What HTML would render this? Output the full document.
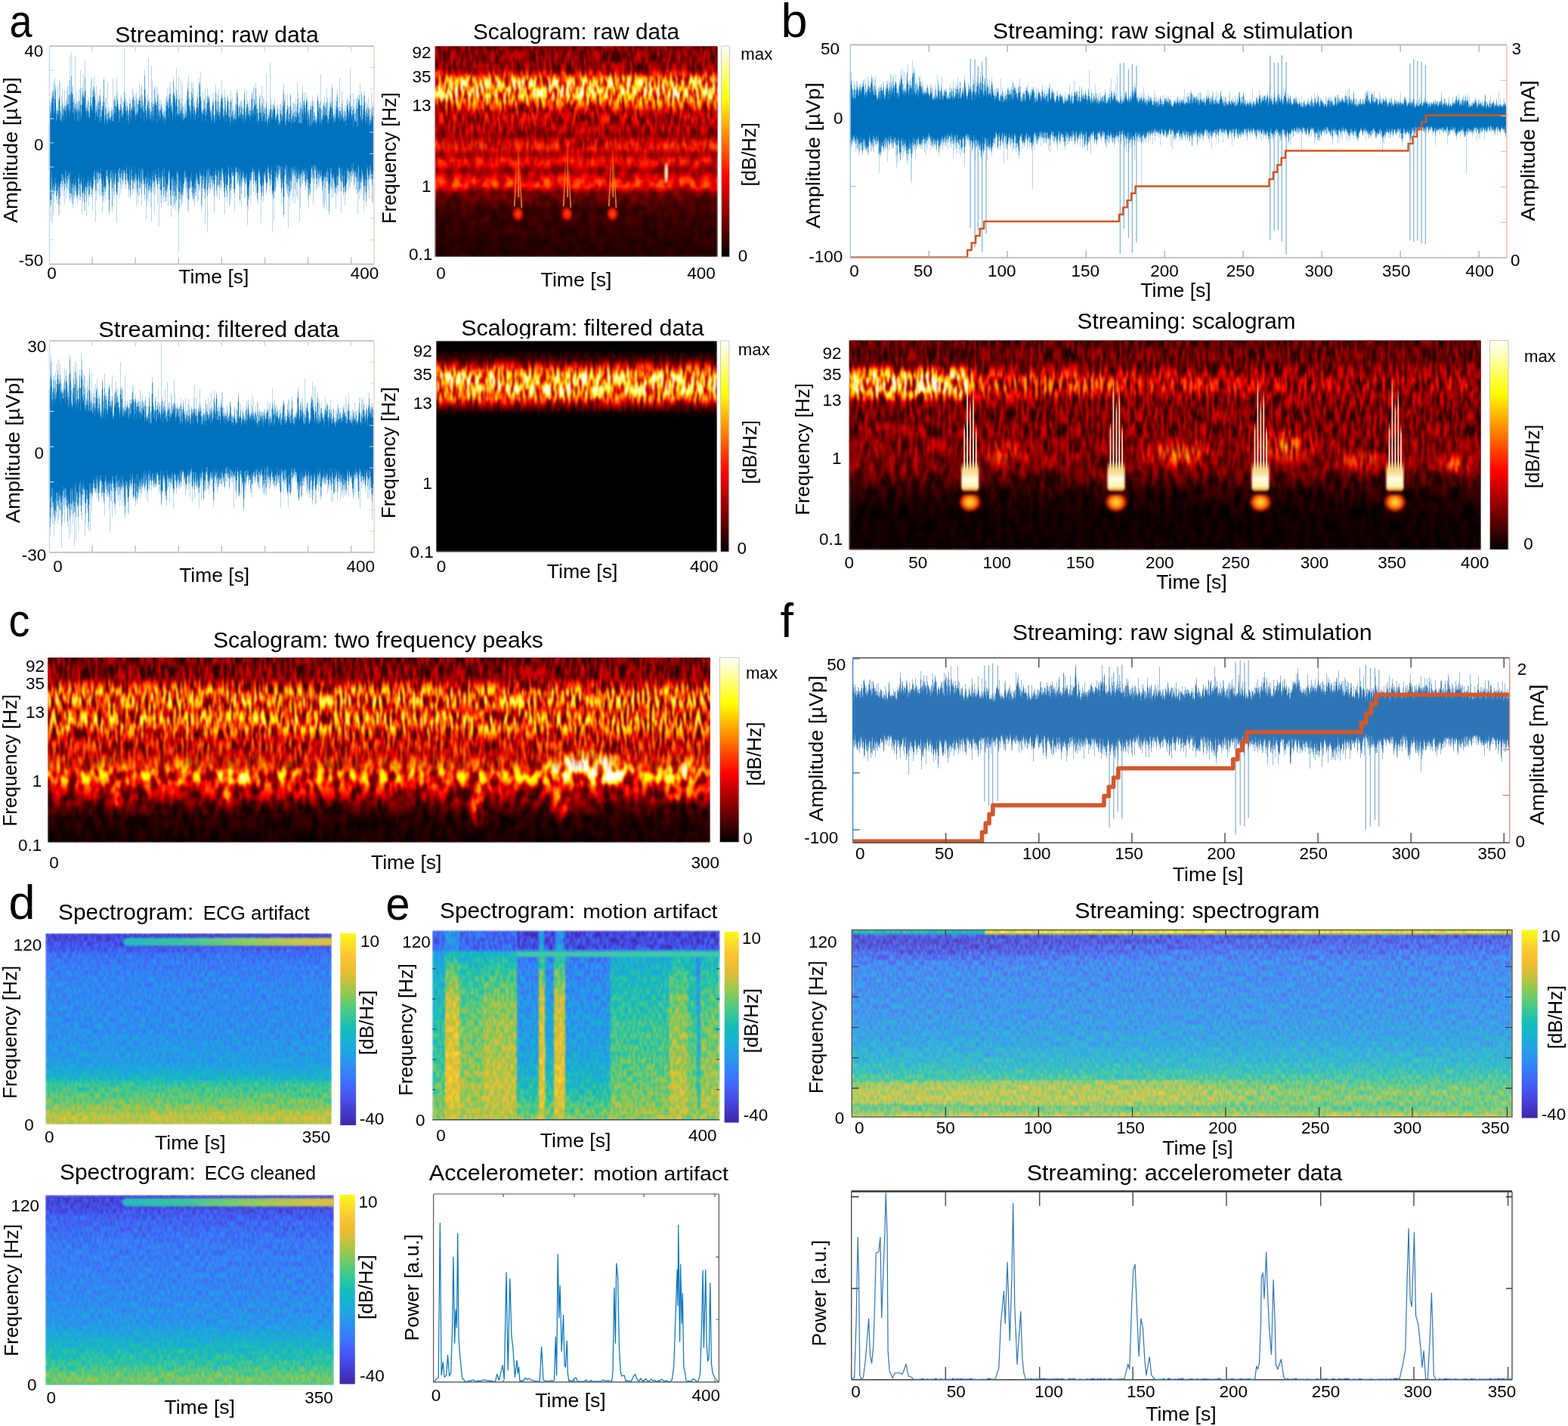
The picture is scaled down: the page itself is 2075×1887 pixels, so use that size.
<!DOCTYPE html>
<html lang="en"><head><meta charset="utf-8"><title>Figure</title>
<style>html,body{margin:0;padding:0;background:#fff}svg{display:block}text{font-family:'Liberation Sans', sans-serif;}</style></head>
<body>
<svg width="2075" height="1887" viewBox="0 0 2075 1887">
<defs>
<radialGradient id="rw"><stop offset="0" stop-color="#fff"/><stop offset="1" stop-color="#fff" stop-opacity="0"/></radialGradient>
<radialGradient id="rk"><stop offset="0" stop-color="#000"/><stop offset="1" stop-color="#000" stop-opacity="0"/></radialGradient>
<filter id="sb" x="-2%" y="-2%" width="104%" height="104%"><feGaussianBlur stdDeviation="0.55 0.4"/></filter>
<linearGradient id="ga2" gradientUnits="userSpaceOnUse" x1="0" y1="61" x2="0" y2="340"><stop offset="0.000" stop-color="#303030"/><stop offset="0.108" stop-color="#363636"/><stop offset="0.129" stop-color="#575757"/><stop offset="0.161" stop-color="#949494"/><stop offset="0.194" stop-color="#ababab"/><stop offset="0.237" stop-color="#a3a3a3"/><stop offset="0.272" stop-color="#757575"/><stop offset="0.308" stop-color="#4a4a4a"/><stop offset="0.401" stop-color="#404040"/><stop offset="0.423" stop-color="#363636"/><stop offset="0.470" stop-color="#5c5c5c"/><stop offset="0.487" stop-color="#5c5c5c"/><stop offset="0.513" stop-color="#3d3d3d"/><stop offset="0.545" stop-color="#616161"/><stop offset="0.563" stop-color="#575757"/><stop offset="0.591" stop-color="#363636"/><stop offset="0.642" stop-color="#696969"/><stop offset="0.663" stop-color="#696969"/><stop offset="0.695" stop-color="#2b2b2b"/><stop offset="0.771" stop-color="#171717"/><stop offset="1.000" stop-color="#0d0d0d"/></linearGradient>
<g id="ba2"><rect x="575.8" y="61" width="373.7" height="279" fill="url(#ga2)"/></g>
<filter id="fa20" filterUnits="userSpaceOnUse" x="575.8" y="61" width="373.7" height="279" color-interpolation-filters="sRGB"><feTurbulence type="fractalNoise" baseFrequency="0.10 0.07" numOctaves="2" seed="4" result="t"/><feColorMatrix in="t" type="matrix" values="3.0 0 0 0 -1.0 3.0 0 0 0 -1.0 3.0 0 0 0 -1.0 0 0 0 0 1" result="n"/><feComposite in="SourceGraphic" in2="n" operator="arithmetic" k1="0.6" k2="0.7" k3="0" k4="0" result="m"/><feComponentTransfer in="m" result="c"><feFuncR type="table" tableValues="0 0.167 0.333 0.5 0.667 0.833 1 1 1 1 1 1 1 1 1 1 1"/><feFuncG type="table" tableValues="0 0 0 0 0 0 0 0.167 0.333 0.5 0.667 0.833 1 1 1 1 1"/><feFuncB type="table" tableValues="0 0 0 0 0 0 0 0 0 0 0 0 0 0.25 0.5 0.75 1"/></feComponentTransfer><feGaussianBlur in="c" stdDeviation="1.2"/></filter>
<filter id="fa21" filterUnits="userSpaceOnUse" x="575.8" y="61" width="373.7" height="279" color-interpolation-filters="sRGB"><feTurbulence type="fractalNoise" baseFrequency="0.30 0.06" numOctaves="2" seed="7" result="t"/><feColorMatrix in="t" type="matrix" values="3.0 0 0 0 -1.0 3.0 0 0 0 -1.0 3.0 0 0 0 -1.0 0 0 0 0 1" result="n"/><feComposite in="SourceGraphic" in2="n" operator="arithmetic" k1="1.2" k2="0.4" k3="0" k4="0" result="m"/><feComponentTransfer in="m" result="c"><feFuncR type="table" tableValues="0 0.167 0.333 0.5 0.667 0.833 1 1 1 1 1 1 1 1 1 1 1"/><feFuncG type="table" tableValues="0 0 0 0 0 0 0 0.167 0.333 0.5 0.667 0.833 1 1 1 1 1"/><feFuncB type="table" tableValues="0 0 0 0 0 0 0 0 0 0 0 0 0 0.25 0.5 0.75 1"/></feComponentTransfer><feGaussianBlur in="c" stdDeviation="1.2"/></filter>
<linearGradient id="ma21g" gradientUnits="userSpaceOnUse" x1="0" y1="61" x2="0" y2="340"><stop offset="0.000" stop-color="#ffffff"/><stop offset="0.341" stop-color="#ffffff"/><stop offset="0.609" stop-color="#000000"/><stop offset="1.000" stop-color="#000000"/></linearGradient>
<mask id="ma21" maskUnits="userSpaceOnUse" x="575.8" y="61" width="373.7" height="279"><rect x="575.8" y="61" width="373.7" height="279" fill="url(#ma21g)"/></mask>
<linearGradient id="aa3" x1="0" y1="0" x2="0" y2="1"><stop offset="0" stop-color="#ff5a10" stop-opacity="0"/><stop offset="0.4" stop-color="#ff7a18" stop-opacity="0.6"/><stop offset="1" stop-color="#ffa030" stop-opacity="0.85"/></linearGradient>
<radialGradient id="aa2"><stop offset="0" stop-color="#ff4a18"/><stop offset="0.5" stop-color="#f81800" stop-opacity="0.9"/><stop offset="1" stop-color="#800000" stop-opacity="0"/></radialGradient>
<linearGradient id="cba2" gradientUnits="userSpaceOnUse" x1="0" y1="61" x2="0" y2="340"><stop offset="0.000" stop-color="#ffffff"/><stop offset="0.062" stop-color="#ffffbf"/><stop offset="0.125" stop-color="#ffff80"/><stop offset="0.188" stop-color="#ffff40"/><stop offset="0.250" stop-color="#ffff00"/><stop offset="0.312" stop-color="#ffd500"/><stop offset="0.375" stop-color="#ffaa00"/><stop offset="0.438" stop-color="#ff8000"/><stop offset="0.500" stop-color="#ff5500"/><stop offset="0.562" stop-color="#ff2b00"/><stop offset="0.625" stop-color="#ff0000"/><stop offset="0.688" stop-color="#d50000"/><stop offset="0.750" stop-color="#aa0000"/><stop offset="0.812" stop-color="#800000"/><stop offset="0.875" stop-color="#550000"/><stop offset="0.938" stop-color="#2b0000"/><stop offset="1.000" stop-color="#000000"/></linearGradient>
<linearGradient id="ga4" gradientUnits="userSpaceOnUse" x1="0" y1="451" x2="0" y2="730.2"><stop offset="0.000" stop-color="#000000"/><stop offset="0.050" stop-color="#030303"/><stop offset="0.093" stop-color="#1f1f1f"/><stop offset="0.129" stop-color="#666666"/><stop offset="0.165" stop-color="#a6a6a6"/><stop offset="0.229" stop-color="#ababab"/><stop offset="0.272" stop-color="#808080"/><stop offset="0.308" stop-color="#2e2e2e"/><stop offset="0.344" stop-color="#050505"/><stop offset="0.372" stop-color="#000000"/><stop offset="1.000" stop-color="#000000"/></linearGradient>
<g id="ba4"><rect x="577" y="451" width="371.7" height="279.2" fill="url(#ga4)"/></g>
<filter id="fa40" filterUnits="userSpaceOnUse" x="577" y="451" width="371.7" height="279.2" color-interpolation-filters="sRGB"><feTurbulence type="fractalNoise" baseFrequency="0.27 0.055" numOctaves="2" seed="9" result="t"/><feColorMatrix in="t" type="matrix" values="3.0 0 0 0 -1.0 3.0 0 0 0 -1.0 3.0 0 0 0 -1.0 0 0 0 0 1" result="n"/><feComposite in="SourceGraphic" in2="n" operator="arithmetic" k1="1.2" k2="0.4" k3="0" k4="0" result="m"/><feComponentTransfer in="m" result="c"><feFuncR type="table" tableValues="0 0.167 0.333 0.5 0.667 0.833 1 1 1 1 1 1 1 1 1 1 1"/><feFuncG type="table" tableValues="0 0 0 0 0 0 0 0.167 0.333 0.5 0.667 0.833 1 1 1 1 1"/><feFuncB type="table" tableValues="0 0 0 0 0 0 0 0 0 0 0 0 0 0.25 0.5 0.75 1"/></feComponentTransfer><feGaussianBlur in="c" stdDeviation="1.2"/></filter>
<linearGradient id="cba4" gradientUnits="userSpaceOnUse" x1="0" y1="451" x2="0" y2="730.2"><stop offset="0.000" stop-color="#ffffff"/><stop offset="0.062" stop-color="#ffffbf"/><stop offset="0.125" stop-color="#ffff80"/><stop offset="0.188" stop-color="#ffff40"/><stop offset="0.250" stop-color="#ffff00"/><stop offset="0.312" stop-color="#ffd500"/><stop offset="0.375" stop-color="#ffaa00"/><stop offset="0.438" stop-color="#ff8000"/><stop offset="0.500" stop-color="#ff5500"/><stop offset="0.562" stop-color="#ff2b00"/><stop offset="0.625" stop-color="#ff0000"/><stop offset="0.688" stop-color="#d50000"/><stop offset="0.750" stop-color="#aa0000"/><stop offset="0.812" stop-color="#800000"/><stop offset="0.875" stop-color="#550000"/><stop offset="0.938" stop-color="#2b0000"/><stop offset="1.000" stop-color="#000000"/></linearGradient>
<linearGradient id="gb2" gradientUnits="userSpaceOnUse" x1="0" y1="450.5" x2="0" y2="727.3"><stop offset="0.000" stop-color="#212121"/><stop offset="0.108" stop-color="#262626"/><stop offset="0.145" stop-color="#303030"/><stop offset="0.188" stop-color="#3b3b3b"/><stop offset="0.224" stop-color="#3b3b3b"/><stop offset="0.275" stop-color="#303030"/><stop offset="0.343" stop-color="#2b2b2b"/><stop offset="0.542" stop-color="#2e2e2e"/><stop offset="0.614" stop-color="#292929"/><stop offset="0.668" stop-color="#1a1a1a"/><stop offset="0.723" stop-color="#0d0d0d"/><stop offset="0.831" stop-color="#060606"/><stop offset="1.000" stop-color="#050505"/></linearGradient>
<linearGradient id="gb2h" gradientUnits="userSpaceOnUse" x1="1123.8" y1="0" x2="1959.8" y2="0"><stop offset="0" stop-color="#fff" stop-opacity="0.52"/><stop offset="0.18" stop-color="#fff" stop-opacity="0.55"/><stop offset="0.2" stop-color="#fff" stop-opacity="0.15"/><stop offset="0.4" stop-color="#fff" stop-opacity="0.15"/><stop offset="0.45" stop-color="#fff" stop-opacity="0.08"/><stop offset="0.62" stop-color="#fff" stop-opacity="0.05"/><stop offset="0.7" stop-color="#fff" stop-opacity="0"/><stop offset="1" stop-color="#fff" stop-opacity="0"/></linearGradient>
<linearGradient id="gb2v" gradientUnits="userSpaceOnUse" x1="0" y1="482.5" x2="0" y2="532.5"><stop offset="0" stop-color="#000"/><stop offset="0.3" stop-color="#fff"/><stop offset="0.7" stop-color="#fff"/><stop offset="1" stop-color="#000"/></linearGradient>
<mask id="mb2band" maskUnits="userSpaceOnUse" x="1123.8" y="482.5" width="836" height="50"><rect x="1123.8" y="482.5" width="836" height="50" fill="url(#gb2v)"/></mask>
<linearGradient id="gb2a" x1="0" y1="0" x2="0" y2="1"><stop offset="0" stop-color="#fff" stop-opacity="0"/><stop offset="0.45" stop-color="#fff" stop-opacity="0.35"/><stop offset="0.72" stop-color="#fff" stop-opacity="1"/><stop offset="0.86" stop-color="#fff" stop-opacity="0.9"/><stop offset="1" stop-color="#fff" stop-opacity="0"/></linearGradient>
<g id="bb2"><rect x="1123.8" y="450.5" width="836" height="276.8" fill="url(#gb2)"/><g mask="url(#mb2band)"><rect x="1123.8" y="482.5" width="836" height="50" fill="url(#gb2h)"/></g><ellipse cx="1330" cy="600.5" rx="40" ry="22" fill="url(#rw)" opacity="0.2"/><ellipse cx="1560" cy="600.5" rx="60" ry="24" fill="url(#rw)" opacity="0.28"/><ellipse cx="1700" cy="590.5" rx="50" ry="26" fill="url(#rw)" opacity="0.3"/><ellipse cx="1800" cy="610.5" rx="40" ry="20" fill="url(#rw)" opacity="0.2"/><ellipse cx="1925" cy="615.5" rx="30" ry="20" fill="url(#rw)" opacity="0.25"/></g>
<filter id="fb20" filterUnits="userSpaceOnUse" x="1123.8" y="450.5" width="836" height="276.8" color-interpolation-filters="sRGB"><feTurbulence type="fractalNoise" baseFrequency="0.12 0.045" numOctaves="2" seed="14" result="t"/><feColorMatrix in="t" type="matrix" values="3.0 0 0 0 -1.0 3.0 0 0 0 -1.0 3.0 0 0 0 -1.0 0 0 0 0 1" result="n"/><feComposite in="SourceGraphic" in2="n" operator="arithmetic" k1="1.6" k2="0.3" k3="0" k4="0" result="m"/><feComponentTransfer in="m" result="c"><feFuncR type="table" tableValues="0 0.167 0.333 0.5 0.667 0.833 1 1 1 1 1 1 1 1 1 1 1"/><feFuncG type="table" tableValues="0 0 0 0 0 0 0 0.167 0.333 0.5 0.667 0.833 1 1 1 1 1"/><feFuncB type="table" tableValues="0 0 0 0 0 0 0 0 0 0 0 0 0 0.25 0.5 0.75 1"/></feComponentTransfer><feGaussianBlur in="c" stdDeviation="1.1"/></filter>
<filter id="fb21" filterUnits="userSpaceOnUse" x="1123.8" y="450.5" width="836" height="276.8" color-interpolation-filters="sRGB"><feTurbulence type="fractalNoise" baseFrequency="0.27 0.05" numOctaves="2" seed="17" result="t"/><feColorMatrix in="t" type="matrix" values="3.0 0 0 0 -1.0 3.0 0 0 0 -1.0 3.0 0 0 0 -1.0 0 0 0 0 1" result="n"/><feComposite in="SourceGraphic" in2="n" operator="arithmetic" k1="1.5" k2="0.3" k3="0" k4="0" result="m"/><feComponentTransfer in="m" result="c"><feFuncR type="table" tableValues="0 0.167 0.333 0.5 0.667 0.833 1 1 1 1 1 1 1 1 1 1 1"/><feFuncG type="table" tableValues="0 0 0 0 0 0 0 0.167 0.333 0.5 0.667 0.833 1 1 1 1 1"/><feFuncB type="table" tableValues="0 0 0 0 0 0 0 0 0 0 0 0 0 0.25 0.5 0.75 1"/></feComponentTransfer><feGaussianBlur in="c" stdDeviation="1.1"/></filter>
<linearGradient id="mb21g" gradientUnits="userSpaceOnUse" x1="0" y1="450.5" x2="0" y2="727.3"><stop offset="0.000" stop-color="#ffffff"/><stop offset="0.434" stop-color="#ffffff"/><stop offset="0.723" stop-color="#000000"/><stop offset="1.000" stop-color="#000000"/></linearGradient>
<mask id="mb21" maskUnits="userSpaceOnUse" x="1123.8" y="450.5" width="836" height="276.8"><rect x="1123.8" y="450.5" width="836" height="276.8" fill="url(#mb21g)"/></mask>
<linearGradient id="ab1" x1="0" y1="0" x2="0" y2="1"><stop offset="0" stop-color="#ffe080" stop-opacity="0"/><stop offset="0.3" stop-color="#ffe88a" stop-opacity="0.9"/><stop offset="0.6" stop-color="#fffbe0"/><stop offset="0.85" stop-color="#fff6b0"/><stop offset="1" stop-color="#ffa020" stop-opacity="0.9"/></linearGradient>
<radialGradient id="ab2"><stop offset="0" stop-color="#ffd848"/><stop offset="0.3" stop-color="#ffb020"/><stop offset="0.6" stop-color="#ff4a00" stop-opacity="0.95"/><stop offset="1" stop-color="#900000" stop-opacity="0"/></radialGradient>
<linearGradient id="ab3" x1="0" y1="0" x2="0" y2="1"><stop offset="0" stop-color="#ffe0a0" stop-opacity="0"/><stop offset="0.2" stop-color="#ffecc0" stop-opacity="0.85"/><stop offset="1" stop-color="#fffef4" stop-opacity="1"/></linearGradient>
<filter id="sb3" filterUnits="userSpaceOnUse" x="0" y="0" width="2075" height="1887"><feGaussianBlur stdDeviation="0.9 1.3"/></filter>
<linearGradient id="cbb2" gradientUnits="userSpaceOnUse" x1="0" y1="450.5" x2="0" y2="727.3"><stop offset="0.000" stop-color="#ffffff"/><stop offset="0.062" stop-color="#ffffbf"/><stop offset="0.125" stop-color="#ffff80"/><stop offset="0.188" stop-color="#ffff40"/><stop offset="0.250" stop-color="#ffff00"/><stop offset="0.312" stop-color="#ffd500"/><stop offset="0.375" stop-color="#ffaa00"/><stop offset="0.438" stop-color="#ff8000"/><stop offset="0.500" stop-color="#ff5500"/><stop offset="0.562" stop-color="#ff2b00"/><stop offset="0.625" stop-color="#ff0000"/><stop offset="0.688" stop-color="#d50000"/><stop offset="0.750" stop-color="#aa0000"/><stop offset="0.812" stop-color="#800000"/><stop offset="0.875" stop-color="#550000"/><stop offset="0.938" stop-color="#2b0000"/><stop offset="1.000" stop-color="#000000"/></linearGradient>
<linearGradient id="gc" gradientUnits="userSpaceOnUse" x1="0" y1="870.2" x2="0" y2="1114.7"><stop offset="0.000" stop-color="#292929"/><stop offset="0.106" stop-color="#303030"/><stop offset="0.147" stop-color="#525252"/><stop offset="0.188" stop-color="#787878"/><stop offset="0.237" stop-color="#7d7d7d"/><stop offset="0.278" stop-color="#666666"/><stop offset="0.327" stop-color="#787878"/><stop offset="0.376" stop-color="#787878"/><stop offset="0.425" stop-color="#545454"/><stop offset="0.511" stop-color="#4c4c4c"/><stop offset="0.564" stop-color="#5c5c5c"/><stop offset="0.613" stop-color="#757575"/><stop offset="0.667" stop-color="#757575"/><stop offset="0.703" stop-color="#525252"/><stop offset="0.753" stop-color="#383838"/><stop offset="0.802" stop-color="#1f1f1f"/><stop offset="0.859" stop-color="#0f0f0f"/><stop offset="1.000" stop-color="#080808"/></linearGradient>
<g id="bc"><rect x="63.1" y="870.2" width="876.9" height="244.5" fill="url(#gc)"/><ellipse cx="778" cy="1016.2" rx="75" ry="26" fill="url(#rw)" opacity="0.85"/><ellipse cx="905" cy="1018.2" rx="45" ry="22" fill="url(#rw)" opacity="0.45"/><ellipse cx="310" cy="1028.2" rx="40" ry="14" fill="url(#rw)" opacity="0.25"/><ellipse cx="632" cy="1065.2" rx="12" ry="30" fill="url(#rw)" opacity="0.45"/><ellipse cx="743" cy="1060.2" rx="18" ry="30" fill="url(#rw)" opacity="0.35"/><ellipse cx="155" cy="1055.2" rx="12" ry="22" fill="url(#rw)" opacity="0.3"/><ellipse cx="300" cy="1055.2" rx="14" ry="20" fill="url(#rw)" opacity="0.25"/><ellipse cx="900" cy="1050.2" rx="30" ry="16" fill="url(#rw)" opacity="0.3"/></g>
<filter id="fc0" filterUnits="userSpaceOnUse" x="63.1" y="870.2" width="876.9" height="244.5" color-interpolation-filters="sRGB"><feTurbulence type="fractalNoise" baseFrequency="0.10 0.05" numOctaves="2" seed="24" result="t"/><feColorMatrix in="t" type="matrix" values="3.0 0 0 0 -1.0 3.0 0 0 0 -1.0 3.0 0 0 0 -1.0 0 0 0 0 1" result="n"/><feComposite in="SourceGraphic" in2="n" operator="arithmetic" k1="1.3" k2="0.35" k3="0" k4="0" result="m"/><feComponentTransfer in="m" result="c"><feFuncR type="table" tableValues="0 0.167 0.333 0.5 0.667 0.833 1 1 1 1 1 1 1 1 1 1 1"/><feFuncG type="table" tableValues="0 0 0 0 0 0 0 0.167 0.333 0.5 0.667 0.833 1 1 1 1 1"/><feFuncB type="table" tableValues="0 0 0 0 0 0 0 0 0 0 0 0 0 0.25 0.5 0.75 1"/></feComponentTransfer><feGaussianBlur in="c" stdDeviation="1.1"/></filter>
<filter id="fc1" filterUnits="userSpaceOnUse" x="63.1" y="870.2" width="876.9" height="244.5" color-interpolation-filters="sRGB"><feTurbulence type="fractalNoise" baseFrequency="0.30 0.05" numOctaves="2" seed="27" result="t"/><feColorMatrix in="t" type="matrix" values="3.0 0 0 0 -1.0 3.0 0 0 0 -1.0 3.0 0 0 0 -1.0 0 0 0 0 1" result="n"/><feComposite in="SourceGraphic" in2="n" operator="arithmetic" k1="1.5" k2="0.28" k3="0" k4="0" result="m"/><feComponentTransfer in="m" result="c"><feFuncR type="table" tableValues="0 0.167 0.333 0.5 0.667 0.833 1 1 1 1 1 1 1 1 1 1 1"/><feFuncG type="table" tableValues="0 0 0 0 0 0 0 0.167 0.333 0.5 0.667 0.833 1 1 1 1 1"/><feFuncB type="table" tableValues="0 0 0 0 0 0 0 0 0 0 0 0 0 0.25 0.5 0.75 1"/></feComponentTransfer><feGaussianBlur in="c" stdDeviation="1.1"/></filter>
<linearGradient id="mc1g" gradientUnits="userSpaceOnUse" x1="0" y1="870.2" x2="0" y2="1114.7"><stop offset="0.000" stop-color="#ffffff"/><stop offset="0.470" stop-color="#ffffff"/><stop offset="0.634" stop-color="#000000"/><stop offset="1.000" stop-color="#000000"/></linearGradient>
<mask id="mc1" maskUnits="userSpaceOnUse" x="63.1" y="870.2" width="876.9" height="244.5"><rect x="63.1" y="870.2" width="876.9" height="244.5" fill="url(#mc1g)"/></mask>
<linearGradient id="cbc" gradientUnits="userSpaceOnUse" x1="0" y1="870.2" x2="0" y2="1114.7"><stop offset="0.000" stop-color="#ffffff"/><stop offset="0.062" stop-color="#ffffbf"/><stop offset="0.125" stop-color="#ffff80"/><stop offset="0.188" stop-color="#ffff40"/><stop offset="0.250" stop-color="#ffff00"/><stop offset="0.312" stop-color="#ffd500"/><stop offset="0.375" stop-color="#ffaa00"/><stop offset="0.438" stop-color="#ff8000"/><stop offset="0.500" stop-color="#ff5500"/><stop offset="0.562" stop-color="#ff2b00"/><stop offset="0.625" stop-color="#ff0000"/><stop offset="0.688" stop-color="#d50000"/><stop offset="0.750" stop-color="#aa0000"/><stop offset="0.812" stop-color="#800000"/><stop offset="0.875" stop-color="#550000"/><stop offset="0.938" stop-color="#2b0000"/><stop offset="1.000" stop-color="#000000"/></linearGradient>
<filter id="sb2" x="-5%" y="-50%" width="110%" height="200%"><feGaussianBlur stdDeviation="1.2"/></filter>
<linearGradient id="gd1" gradientUnits="userSpaceOnUse" x1="0" y1="1235.2" x2="0" y2="1488"><stop offset="0.000" stop-color="#1a1a1a"/><stop offset="0.060" stop-color="#242424"/><stop offset="0.120" stop-color="#3d3d3d"/><stop offset="0.250" stop-color="#494949"/><stop offset="0.500" stop-color="#505050"/><stop offset="0.680" stop-color="#5d5d5d"/><stop offset="0.750" stop-color="#737373"/><stop offset="0.800" stop-color="#919191"/><stop offset="0.900" stop-color="#a8a8a8"/><stop offset="0.965" stop-color="#c2c2c2"/><stop offset="1.000" stop-color="#b8b8b8"/></linearGradient>
<linearGradient id="gd1b" gradientUnits="userSpaceOnUse" x1="163" y1="0" x2="439" y2="0"><stop offset="0" stop-color="#22b8c4"/><stop offset="0.3" stop-color="#3cc49c"/><stop offset="0.6" stop-color="#8ccc60"/><stop offset="0.85" stop-color="#c8c448"/><stop offset="1" stop-color="#dcc040"/></linearGradient>
<g id="bd1"><rect x="60.5" y="1235.2" width="378.5" height="252.8" fill="url(#gd1)"/></g>
<filter id="fd10" filterUnits="userSpaceOnUse" x="60.5" y="1235.2" width="378.5" height="252.8" color-interpolation-filters="sRGB"><feTurbulence type="fractalNoise" baseFrequency="0.45 0.13" numOctaves="2" seed="41" result="t"/><feColorMatrix in="t" type="matrix" values="3.0 0 0 0 -1.0 3.0 0 0 0 -1.0 3.0 0 0 0 -1.0 0 0 0 0 1" result="n"/><feComposite in="SourceGraphic" in2="n" operator="arithmetic" k1="0" k2="1" k3="0.18" k4="-0.09" result="m"/><feComponentTransfer in="m" result="c"><feFuncR type="table" tableValues="0.243 0.265 0.275 0.265 0.224 0.175 0.128 0.095 0.071 0.203 0.364 0.567 0.763 0.927 0.976 0.989 0.976"/><feFuncG type="table" tableValues="0.149 0.22 0.298 0.386 0.476 0.564 0.637 0.696 0.745 0.777 0.794 0.789 0.759 0.736 0.768 0.857 0.984"/><feFuncB type="table" tableValues="0.659 0.791 0.901 0.977 0.973 0.943 0.894 0.819 0.725 0.6 0.468 0.323 0.241 0.191 0.203 0.161 0.082"/></feComponentTransfer><feGaussianBlur in="c" stdDeviation="0.8"/></filter>
<linearGradient id="cbd1" gradientUnits="userSpaceOnUse" x1="0" y1="1235" x2="0" y2="1489"><stop offset="0.000" stop-color="#f9fb15"/><stop offset="0.062" stop-color="#fcdb29"/><stop offset="0.125" stop-color="#f9c434"/><stop offset="0.188" stop-color="#edbc31"/><stop offset="0.250" stop-color="#c3c23e"/><stop offset="0.312" stop-color="#91c952"/><stop offset="0.375" stop-color="#5dcb77"/><stop offset="0.438" stop-color="#34c699"/><stop offset="0.500" stop-color="#12beb9"/><stop offset="0.562" stop-color="#18b2d1"/><stop offset="0.625" stop-color="#21a3e4"/><stop offset="0.688" stop-color="#2d90f1"/><stop offset="0.750" stop-color="#397af8"/><stop offset="0.812" stop-color="#4463f9"/><stop offset="0.875" stop-color="#464ce6"/><stop offset="0.938" stop-color="#4438ca"/><stop offset="1.000" stop-color="#3e26a8"/></linearGradient>
<linearGradient id="gd2" gradientUnits="userSpaceOnUse" x1="0" y1="1581.8" x2="0" y2="1832.8"><stop offset="0.000" stop-color="#1a1a1a"/><stop offset="0.060" stop-color="#1d1d1d"/><stop offset="0.120" stop-color="#303030"/><stop offset="0.250" stop-color="#3f3f3f"/><stop offset="0.500" stop-color="#4a4a4a"/><stop offset="0.680" stop-color="#575757"/><stop offset="0.750" stop-color="#6b6b6b"/><stop offset="0.800" stop-color="#787878"/><stop offset="0.900" stop-color="#8f8f8f"/><stop offset="0.965" stop-color="#a8a8a8"/><stop offset="1.000" stop-color="#9e9e9e"/></linearGradient>
<linearGradient id="gd2b" gradientUnits="userSpaceOnUse" x1="162" y1="0" x2="441.6" y2="0"><stop offset="0" stop-color="#22b8c4"/><stop offset="0.3" stop-color="#3cc49c"/><stop offset="0.6" stop-color="#8ccc60"/><stop offset="0.85" stop-color="#c8c448"/><stop offset="1" stop-color="#dcc040"/></linearGradient>
<g id="bd2"><rect x="60" y="1581.8" width="381.6" height="251" fill="url(#gd2)"/></g>
<filter id="fd20" filterUnits="userSpaceOnUse" x="60" y="1581.8" width="381.6" height="251" color-interpolation-filters="sRGB"><feTurbulence type="fractalNoise" baseFrequency="0.45 0.13" numOctaves="2" seed="47" result="t"/><feColorMatrix in="t" type="matrix" values="3.0 0 0 0 -1.0 3.0 0 0 0 -1.0 3.0 0 0 0 -1.0 0 0 0 0 1" result="n"/><feComposite in="SourceGraphic" in2="n" operator="arithmetic" k1="0" k2="1" k3="0.18" k4="-0.09" result="m"/><feComponentTransfer in="m" result="c"><feFuncR type="table" tableValues="0.243 0.265 0.275 0.265 0.224 0.175 0.128 0.095 0.071 0.203 0.364 0.567 0.763 0.927 0.976 0.989 0.976"/><feFuncG type="table" tableValues="0.149 0.22 0.298 0.386 0.476 0.564 0.637 0.696 0.745 0.777 0.794 0.789 0.759 0.736 0.768 0.857 0.984"/><feFuncB type="table" tableValues="0.659 0.791 0.901 0.977 0.973 0.943 0.894 0.819 0.725 0.6 0.468 0.323 0.241 0.191 0.203 0.161 0.082"/></feComponentTransfer><feGaussianBlur in="c" stdDeviation="0.8"/></filter>
<linearGradient id="cbd2" gradientUnits="userSpaceOnUse" x1="0" y1="1581" x2="0" y2="1831.5"><stop offset="0.000" stop-color="#f9fb15"/><stop offset="0.062" stop-color="#fcdb29"/><stop offset="0.125" stop-color="#f9c434"/><stop offset="0.188" stop-color="#edbc31"/><stop offset="0.250" stop-color="#c3c23e"/><stop offset="0.312" stop-color="#91c952"/><stop offset="0.375" stop-color="#5dcb77"/><stop offset="0.438" stop-color="#34c699"/><stop offset="0.500" stop-color="#12beb9"/><stop offset="0.562" stop-color="#18b2d1"/><stop offset="0.625" stop-color="#21a3e4"/><stop offset="0.688" stop-color="#2d90f1"/><stop offset="0.750" stop-color="#397af8"/><stop offset="0.812" stop-color="#4463f9"/><stop offset="0.875" stop-color="#464ce6"/><stop offset="0.938" stop-color="#4438ca"/><stop offset="1.000" stop-color="#3e26a8"/></linearGradient>
<linearGradient id="ge1" gradientUnits="userSpaceOnUse" x1="0" y1="1231.8" x2="0" y2="1481.5"><stop offset="0.000" stop-color="#1a1a1a"/><stop offset="0.096" stop-color="#1f1f1f"/><stop offset="0.108" stop-color="#6b6b6b"/><stop offset="0.240" stop-color="#808080"/><stop offset="0.481" stop-color="#949494"/><stop offset="0.801" stop-color="#a6a6a6"/><stop offset="0.941" stop-color="#b2b2b2"/><stop offset="1.000" stop-color="#b2b2b2"/></linearGradient>
<linearGradient id="ge1k" x1="0" y1="0" x2="0" y2="1"><stop offset="0" stop-color="#000" stop-opacity="0.42"/><stop offset="0.6" stop-color="#000" stop-opacity="0.38"/><stop offset="0.85" stop-color="#000" stop-opacity="0.22"/><stop offset="1" stop-color="#000" stop-opacity="0.05"/></linearGradient>
<linearGradient id="ge1w" x1="0" y1="0" x2="0" y2="1"><stop offset="0" stop-color="#fff" stop-opacity="0.1"/><stop offset="0.3" stop-color="#fff" stop-opacity="0.5"/><stop offset="0.8" stop-color="#fff" stop-opacity="0.55"/><stop offset="1" stop-color="#fff" stop-opacity="0.2"/></linearGradient>
<g id="be1"><rect x="572.3" y="1231.8" width="379.9" height="249.7" fill="url(#ge1)"/><rect x="572.3" y="1258.8" width="16.7" height="222.7" fill="url(#ge1k)" opacity="0.3"/><rect x="589" y="1258.8" width="19" height="222.7" fill="url(#ge1w)" opacity="1.0"/><rect x="608" y="1258.8" width="32" height="222.7" fill="url(#ge1w)" opacity="0.25"/><rect x="640" y="1258.8" width="44" height="222.7" fill="url(#ge1w)" opacity="0.55"/><rect x="684" y="1258.8" width="29" height="222.7" fill="url(#ge1k)" opacity="1.0"/><rect x="713" y="1258.8" width="8.5" height="222.7" fill="url(#ge1w)" opacity="1.0"/><rect x="721.5" y="1258.8" width="11.5" height="222.7" fill="url(#ge1k)" opacity="0.9"/><rect x="733" y="1258.8" width="15" height="222.7" fill="url(#ge1w)" opacity="0.95"/><rect x="748" y="1258.8" width="59.6" height="222.7" fill="url(#ge1k)" opacity="1.1"/><rect x="807.6" y="1258.8" width="78.4" height="222.7" fill="url(#ge1k)" opacity="0.12"/><rect x="886" y="1258.8" width="24" height="222.7" fill="url(#ge1w)" opacity="0.5"/><rect x="922" y="1258.8" width="5" height="222.7" fill="url(#ge1k)" opacity="0.8"/><rect x="927" y="1258.8" width="25.2" height="222.7" fill="url(#ge1w)" opacity="0.25"/><rect x="572.3" y="1231.8" width="112" height="27" fill="#3d3d3d" opacity="0.7"/><rect x="589" y="1231.8" width="19" height="27" fill="#5c5c5c" opacity="0.8"/><rect x="714" y="1231.8" width="6" height="27" fill="#666666"/><rect x="735" y="1231.8" width="11" height="27" fill="#5c5c5c"/></g>
<filter id="fe10" filterUnits="userSpaceOnUse" x="572.3" y="1231.8" width="379.9" height="249.7" color-interpolation-filters="sRGB"><feTurbulence type="fractalNoise" baseFrequency="0.34 0.12" numOctaves="2" seed="53" result="t"/><feColorMatrix in="t" type="matrix" values="3.0 0 0 0 -1.0 3.0 0 0 0 -1.0 3.0 0 0 0 -1.0 0 0 0 0 1" result="n"/><feComposite in="SourceGraphic" in2="n" operator="arithmetic" k1="0" k2="1" k3="0.2" k4="-0.1" result="m"/><feComponentTransfer in="m" result="c"><feFuncR type="table" tableValues="0.243 0.265 0.275 0.265 0.224 0.175 0.128 0.095 0.071 0.203 0.364 0.567 0.763 0.927 0.976 0.989 0.976"/><feFuncG type="table" tableValues="0.149 0.22 0.298 0.386 0.476 0.564 0.637 0.696 0.745 0.777 0.794 0.789 0.759 0.736 0.768 0.857 0.984"/><feFuncB type="table" tableValues="0.659 0.791 0.901 0.977 0.973 0.943 0.894 0.819 0.725 0.6 0.468 0.323 0.241 0.191 0.203 0.161 0.082"/></feComponentTransfer><feGaussianBlur in="c" stdDeviation="0.8"/></filter>
<linearGradient id="cbe1" gradientUnits="userSpaceOnUse" x1="0" y1="1233" x2="0" y2="1485.5"><stop offset="0.000" stop-color="#f9fb15"/><stop offset="0.062" stop-color="#fcdb29"/><stop offset="0.125" stop-color="#f9c434"/><stop offset="0.188" stop-color="#edbc31"/><stop offset="0.250" stop-color="#c3c23e"/><stop offset="0.312" stop-color="#91c952"/><stop offset="0.375" stop-color="#5dcb77"/><stop offset="0.438" stop-color="#34c699"/><stop offset="0.500" stop-color="#12beb9"/><stop offset="0.562" stop-color="#18b2d1"/><stop offset="0.625" stop-color="#21a3e4"/><stop offset="0.688" stop-color="#2d90f1"/><stop offset="0.750" stop-color="#397af8"/><stop offset="0.812" stop-color="#4463f9"/><stop offset="0.875" stop-color="#464ce6"/><stop offset="0.938" stop-color="#4438ca"/><stop offset="1.000" stop-color="#3e26a8"/></linearGradient>
<linearGradient id="gf2" gradientUnits="userSpaceOnUse" x1="0" y1="1230.5" x2="0" y2="1478"><stop offset="0.000" stop-color="#292929"/><stop offset="0.032" stop-color="#262626"/><stop offset="0.089" stop-color="#2e2e2e"/><stop offset="0.162" stop-color="#454545"/><stop offset="0.323" stop-color="#4c4c4c"/><stop offset="0.485" stop-color="#545454"/><stop offset="0.606" stop-color="#616161"/><stop offset="0.707" stop-color="#737373"/><stop offset="0.768" stop-color="#858585"/><stop offset="0.816" stop-color="#949494"/><stop offset="0.865" stop-color="#a3a3a3"/><stop offset="0.913" stop-color="#a3a3a3"/><stop offset="0.945" stop-color="#999999"/><stop offset="0.978" stop-color="#adadad"/><stop offset="1.000" stop-color="#cccccc"/></linearGradient>
<linearGradient id="gf2h" gradientUnits="userSpaceOnUse" x1="1127.3" y1="0" x2="2001" y2="0"><stop offset="0" stop-color="#fff" stop-opacity="0.28"/><stop offset="0.5" stop-color="#fff" stop-opacity="0.25"/><stop offset="0.62" stop-color="#fff" stop-opacity="0.08"/><stop offset="1" stop-color="#fff" stop-opacity="0"/></linearGradient>
<g id="bf2"><rect x="1127.3" y="1230.5" width="873.7" height="247.5" fill="url(#gf2)"/><ellipse cx="1464.2" cy="1446.5" rx="536.9" ry="17" fill="url(#gf2h)"/><ellipse cx="1247.3" cy="1246.5" rx="360" ry="34" fill="url(#rk)" opacity="0.5"/><rect x="1127.3" y="1236.5" width="873.7" height="5" fill="#1a1a1a" opacity="0.6"/><rect x="1127.3" y="1230.5" width="176.1" height="5.8" fill="#808080"/><rect x="1303.4" y="1230.5" width="697.6" height="5.8" fill="#ededed"/></g>
<filter id="ff20" filterUnits="userSpaceOnUse" x="1127.3" y="1230.5" width="873.7" height="247.5" color-interpolation-filters="sRGB"><feTurbulence type="fractalNoise" baseFrequency="0.45 0.14" numOctaves="2" seed="83" result="t"/><feColorMatrix in="t" type="matrix" values="3.0 0 0 0 -1.0 3.0 0 0 0 -1.0 3.0 0 0 0 -1.0 0 0 0 0 1" result="n"/><feComposite in="SourceGraphic" in2="n" operator="arithmetic" k1="0" k2="1" k3="0.26" k4="-0.13" result="m"/><feComponentTransfer in="m" result="c"><feFuncR type="table" tableValues="0.243 0.265 0.275 0.265 0.224 0.175 0.128 0.095 0.071 0.203 0.364 0.567 0.763 0.927 0.976 0.989 0.976"/><feFuncG type="table" tableValues="0.149 0.22 0.298 0.386 0.476 0.564 0.637 0.696 0.745 0.777 0.794 0.789 0.759 0.736 0.768 0.857 0.984"/><feFuncB type="table" tableValues="0.659 0.791 0.901 0.977 0.973 0.943 0.894 0.819 0.725 0.6 0.468 0.323 0.241 0.191 0.203 0.161 0.082"/></feComponentTransfer><feGaussianBlur in="c" stdDeviation="0.8"/></filter>
<linearGradient id="cbf2" gradientUnits="userSpaceOnUse" x1="0" y1="1230.5" x2="0" y2="1479.5"><stop offset="0.000" stop-color="#f9fb15"/><stop offset="0.062" stop-color="#fcdb29"/><stop offset="0.125" stop-color="#f9c434"/><stop offset="0.188" stop-color="#edbc31"/><stop offset="0.250" stop-color="#c3c23e"/><stop offset="0.312" stop-color="#91c952"/><stop offset="0.375" stop-color="#5dcb77"/><stop offset="0.438" stop-color="#34c699"/><stop offset="0.500" stop-color="#12beb9"/><stop offset="0.562" stop-color="#18b2d1"/><stop offset="0.625" stop-color="#21a3e4"/><stop offset="0.688" stop-color="#2d90f1"/><stop offset="0.750" stop-color="#397af8"/><stop offset="0.812" stop-color="#4463f9"/><stop offset="0.875" stop-color="#464ce6"/><stop offset="0.938" stop-color="#4438ca"/><stop offset="1.000" stop-color="#3e26a8"/></linearGradient>
</defs>
<text x="12.5" y="49" font-size="62" textLength="30" lengthAdjust="spacingAndGlyphs">a</text>
<text x="287" y="55.5" font-size="28.8" text-anchor="middle" textLength="269.5" lengthAdjust="spacingAndGlyphs">Streaming: raw data</text>
<rect x="64.5" y="58.5" width="432.5" height="292.5" fill="#fff"/>
<g filter="url(#sb)">
<path d="M65.5 104.7V295.3M66.5 133.7V274.8M67.5 145V293.5M68.5 124.3V240.8M69.5 119.6V296.1M70.5 107.5V282.7M71.5 144.6V267.2M72.5 103.3V257.6M73.5 115.4V252.2M74.5 145.2V264M75.5 142.5V269.4M76.5 114.1V256.3M77.5 135V286.7M78.5 104.8V284.1M79.5 109.5V270.9M80.5 140.2V247.3M81.5 127.3V250.4M82.5 118.5V255.3M83.5 135.4V246.4M84.5 141.9V259M85.5 119.4V270.5M86.5 135.1V242.6M87.5 141.5V262M88.5 119.6V248.9M89.5 113.4V252.5M90.5 113.9V253.2M91.5 144.5V237.4M92.5 73.3V266.7M93.5 131.7V248.8M94.5 68.7V268.9M95.5 113.6V265M96.5 114V275.8M97.5 131V261M98.5 128.8V263.9M99.5 73.2V253M100.5 138.1V260.4M101.5 120.8V262.2M102.5 137.4V270.6M103.5 135.6V259.2M104.5 118V252M105.5 134.1V264.8M106.5 92.4V265M107.5 148.1V243.4M108.5 116.1V284.3M109.5 115.1V266.7M110.5 98.7V255M111.5 126.5V278.9M112.5 80.2V279.7M113.5 121.4V258.7M114.5 134V286.2M115.5 137.9V253.6M116.5 128V261.4M117.5 134.6V273.1M118.5 149V260.8M119.5 116.3V258.7M120.5 104V249M121.5 104.1V262M122.5 120.8V278.5M123.5 113.8V249.3M124.5 101.9V242.7M125.5 119.4V246.7M126.5 143.7V293.6M127.5 113.9V265M128.5 140.9V243.1M129.5 123.2V255.9M130.5 130.8V240.5M131.5 126.4V259.6M132.5 118.4V257.3M133.5 152.8V234.9M134.5 140.6V259.4M135.5 134.7V281.4M136.5 126.4V268.1M137.5 102.2V263.9M138.5 157.5V251.2M139.5 129.6V265.8M140.5 129.2V250.2M141.5 149.4V238.8M142.5 108.9V238.9M143.5 144.3V245.3M144.5 142.5V283.7M145.5 153.8V247.3M146.5 147.2V239.6M147.5 142V239.9M148.5 147.3V281M149.5 104V233M150.5 131.1V264M151.5 126.3V258.4M152.5 128.3V240.3M153.5 141.7V251.9M154.5 102.3V294.8M155.5 120.1V259.1M156.5 130.8V241.1M157.5 145.4V263M158.5 138.1V234.9M159.5 128.2V256.2M160.5 125.4V249.8M161.5 130.1V237.3M162.5 145.4V248.6M163.5 133.3V239M164.5 64V233.1M165.5 128.7V244.1M166.5 124.1V250.1M167.5 133.7V230.1M168.5 135.7V240M169.5 140.5V248M170.5 146.8V261M171.5 130.2V250.8M172.5 131.8V263.8M173.5 141.5V252M174.5 131.9V237.1M175.5 117.2V256.3M176.5 121.8V249.5M177.5 128V253.7M178.5 133.4V244.1M179.5 125.3V250.8M180.5 122V273.3M181.5 136.6V255.1M182.5 129.8V269.1M183.5 132.9V235.7M184.5 110.5V259.1M185.5 126.1V252.2M186.5 115.5V239.1M187.5 112.3V272.6M188.5 126.2V239.2M189.5 136.2V244.4M190.5 129.1V254.3M191.5 92.6V264.9M192.5 127V247.1M193.5 146V290.6M194.5 139.4V272.7M195.5 124.7V251.6M196.5 76.5V267.6M197.5 130V256.9M198.5 135.6V251.3M199.5 147.4V274.1M200.5 86.9V293.3M201.5 106.1V241.6M202.5 132.3V254.1M203.5 146.4V257.5M204.5 114.3V282.5M205.5 129.3V255.9M206.5 115V239.1M207.5 139.5V244.7M208.5 116V270.7M209.5 124V238.8M210.5 136.9V299.7M211.5 131.2V250.8M212.5 139.7V268.6M213.5 133.3V275.7M214.5 140V263.4M215.5 143.1V236.5M216.5 147.8V268.3M217.5 136.7V256.4M218.5 148.1V266.6M219.5 130.5V267.3M220.5 126.8V266.6M221.5 117.3V254.2M222.5 129.1V273M223.5 125.1V237.9M224.5 115.5V252.1M225.5 108.8V269.8M226.5 136.1V287M227.5 131.3V245.2M228.5 142.3V275.4M229.5 101.5V259.1M230.5 122.5V274.6M231.5 115.5V245.5M232.5 133.3V277.3M233.5 90.4V264.5M234.5 124.4V265.5M235.5 140.6V238.8M236.5 101.6V333M237.5 126.3V275.4M238.5 143.2V244.5M239.5 105.3V273.2M240.5 129.2V270.9M241.5 110.5V267.4M242.5 138.6V258.7M243.5 142.3V246.1M244.5 136.6V240.9M245.5 138.1V249.2M246.5 126.2V261.8M247.5 129.6V255.3M248.5 109.1V279.3M249.5 99.3V280.8M250.5 129.5V265.9M251.5 130.3V251.4M252.5 146.4V247.9M253.5 108.4V254.7M254.5 116.2V263.8M255.5 108.8V263.9M256.5 118.4V267.6M257.5 134.5V272.9M258.5 147.2V260.2M259.5 143.9V259.5M260.5 127.8V240.7M261.5 121.3V266.9M262.5 139.9V265.3M263.5 102.8V251.9M264.5 110.2V252.2M265.5 95.9V242.4M266.5 133.4V280.1M267.5 146.6V274.1M268.5 121.4V260M269.5 131V249.4M270.5 130.7V253.9M271.5 116.8V296.3M272.5 125.9V255.1M273.5 137.7V232M274.5 116V306.5M275.5 125.6V228.8M276.5 127.2V256.3M277.5 127.6V235.5M278.5 140.9V253.8M279.5 143.7V250.2M280.5 148.5V242.1M281.5 123.1V253.1M282.5 131.4V242.4M283.5 153.1V281.8M284.5 144.1V253.1M285.5 112V230.3M286.5 143.1V257.8M287.5 123.6V260.7M288.5 126.3V246.9M289.5 118.3V246.6M290.5 141.8V265.5M291.5 135.9V238.6M292.5 127.3V253.8M293.5 105.8V234.3M294.5 130.3V232.2M295.5 135.1V242M296.5 147.3V259.5M297.5 117.7V283.6M298.5 132.6V244M299.5 147.4V255M300.5 133.9V267.3M301.5 125.8V245.7M302.5 140.9V229.6M303.5 134.1V272.4M304.5 154.4V271.6M305.5 119.9V263.5M306.5 149.9V248.7M307.5 128.7V243M308.5 140.3V233.1M309.5 151.5V255.6M310.5 145.8V279.8M311.5 131.3V233.7M312.5 148.1V232.3M313.5 118V243.7M314.5 123V244.3M315.5 144.6V242.6M316.5 138.5V242.9M317.5 134.5V268.8M318.5 132.5V243.2M319.5 134.9V273.5M320.5 131.6V245.4M321.5 152V233.4M322.5 141.8V241.7M323.5 116.8V262.1M324.5 144.9V261M325.5 148.3V243.2M326.5 118.1V246.2M327.5 132.3V297.8M328.5 135.8V278.5M329.5 145.6V262.7M330.5 131.5V243.1M331.5 141.7V267.6M332.5 133V258.1M333.5 119.8V232.2M334.5 144.1V236M335.5 114.8V254.2M336.5 116.7V238M337.5 132.8V242.2M338.5 109.7V258.6M339.5 127V243.2M340.5 136.3V266.4M341.5 144.3V270.6M342.5 136.4V234.5M343.5 125.4V241.3M344.5 126.7V246.6M345.5 143.2V295.1M346.5 112.7V265.3M347.5 127.2V254M348.5 130V267.2M349.5 132.8V242.1M350.5 144.5V238M351.5 141V238.7M352.5 97.5V256.9M353.5 150.5V248.8M354.5 150.9V229M355.5 142V234M356.5 145.8V240.4M357.5 82.7V255.2M358.5 130.3V244.3M359.5 144.1V240.7M360.5 137.6V307.2M361.5 138.9V263.1M362.5 137V292.9M363.5 129.4V249.7M364.5 150.7V254.5M365.5 152V247.1M366.5 145.1V239.4M367.5 137V240M368.5 153.1V243.4M369.5 144.5V230.7M370.5 137.5V237.5M371.5 136.7V240.7M372.5 140.2V270.3M373.5 133V242.4M374.5 118.5V268.4M375.5 110.2V288.1M376.5 131.9V237.8M377.5 125.9V247.7M378.5 150.2V230.2M379.5 145V254.1M380.5 125.3V256.9M381.5 142V302.3M382.5 140.4V240.1M383.5 147V273.1M384.5 123.4V240.4M385.5 145.5V253.1M386.5 144.7V230.1M387.5 135V267.4M388.5 136.1V260.5M389.5 138.3V230.8M390.5 138V269.1M391.5 130.1V236.4M392.5 141.2V258M393.5 109.8V262M394.5 122.9V236.4M395.5 149.4V244.3M396.5 134.8V293.1M397.5 136V275.1M398.5 128.1V247.9M399.5 137.4V243.4M400.5 114V243.2M401.5 133.3V233.5M402.5 129.3V240.3M403.5 122.1V239.5M404.5 138.9V253M405.5 123V244.8M406.5 128.2V241.6M407.5 146.1V264.2M408.5 135.8V274.8M409.5 149.6V258.4M410.5 141.2V259M411.5 134V239.8M412.5 152.3V235.3M413.5 127.7V241.4M414.5 139.8V271M415.5 132.8V254.6M416.5 150.4V241.6M417.5 153.9V236.5M418.5 154.3V251.4M419.5 146.8V249M420.5 125.2V229.8M421.5 146.2V248.4M422.5 132.5V245.5M423.5 152V235.1M424.5 98.3V242.9M425.5 157.6V234M426.5 146V255.5M427.5 134.8V275.5M428.5 136.5V271.2M429.5 127.9V275.9M430.5 134.6V267.5M431.5 136.6V239.9M432.5 116.9V278.4M433.5 129.3V241.1M434.5 136.2V251.8M435.5 145.7V284.4M436.5 133.3V250.4M437.5 127.4V249M438.5 135.3V251.2M439.5 112.1V262.5M440.5 132V250.4M441.5 151.1V260.4M442.5 144V254.4M443.5 132.2V254.7M444.5 140.3V276.3M445.5 124.5V248.7M446.5 118V259.3M447.5 142.9V252.5M448.5 141.7V234.8M449.5 102.6V253.8M450.5 141.4V239M451.5 142.9V282.1M452.5 120V241.4M453.5 133.1V244.6M454.5 147.7V260M455.5 145.3V248.8M456.5 138.9V271.9M457.5 146.8V257.2M458.5 133.6V251.5M459.5 130.4V234M460.5 130.1V241.3M461.5 146.1V251.9M462.5 133.3V247.4M463.5 91.1V247.2M464.5 138.6V241M465.5 140.6V240.9M466.5 139.1V234.2M467.5 123.4V228.8M468.5 130.9V250.1M469.5 156.5V241.2M470.5 144.4V234.1M471.5 129.9V256.4M472.5 128.2V234.3M473.5 129.7V283.7M474.5 125.2V224.9M475.5 125.8V264.3M476.5 109.6V239.6M477.5 139.7V257.4M478.5 121.2V240.5M479.5 144V241M480.5 127.7V238.8M481.5 125.7V279.2M482.5 120.2V258.5M483.5 147.9V245.2M484.5 144.4V272.7M485.5 134.9V245.9M486.5 138.3V246.9M487.5 128.8V251.3M488.5 142.1V262M489.5 142.3V236.1M490.5 151.3V236.7M491.5 122.4V237M492.5 140.5V268.6M493.5 134.4V268.2" stroke="#0072bd" stroke-width="1" fill="none" opacity="0.28"/>
<path d="M65.5 146.4V231.4M66.5 139.2V264.7M67.5 151.3V271M68.5 130.6V234.9M69.5 128.2V256.2M70.5 119.1V257.6M71.5 147.9V252.2M72.5 111.1V253.4M73.5 119.9V241.6M74.5 150V259.7M75.5 146.2V259.3M76.5 146.9V252.8M77.5 145.5V270.9M78.5 127.9V262.5M79.5 148.8V259.5M80.5 147V242.7M81.5 156.3V238.7M82.5 138.6V243.6M83.5 142.9V238.7M84.5 145.4V239.4M85.5 140.8V251.1M86.5 139.8V227.9M87.5 145.6V248.3M88.5 131.9V240.1M89.5 140.4V243.1M90.5 125.7V237M91.5 147.8V231.5M92.5 106.2V263.1M93.5 143.1V241.6M94.5 100.5V260.7M95.5 124.1V247.6M96.5 124.4V270M97.5 135.9V249.5M98.5 142.4V258.5M99.5 137.2V245.6M100.5 145.9V252.8M101.5 134.4V258.2M102.5 142.5V261.6M103.5 147.5V249.6M104.5 133.3V235.4M105.5 149V257.5M106.5 117.2V260.4M107.5 151.7V239.2M108.5 127.8V255.8M109.5 122.7V261.5M110.5 125.6V250.5M111.5 130.2V268.5M112.5 103.2V252.3M113.5 141.9V247.2M114.5 145.5V266.7M115.5 142.8V249.6M116.5 133.6V239.3M117.5 147V256.8M118.5 154.5V257.1M119.5 128.6V247.1M120.5 136.1V244.9M121.5 139.8V257.9M122.5 129.6V251.7M123.5 119.1V243.9M124.5 115.1V234M125.5 124V238M126.5 150.2V251.4M127.5 138.7V252.7M128.5 145.5V237.7M129.5 134.7V242.2M130.5 136.7V230.2M131.5 156.1V237.6M132.5 126.5V236.6M133.5 158.9V229.9M134.5 146.5V242.8M135.5 140.1V259.8M136.5 140.6V247.6M137.5 105.9V258.4M138.5 161V248.4M139.5 142.4V254.1M140.5 143.5V232.6M141.5 156.4V232.8M142.5 150.2V236M143.5 149.8V241.9M144.5 147.6V279.9M145.5 157.4V242.3M146.5 155.8V235.4M147.5 146V236.4M148.5 151.9V273.1M149.5 144.3V229.4M150.5 151.1V253.3M151.5 132.7V244.4M152.5 132.9V229.2M153.5 148.9V244.3M154.5 126.3V258.1M155.5 133V249.6M156.5 141.9V228.4M157.5 148.7V241M158.5 145.1V230.4M159.5 138.2V243.3M160.5 141.6V229.7M161.5 145.5V230.2M162.5 150.5V242.9M163.5 142.2V227.9M164.5 121.1V228.9M165.5 132.2V230M166.5 140.2V243.8M167.5 151.2V223.5M168.5 141.1V236.2M169.5 152.5V243.2M170.5 150.4V251.3M171.5 137.2V229.7M172.5 137.1V258.3M173.5 146V238.1M174.5 142.9V233.3M175.5 131.5V250.4M176.5 128.2V241.1M177.5 132.7V241.3M178.5 140.7V239.4M179.5 149.9V235.8M180.5 130.3V239.3M181.5 148.5V249.7M182.5 138V258.8M183.5 138.4V230.3M184.5 129.1V248.4M185.5 132.8V248.9M186.5 139.7V226.3M187.5 125.7V256.4M188.5 133V229.8M189.5 139.4V235.8M190.5 147.2V242.4M191.5 99.8V258.2M192.5 130.6V237.3M193.5 150.3V249.4M194.5 143.3V263.1M195.5 132.9V241.1M196.5 134.6V253.1M197.5 143.3V249.7M198.5 142.6V244.9M199.5 156.8V252.5M200.5 135.4V254.7M201.5 153.3V233.1M202.5 137V242.6M203.5 151.8V240.3M204.5 118.2V247.7M205.5 134.2V231.4M206.5 135.6V235M207.5 145.1V239.4M208.5 125.6V249.5M209.5 144.5V230.6M210.5 147.5V243.2M211.5 144.7V239.4M212.5 146V251.3M213.5 137.6V258.1M214.5 148.7V234.8M215.5 152.4V232.5M216.5 153.1V259.5M217.5 146.2V247.4M218.5 154.2V239.6M219.5 139.7V260.2M220.5 132.7V251.1M221.5 136V248.5M222.5 134.2V244.8M223.5 142.8V229.7M224.5 124.4V235.1M225.5 124.2V259.3M226.5 140.2V271.8M227.5 135.8V238.3M228.5 153.2V258.4M229.5 107.4V245.5M230.5 126.4V271M231.5 127.3V240.7M232.5 140.2V268.7M233.5 119.2V243.6M234.5 140.5V248.6M235.5 149.6V230.8M236.5 131.5V280.5M237.5 132.1V263.3M238.5 149.5V240.3M239.5 136.8V264.2M240.5 145.8V247.1M241.5 141V259M242.5 149.9V249.9M243.5 154.9V242.1M244.5 150.7V236.7M245.5 145.6V235M246.5 148.6V239.2M247.5 133.1V247.9M248.5 116.9V263.2M249.5 130.9V264.4M250.5 140.2V249.6M251.5 140.7V247.8M252.5 151.2V240.4M253.5 121.7V239.5M254.5 124.7V258.8M255.5 129.3V255.7M256.5 140.5V262.4M257.5 142.3V255.6M258.5 151.6V250M259.5 148.7V253.9M260.5 133.4V234.6M261.5 129.2V243.7M262.5 147.1V243.4M263.5 109.9V247.2M264.5 114.3V230.9M265.5 128.4V233.4M266.5 143.1V270.6M267.5 150.3V248.9M268.5 145.7V243.8M269.5 144.6V232.1M270.5 134.5V250M271.5 142.1V262.7M272.5 148.1V243.2M273.5 144.8V227.5M274.5 127.8V259.3M275.5 129.7V225.6M276.5 130.6V247.6M277.5 141.6V230.6M278.5 149.6V249.5M279.5 146.6V237.1M280.5 154.6V239.1M281.5 134.8V247.4M282.5 136.2V239.1M283.5 157.6V259.1M284.5 152.6V237.8M285.5 122.2V226.7M286.5 146.4V252.3M287.5 134.5V246.8M288.5 145.4V243.4M289.5 134.2V228.4M290.5 148.3V249.2M291.5 148.8V233M292.5 132.1V248.2M293.5 125.1V228.2M294.5 133.9V225.3M295.5 152.2V235.2M296.5 153.8V253.9M297.5 129V261.2M298.5 138.3V232.5M299.5 151.9V251.4M300.5 140.6V260.6M301.5 129.5V240.1M302.5 152.3V221.7M303.5 145V254.1M304.5 161.7V249.1M305.5 131.5V251.8M306.5 154.3V229.5M307.5 147.1V233.2M308.5 145.3V230.2M309.5 156.1V249.8M310.5 151.3V255.7M311.5 139.5V228M312.5 156.3V228M313.5 121.9V227.4M314.5 128.5V240.1M315.5 152.5V235.7M316.5 142.6V231.8M317.5 140.5V264M318.5 148.9V228.8M319.5 140.9V256.5M320.5 142.4V240.4M321.5 157V230.3M322.5 144.8V235.1M323.5 123.1V240.6M324.5 149.2V244.3M325.5 154.4V236.9M326.5 138.2V241.2M327.5 137.6V272.7M328.5 140.8V264.5M329.5 151.3V259.4M330.5 146V238.5M331.5 146.4V238.7M332.5 145.8V239M333.5 123.7V228M334.5 147.4V227.5M335.5 144.3V243.3M336.5 130.7V228M337.5 139.9V238.8M338.5 116.9V246.6M339.5 143V237.9M340.5 144.3V262.6M341.5 158V251.5M342.5 158.1V229.1M343.5 129.8V229M344.5 139V242.8M345.5 149.6V255.3M346.5 136.8V259.8M347.5 140.3V240.8M348.5 147.7V259.1M349.5 141.9V233.2M350.5 150.7V231.2M351.5 157.4V234.5M352.5 135.7V253.1M353.5 160.5V243.5M354.5 157.9V223.6M355.5 152.7V227.2M356.5 154.1V235.9M357.5 145.6V246.1M358.5 138.4V230.9M359.5 154.7V231.3M360.5 147.5V258.1M361.5 144.1V255.1M362.5 140.1V262.3M363.5 140.9V241.1M364.5 156.7V251.1M365.5 155.3V229.5M366.5 151.4V234.8M367.5 142.4V236M368.5 158.5V231.6M369.5 160.3V224.5M370.5 162.2V226.9M371.5 146V235.5M372.5 152.5V254.5M373.5 152.1V236.2M374.5 142.2V249.7M375.5 123.4V284M376.5 134.7V233.6M377.5 161.7V231.4M378.5 156.7V223.9M379.5 147.9V249.4M380.5 139.3V235.3M381.5 157.2V261.1M382.5 150.3V233.8M383.5 151.7V258.9M384.5 126.5V236.9M385.5 157.2V249.7M386.5 157.3V226.7M387.5 149.7V233.5M388.5 153.2V230.2M389.5 147.9V226.2M390.5 154.1V250.7M391.5 146.8V224.2M392.5 155.4V241.2M393.5 137.8V241.3M394.5 130.8V231.8M395.5 154.9V237.5M396.5 147.2V235.4M397.5 143.1V247M398.5 141.4V233.7M399.5 149V231.2M400.5 122.8V238.2M401.5 151V228.2M402.5 133.7V231.5M403.5 142.9V230.6M404.5 148.8V246.3M405.5 132.2V236.5M406.5 132.9V236.9M407.5 158.6V248.3M408.5 144.6V258.6M409.5 157.2V250.4M410.5 145.9V254.8M411.5 139.6V234.8M412.5 163.6V223.1M413.5 134.2V231.5M414.5 160.6V236.8M415.5 148.3V235.3M416.5 153.2V224.4M417.5 158.5V226.1M418.5 159.8V233.9M419.5 157.3V243.8M420.5 128.9V226.1M421.5 149V240.4M422.5 137.2V236.8M423.5 161.5V230.7M424.5 134.1V236.3M425.5 161.7V228.4M426.5 154V251M427.5 141.4V246M428.5 139.9V238.6M429.5 139.5V234.8M430.5 143.4V248.5M431.5 141.9V234M432.5 135V239.7M433.5 154.6V235.4M434.5 157.1V242.6M435.5 152.5V280M436.5 140.4V245.9M437.5 136.5V228.5M438.5 141V230M439.5 116.3V246.8M440.5 148V235.2M441.5 154.4V238.2M442.5 151.9V241.8M443.5 157V249.1M444.5 149.6V256.6M445.5 133.9V245.6M446.5 128.8V245M447.5 152V245.7M448.5 146.7V222.3M449.5 147V229.2M450.5 147V236.1M451.5 155.4V253M452.5 137.3V230.2M453.5 145.6V241.2M454.5 155.9V255.1M455.5 153.8V233.1M456.5 147.6V254.1M457.5 151.7V254.5M458.5 155.4V243.4M459.5 138.7V225.9M460.5 137.2V236M461.5 152.4V227.5M462.5 136.4V237.7M463.5 125.6V230.2M464.5 141.4V233.4M465.5 154.1V225.9M466.5 146.2V231.8M467.5 145.4V224.9M468.5 142.6V244.6M469.5 159.9V232.6M470.5 149.5V227.3M471.5 138.7V250.7M472.5 144.6V228.8M473.5 143.4V255.7M474.5 131.8V220.8M475.5 131.4V253.4M476.5 139.2V236.5M477.5 155.6V249.8M478.5 124.8V236.6M479.5 159.7V229.5M480.5 151.9V235.5M481.5 140.5V265.1M482.5 126.8V247.6M483.5 153.3V239.4M484.5 147.5V267M485.5 142.8V237.5M486.5 149.6V225.6M487.5 143.1V238.2M488.5 145.9V236.1M489.5 158.6V226.1M490.5 157.3V229.4M491.5 144.6V232.7M492.5 153.2V244.7M493.5 142V234.1" stroke="#0072bd" stroke-width="1" fill="none" opacity="0.55"/>
<path d="M65.5 162.1V225M66.5 148.9V249.9M67.5 158.8V264.4M68.5 135.5V225.5M69.5 137.5V249.7M70.5 122.9V244.6M71.5 152.2V236.9M72.5 130.8V246.6M73.5 136.2V234.8M74.5 160V243M75.5 158.3V252.1M76.5 151V240.4M77.5 153.2V244.9M78.5 131.3V247.8M79.5 158.9V243.1M80.5 159.4V239.5M81.5 162V228.2M82.5 150.9V231.2M83.5 153.4V230.8M84.5 159.4V234.4M85.5 145.6V243.3M86.5 148.5V224.4M87.5 156.8V235.7M88.5 138.5V226.6M89.5 145.1V232.8M90.5 137.4V229.7M91.5 153.8V226.7M92.5 125.4V255.8M93.5 146.9V227.4M94.5 121.7V255.7M95.5 135.2V243.5M96.5 148.5V242.4M97.5 150.1V236.6M98.5 159.2V245.1M99.5 144V233.5M100.5 151.7V241M101.5 147.3V247.7M102.5 160.6V257.3M103.5 159.8V235.7M104.5 145.3V230.3M105.5 159V243.2M106.5 139.1V241.8M107.5 157.4V234.6M108.5 138.8V245.3M109.5 136.7V253.3M110.5 129.7V235M111.5 140.4V256.4M112.5 120.1V246.9M113.5 147.4V242.3M114.5 154.4V246.4M115.5 147.3V241.8M116.5 149.9V233M117.5 155.1V246M118.5 158.4V242.3M119.5 140.1V238.8M120.5 145.8V235M121.5 144.6V249.6M122.5 149.7V248.3M123.5 127.9V231.7M124.5 128.1V226.5M125.5 132.2V224.3M126.5 158.7V237.3M127.5 148.7V227.9M128.5 153.9V224.1M129.5 155.8V227.9M130.5 144V224.5M131.5 162.9V228.4M132.5 133.7V229.4M133.5 162.3V222.1M134.5 154V237.1M135.5 145V254.2M136.5 148.8V234.9M137.5 134.6V240.1M138.5 164.5V245.5M139.5 152.4V247.1M140.5 158.4V225.5M141.5 164.4V224.7M142.5 161.1V224.4M143.5 159.6V233.5M144.5 155.9V264.1M145.5 163.1V229.1M146.5 158.7V224.3M147.5 154.6V225.7M148.5 160.9V249.1M149.5 160.6V225M150.5 160.1V242.2M151.5 149.6V236M152.5 140V224.2M153.5 153.6V230.4M154.5 141.4V255.1M155.5 137.2V240.8M156.5 144.9V224.9M157.5 157.4V221.6M158.5 162.3V222.6M159.5 145.7V235M160.5 154.2V226.1M161.5 156.9V223M162.5 154.9V237.4M163.5 151.4V225M164.5 135.9V225M165.5 147.2V225.4M166.5 146.6V237.8M167.5 160.3V218.9M168.5 145.5V230M169.5 159.5V240.2M170.5 164.3V237.7M171.5 144.3V221.4M172.5 153.7V245.3M173.5 160V225.1M174.5 145.7V220.7M175.5 146.9V238.5M176.5 141V232.3M177.5 145.8V236.8M178.5 153.5V223.3M179.5 159V229.7M180.5 151.6V229.2M181.5 153.5V236.7M182.5 150.9V240.3M183.5 145.7V222.3M184.5 133.5V236.3M185.5 143.3V240.7M186.5 156.3V222M187.5 142.6V243.4M188.5 145.8V222.2M189.5 148.2V224.6M190.5 161.2V238M191.5 118.6V243.3M192.5 145.2V233.4M193.5 154.9V234.5M194.5 157.8V243.8M195.5 139.4V227.6M196.5 147.1V235.2M197.5 158.3V245.8M198.5 151.9V231.7M199.5 160.2V237.7M200.5 147.6V247.7M201.5 160.1V227.3M202.5 140.9V237.9M203.5 159.3V225.4M204.5 136.9V239.8M205.5 139.1V223.8M206.5 139.2V229.6M207.5 163.6V235.6M208.5 134V243.8M209.5 155.5V221.2M210.5 152.4V235M211.5 159.8V226.6M212.5 155.1V236.1M213.5 144.4V251.4M214.5 151.8V226.8M215.5 159.6V224.1M216.5 156.3V247.7M217.5 164.5V220.7M218.5 157.6V233.3M219.5 160.3V253.1M220.5 146.3V243.7M221.5 140.1V242.4M222.5 143.2V227.8M223.5 154.8V224.5M224.5 130.6V225.6M225.5 141V251.3M226.5 146.3V252.3M227.5 147.7V233.1M228.5 159.5V236.1M229.5 124.3V233M230.5 131V253.4M231.5 136.6V236.6M232.5 157.3V259.4M233.5 130.3V227.5M234.5 151.8V228.6M235.5 154V226.4M236.5 151.2V253.4M237.5 150.4V254M238.5 154.4V234.4M239.5 146.8V256.9M240.5 157.7V240.1M241.5 150.8V255M242.5 160.3V243.6M243.5 158.8V228.6M244.5 157.1V225.3M245.5 156V226.7M246.5 155.1V234.6M247.5 153V233.4M248.5 120.5V241.3M249.5 138.8V249.4M250.5 145.8V239.8M251.5 148.1V233.1M252.5 156.7V236.6M253.5 132.2V228.9M254.5 139.4V247.6M255.5 150.7V244.7M256.5 158V248.8M257.5 146.3V242.5M258.5 159.8V238.1M259.5 152.2V230.1M260.5 142.5V228.5M261.5 143.3V237.5M262.5 156V236M263.5 136.8V243.7M264.5 127.9V224.2M265.5 132.8V228.8M266.5 147.9V232.2M267.5 160.3V232M268.5 151.8V238.6M269.5 150.5V223.6M270.5 145.3V234.3M271.5 152.9V249.6M272.5 160.3V237.5M273.5 151.7V224.2M274.5 136.3V251.4M275.5 143.7V221.9M276.5 134V242M277.5 146.7V224M278.5 154.3V232.8M279.5 162.6V229.9M280.5 159.5V233.1M281.5 140V232.9M282.5 151.3V226.7M283.5 162.8V243.8M284.5 161.5V231.8M285.5 133.1V221.3M286.5 158.7V232.1M287.5 149.1V234.1M288.5 152V226.6M289.5 152.8V224.9M290.5 159V244.8M291.5 156.9V225M292.5 140.8V238.6M293.5 129.8V222.4M294.5 143.3V221.7M295.5 155.4V230.2M296.5 160.6V239.7M297.5 144.5V248M298.5 152V228.6M299.5 162.1V244.1M300.5 147.9V245M301.5 134V230.6M302.5 157.6V218.8M303.5 155.3V233.6M304.5 167V235.2M305.5 134.8V243.3M306.5 160.5V221.7M307.5 154.7V228.3M308.5 158.4V224.7M309.5 164.2V233.2M310.5 157.6V250M311.5 158.6V222.1M312.5 160.2V221.4M313.5 138.1V220.9M314.5 140.4V228.3M315.5 156.7V227.2M316.5 155.6V223M317.5 153.1V246.9M318.5 156.8V223.8M319.5 151.3V237.8M320.5 150.9V235.1M321.5 163.4V226.5M322.5 152.5V226.5M323.5 132.2V236.3M324.5 161V234.9M325.5 158.2V232.4M326.5 142.7V229.7M327.5 152.3V258.3M328.5 150.5V248.6M329.5 155.2V245.1M330.5 153.7V229.4M331.5 161.1V235.3M332.5 152.1V228.1M333.5 130.8V223.8M334.5 155.8V220.7M335.5 150.2V226.6M336.5 140.4V224.5M337.5 152.5V232.4M338.5 137.8V239.3M339.5 160.8V232.2M340.5 149.6V255.3M341.5 164.7V227.2M342.5 161V221.6M343.5 148.4V225.8M344.5 149V233.8M345.5 156.1V245.5M346.5 160.4V246.5M347.5 160.8V230.1M348.5 154.2V245M349.5 150.6V228.5M350.5 161.5V227.8M351.5 160.8V223M352.5 143.5V241.4M353.5 166.8V240.9M354.5 163.6V219.1M355.5 157.1V221.4M356.5 162.5V229.1M357.5 149.1V236.9M358.5 144.8V224.7M359.5 159.3V220.7M360.5 157.2V252.2M361.5 150.8V251.3M362.5 145.8V253.1M363.5 144.8V226.1M364.5 159.3V233.8M365.5 160.2V226M366.5 154.1V219.1M367.5 150.2V229.2M368.5 165.4V218.6M369.5 163.4V218.8M370.5 165.9V220.9M371.5 150.2V220.4M372.5 159.6V248.6M373.5 160.5V220.1M374.5 155.1V241.9M375.5 139.1V260.5M376.5 149.7V223.4M377.5 165.6V220.8M378.5 166V217.1M379.5 159.2V243.2M380.5 144.4V218.9M381.5 161.5V246.2M382.5 160.3V229.1M383.5 161.6V253.3M384.5 140.8V222.8M385.5 164.5V239.2M386.5 161.3V220.7M387.5 153.3V221.2M388.5 162.7V224.5M389.5 161.6V219.4M390.5 161.5V232.5M391.5 155.5V220.1M392.5 159V228.8M393.5 148.9V236.7M394.5 151.7V222.9M395.5 163.8V226.2M396.5 163.1V230.6M397.5 162.1V229.5M398.5 163.7V228M399.5 163.2V224M400.5 144.8V225.8M401.5 158.5V223.9M402.5 139.2V226.8M403.5 149.4V223.1M404.5 157.5V241.3M405.5 136V224.6M406.5 147.9V227.7M407.5 165.1V237.5M408.5 152.2V238.8M409.5 165.9V242.2M410.5 166.1V243M411.5 144.9V224.1M412.5 167V219.5M413.5 140.6V220.3M414.5 164.3V226.3M415.5 159.2V217.5M416.5 161.3V218.2M417.5 163.1V221.1M418.5 166V219M419.5 162.6V236.3M420.5 133.4V223.3M421.5 156.8V230.6M422.5 142.2V226M423.5 164.6V224.9M424.5 144.1V232.7M425.5 166V225.2M426.5 157.9V240.1M427.5 159.3V238.5M428.5 151.1V232.2M429.5 155.1V230.3M430.5 153.2V234.4M431.5 153.1V227.4M432.5 152.3V226.6M433.5 162.5V222.1M434.5 163V228.3M435.5 158.7V256.3M436.5 147.6V242.3M437.5 143.1V223M438.5 157.3V221.5M439.5 143.1V235.2M440.5 155.5V231.9M441.5 162.5V229.7M442.5 160.5V234.5M443.5 162V244.3M444.5 155.2V247.5M445.5 144.9V231.4M446.5 141.8V233.6M447.5 155.8V232M448.5 156.9V218.6M449.5 161.1V222.8M450.5 149.9V223.8M451.5 159.1V240.1M452.5 152.5V221.3M453.5 156.4V232.6M454.5 159.9V248.1M455.5 161.1V226M456.5 159.7V246.5M457.5 165.7V244.8M458.5 158.2V240.4M459.5 142.4V221.2M460.5 145.2V225.5M461.5 158.4V222M462.5 149.1V227.9M463.5 144.7V225.5M464.5 151.3V226.9M465.5 157.9V216.4M466.5 151.7V222.3M467.5 167.8V215.1M468.5 150.6V228.1M469.5 163.1V225.8M470.5 160.5V223.4M471.5 160.4V234.8M472.5 167.7V221.6M473.5 165.8V239.7M474.5 135.6V218.1M475.5 138.9V250.8M476.5 153.2V233M477.5 159.7V241.6M478.5 139.4V222.7M479.5 163.1V225.3M480.5 156.8V231.9M481.5 145.7V245.7M482.5 135.3V237.3M483.5 162.8V230.9M484.5 159.5V254.4M485.5 154.2V223M486.5 163V219.6M487.5 154V230.1M488.5 165.1V232.2M489.5 165.3V218.6M490.5 161.5V218.5M491.5 164.6V224.7M492.5 158.9V237.3M493.5 153.9V227.9" stroke="#0072bd" stroke-width="1.4" fill="none"/>
</g>
<path d="M65.5 61L495 61" stroke="#b4b4b4" stroke-width="1.6"/>
<path d="M65.5 349.5L495 349.5" stroke="#b4b4b4" stroke-width="1.6"/>
<path d="M65.5 61L65.5 349.5" stroke="#c4dcf0" stroke-width="1.4"/>
<path d="M495 61L495 349.5" stroke="#f6cfc2" stroke-width="1.4"/>
<path d="M122.1 349.5v-9M179.2 349.5v-9M236.3 349.5v-9M293.4 349.5v-9M350.5 349.5v-9M407.6 349.5v-9M464.7 349.5v-9" stroke="#c0c0c0" stroke-width="1.4" fill="none"/>
<path d="M122.1 61v7M179.2 61v7M236.3 61v7M293.4 61v7M350.5 61v7M407.6 61v7M464.7 61v7" stroke="#d4d4d4" stroke-width="1.4" fill="none"/>
<path d="M65.5 93h6M65.5 125h6M65.5 157h6M65.5 189h6M65.5 221h6M65.5 253h6M65.5 285h6M65.5 317h6" stroke="#c4dcf0" stroke-width="1.2" fill="none"/>
<path d="M495 89.5h-6M495 118h-6M495 146.5h-6M495 175h-6M495 203.5h-6M495 232h-6M495 260.5h-6M495 289h-6M495 317.5h-6" stroke="#f6cfc2" stroke-width="1.2" fill="none"/>
<text x="57.4" y="75.4" font-size="22.5" text-anchor="end">40</text>
<text x="57.4" y="198.7" font-size="22.5" text-anchor="end">0</text>
<text x="57.4" y="352.3" font-size="22.5" text-anchor="end">-50</text>
<text transform="translate(23 198.6) rotate(-90)" font-size="26" text-anchor="middle" textLength="193" lengthAdjust="spacingAndGlyphs">Amplitude [µVp]</text>
<text x="68.6" y="369.3" font-size="22.5" text-anchor="middle">0</text>
<text x="482.4" y="369.3" font-size="22.5" text-anchor="middle">400</text>
<text x="282.8" y="374.8" font-size="26" text-anchor="middle" textLength="93" lengthAdjust="spacingAndGlyphs">Time [s]</text>
<text x="762.5" y="52.2" font-size="28.8" text-anchor="middle" textLength="273" lengthAdjust="spacingAndGlyphs">Scalogram: raw data</text>
<rect x="574.8" y="58" width="375.7" height="4" fill="#fff"/>
<g filter="url(#fa20)"><use href="#ba2"/></g>
<g mask="url(#ma21)"><g filter="url(#fa21)"><use href="#ba2"/></g></g>
<path d="M683.5 201L685.1 201L681.7 273L679.9 273Z" fill="url(#aa3)"/><path d="M685 186L686.6 186L687.2 261L685.4 261Z" fill="url(#aa3)"/><path d="M686.1 211L687.7 211L691.3 275L689.5 275Z" fill="url(#aa3)"/><ellipse cx="685.5" cy="283" rx="9.5" ry="12" fill="url(#aa2)"/>
<path d="M748.4 201L750 201L746.6 273L744.8 273Z" fill="url(#aa3)"/><path d="M749.9 186L751.5 186L752.1 261L750.3 261Z" fill="url(#aa3)"/><path d="M751 211L752.6 211L756.2 275L754.4 275Z" fill="url(#aa3)"/><ellipse cx="750.4" cy="283" rx="9.5" ry="12" fill="url(#aa2)"/>
<path d="M808.5 201L810.1 201L806.7 273L804.9 273Z" fill="url(#aa3)"/><path d="M810 186L811.6 186L812.2 261L810.4 261Z" fill="url(#aa3)"/><path d="M811.1 211L812.7 211L816.3 275L814.5 275Z" fill="url(#aa3)"/><ellipse cx="810.5" cy="283" rx="9.5" ry="12" fill="url(#aa2)"/>
<ellipse cx="881.7" cy="229" rx="2.2" ry="13" fill="#fff3c0" filter="url(#sb3)"/>
<rect x="954.6" y="61" width="11" height="279" fill="url(#cba2)"/>
<rect x="954.6" y="61" width="11" height="279" fill="none" stroke="#c8c8c8" stroke-width="1"/>
<text x="570.5" y="76.8" font-size="22.5" text-anchor="end">92</text>
<text x="570.5" y="109.3" font-size="22.5" text-anchor="end">35</text>
<text x="570.5" y="147.3" font-size="22.5" text-anchor="end">13</text>
<text x="570.5" y="253.9" font-size="22.5" text-anchor="end">1</text>
<text x="572.3" y="344.2" font-size="22.5" text-anchor="end">0.1</text>
<text transform="translate(524 209) rotate(-90)" font-size="26" text-anchor="middle" textLength="174" lengthAdjust="spacingAndGlyphs">Frequency [Hz]</text>
<text x="583.6" y="369.1" font-size="22.5" text-anchor="middle">0</text>
<text x="928" y="369.1" font-size="22.5" text-anchor="middle">400</text>
<text x="762.5" y="378.5" font-size="26" text-anchor="middle" textLength="93.8" lengthAdjust="spacingAndGlyphs">Time [s]</text>
<text x="980.3" y="79" font-size="22.5" textLength="42" lengthAdjust="spacingAndGlyphs">max</text>
<text x="976.8" y="345.6" font-size="22.5">0</text>
<text transform="translate(999.5 204.3) rotate(-90)" font-size="26" text-anchor="middle" textLength="84.5" lengthAdjust="spacingAndGlyphs">[dB/Hz]</text>
<text x="289.5" y="445.5" font-size="28.8" text-anchor="middle" textLength="318.5" lengthAdjust="spacingAndGlyphs">Streaming: filtered data</text>
<rect x="64.5" y="448.5" width="432.5" height="284" fill="#fff"/>
<g filter="url(#sb)">
<path d="M65.5 471.4V719.8M66.5 502.9V708.2M67.5 469.3V687.6M68.5 503.3V671.1M69.5 512.7V693.4M70.5 500.6V682.9M71.5 497.1V710.1M72.5 513.4V694.5M73.5 492.5V689.2M74.5 508.2V683.3M75.5 481.3V670.5M76.5 489.7V693.7M77.5 475V687.4M78.5 502.5V674.6M79.5 481.2V684.4M80.5 503.2V674.1M81.5 507.8V724.9M82.5 515.3V691.3M83.5 511.7V660.2M84.5 506.2V674.5M85.5 487.6V691.9M86.5 514V662.9M87.5 488.9V674.4M88.5 503.2V672.9M89.5 512.1V697M90.5 497.5V671.5M91.5 508.2V712.6M92.5 470.2V687.1M93.5 491.3V707M94.5 508.7V680.5M95.5 515.3V667.7M96.5 513.6V693.7M97.5 485.1V678.2M98.5 512.9V722.2M99.5 477.7V677.5M100.5 493.1V714.9M101.5 480.7V657.1M102.5 510V671.5M103.5 513.9V702.5M104.5 508.3V666M105.5 488.5V669M106.5 513.2V658M107.5 466.9V681.9M108.5 475.8V688.1M109.5 522V661.7M110.5 495.7V670.5M111.5 496.4V654.4M112.5 497.9V709.2M113.5 527V691.7M114.5 526.5V659.8M115.5 511.8V673M116.5 503V696.3M117.5 515.1V702.5M118.5 487.1V659M119.5 527.8V702.8M120.5 520.3V661M121.5 494V677.6M122.5 533.4V659.2M123.5 521V642.4M124.5 513.2V650.4M125.5 538.4V651.5M126.5 507.8V653M127.5 515V652.9M128.5 501V658.6M129.5 526.9V653.2M130.5 518V664.5M131.5 523.2V651.7M132.5 540V641.3M133.5 534.1V639.6M134.5 527.5V657M135.5 501.6V657M136.5 520.5V658.9M137.5 530.3V666.9M138.5 493.9V682.5M139.5 520.4V646.9M140.5 519.5V654M141.5 535.1V658.2M142.5 525V656.5M143.5 518.6V649.8M144.5 507.3V670.8M145.5 530.9V705.1M146.5 524.3V662.2M147.5 535.5V664M148.5 496.4V683.8M149.5 546.8V651.2M150.5 545.6V665.1M151.5 518.2V671.9M152.5 528V679.5M153.5 505.1V643.3M154.5 527.1V656M155.5 512.6V648.3M156.5 524.2V663.1M157.5 532.3V642.9M158.5 539V669.8M159.5 478.8V660.9M160.5 515V645.9M161.5 510.6V666M162.5 539.2V641.9M163.5 537.9V669.7M164.5 535.5V663.3M165.5 496.4V685.9M166.5 530.8V647.9M167.5 538.6V645.5M168.5 530V654.3M169.5 535V678.5M170.5 538.5V680.6M171.5 529.2V650.9M172.5 528V641.8M173.5 528.7V648.6M174.5 519.1V646.9M175.5 508.7V640.7M176.5 511.7V661.7M177.5 531V658M178.5 527.4V655.9M179.5 522.7V669.9M180.5 538.7V648.7M181.5 529.6V666.3M182.5 531.2V657.8M183.5 526.8V657.6M184.5 540.7V646.8M185.5 515.9V652M186.5 535.4V659.5M187.5 529.1V652.8M188.5 523.2V648.7M189.5 532.8V645.3M190.5 530.2V632.2M191.5 537V650M192.5 525V642.8M193.5 549.2V660.2M194.5 538.2V649.4M195.5 548V664M196.5 538.1V635.9M197.5 517.9V645.6M198.5 533.8V647.8M199.5 544V638.7M200.5 537.2V649.8M201.5 498.6V634.9M202.5 506.2V643.5M203.5 539.3V644.7M204.5 541.7V645.9M205.5 526.1V643.7M206.5 524V645.6M207.5 536.3V636.4M208.5 531.9V630.4M209.5 514.3V641.3M210.5 534.2V653.1M211.5 531.1V648.5M212.5 546.6V655.1M213.5 454V669.7M214.5 525.3V660.7M215.5 528.7V650.9M216.5 533.5V638.7M217.5 530.7V645.6M218.5 514.2V655.1M219.5 538.5V660.6M220.5 547.4V669.7M221.5 505.7V634.6M222.5 535.4V646.6M223.5 531.1V638.7M224.5 533.2V663.8M225.5 541.7V646.3M226.5 520.1V643.4M227.5 524.1V638.3M228.5 537.4V644.1M229.5 533.5V672.7M230.5 502.1V654.3M231.5 519.7V636M232.5 536.4V642M233.5 540.2V652.7M234.5 533.4V643.8M235.5 541.3V642.5M236.5 538.5V647.2M237.5 536.3V646.2M238.5 555.8V634.7M239.5 527.3V645.5M240.5 543.2V631.3M241.5 541.2V631.3M242.5 529.5V628.2M243.5 538.6V642.9M244.5 543.6V637M245.5 526.5V656M246.5 543.8V648.8M247.5 543.7V640.9M248.5 535.5V631.4M249.5 527.9V647.6M250.5 534.4V637.7M251.5 549.4V658.6M252.5 546.9V628.8M253.5 537.7V637.1M254.5 540.4V665.3M255.5 541.7V644M256.5 527.1V642M257.5 508.7V659.5M258.5 540.7V643.2M259.5 525.6V638.7M260.5 542.5V647.3M261.5 550.5V635M262.5 536.8V653.1M263.5 543.8V672.8M264.5 515V642.6M265.5 539.2V641.3M266.5 536.4V661.9M267.5 543V626M268.5 552.1V641.9M269.5 540.9V662M270.5 547.8V641.5M271.5 549.2V651.4M272.5 528.3V628.4M273.5 542.1V629.6M274.5 535.6V634.9M275.5 526.1V649.7M276.5 549.7V640.9M277.5 531.8V653.5M278.5 542.5V636.2M279.5 519.5V634.1M280.5 537.6V644.4M281.5 539.6V630.4M282.5 530.1V670.9M283.5 516.3V660.5M284.5 532.5V633.1M285.5 542.7V643.4M286.5 518.8V640.5M287.5 539.2V651.6M288.5 539.3V647M289.5 532.6V644.5M290.5 537.9V640.6M291.5 550.8V640.6M292.5 528.8V640.3M293.5 519.7V643.6M294.5 518.6V630.8M295.5 537.9V639.5M296.5 539.8V643M297.5 545.3V646.3M298.5 548.1V637.3M299.5 537.1V637.9M300.5 542.8V629.7M301.5 539.1V638M302.5 549.6V630.2M303.5 548.5V648.8M304.5 530V633.8M305.5 536.9V638.6M306.5 548.6V632.8M307.5 548.9V638.8M308.5 551.7V637.8M309.5 548.1V672.8M310.5 537.6V632.5M311.5 551V648.3M312.5 556.3V659.9M313.5 539.9V642M314.5 544.4V630.2M315.5 520V657.2M316.5 550.4V657.4M317.5 547.6V655.8M318.5 534.5V630.4M319.5 554.1V653.8M320.5 546.4V643.3M321.5 538.7V647.1M322.5 548.1V677M323.5 548.7V650M324.5 545.4V644.4M325.5 536.8V650.1M326.5 530.5V636.5M327.5 546.5V631.6M328.5 529.1V641.2M329.5 544.7V638.5M330.5 546.4V634.5M331.5 546.9V651.8M332.5 545.8V651.8M333.5 523.1V658.5M334.5 543V633.3M335.5 526.9V639.4M336.5 546.8V629.1M337.5 545.8V639.3M338.5 537.3V632.2M339.5 549.7V634.4M340.5 531.8V637.6M341.5 533.1V644.4M342.5 547.9V646.7M343.5 540.9V647M344.5 542.9V636.4M345.5 545.4V631.7M346.5 544.4V629.7M347.5 544.8V652.9M348.5 545.8V641.3M349.5 540.4V654.8M350.5 541.6V627.3M351.5 547.3V655.7M352.5 540.2V655.1M353.5 543.2V620.1M354.5 531.8V641.1M355.5 549.8V632.2M356.5 537V646.7M357.5 533V645.5M358.5 550.6V642.8M359.5 541.4V629.3M360.5 512.7V634.9M361.5 537.7V642.4M362.5 535.8V641.4M363.5 529.9V646.9M364.5 536.1V632.8M365.5 542.6V645M366.5 535.3V642.3M367.5 540.6V639.2M368.5 553.3V635.3M369.5 541.6V643.9M370.5 542.6V650.1M371.5 538.3V671.2M372.5 552V629.6M373.5 540.6V637.8M374.5 528.8V637.5M375.5 530.9V652.4M376.5 534V640.2M377.5 547.1V640.8M378.5 552.2V643.8M379.5 549V647.1M380.5 534V655.3M381.5 527.4V671.4M382.5 529.8V652.4M383.5 546.1V651.5M384.5 540.6V655.9M385.5 543.6V635.9M386.5 524V647M387.5 548.1V634.1M388.5 550.1V631.9M389.5 551.6V630.7M390.5 546.5V637.3M391.5 548.1V634.1M392.5 541.9V632M393.5 526.5V651.8M394.5 511.9V643.9M395.5 537.9V663.6M396.5 549.3V649.1M397.5 531.6V646.6M398.5 533.8V657.8M399.5 527.2V657.9M400.5 530.4V635.9M401.5 544.8V643.4M402.5 544.3V643.1M403.5 500.6V637.5M404.5 539.5V629.8M405.5 537.8V649.4M406.5 531.5V650.5M407.5 533.9V654.2M408.5 543.6V632.4M409.5 554.4V659.3M410.5 537.4V645.7M411.5 524.7V658M412.5 523.4V636.2M413.5 504.9V667.9M414.5 529.6V656.5M415.5 511.8V643.2M416.5 553.6V633.2M417.5 510.1V667.7M418.5 538.5V665.9M419.5 556.1V640.7M420.5 519V643M421.5 549.1V649.7M422.5 529.3V642.2M423.5 535.7V630.1M424.5 540.3V662.3M425.5 531.4V658.7M426.5 545.6V642.1M427.5 552.3V636.8M428.5 544.1V639.8M429.5 547V640.9M430.5 524.2V641.2M431.5 545.2V641.2M432.5 532.6V634.9M433.5 535V652.3M434.5 551.2V645.4M435.5 536.6V649.5M436.5 541.1V635.2M437.5 528.9V643.1M438.5 542.4V664.5M439.5 541.9V627.7M440.5 550V664.2M441.5 539.9V653.5M442.5 556.2V653.7M443.5 552.8V650M444.5 542.5V641M445.5 545.2V627.6M446.5 537.1V661.4M447.5 534.9V647.1M448.5 541.1V628.2M449.5 544.7V644.7M450.5 539.5V661.7M451.5 551.4V636.1M452.5 544.9V655.9M453.5 538.9V647.9M454.5 538.5V658.6M455.5 535.3V648.9M456.5 546V655.3M457.5 523.5V651.8M458.5 544.5V655M459.5 534V639.8M460.5 541.3V632.7M461.5 520.1V657.6M462.5 543.8V626.4M463.5 553.6V634.5M464.5 543.7V639M465.5 554V638.1M466.5 542.8V651.5M467.5 541.4V660M468.5 547.5V636.1M469.5 533.4V654.8M470.5 544.6V635.9M471.5 543.4V632.8M472.5 548.3V633.8M473.5 555.1V643.4M474.5 541.1V661.1M475.5 526.1V630.3M476.5 543.8V672.9M477.5 556.4V636.8M478.5 525.5V646.4M479.5 529.1V636.5M480.5 539.6V641.3M481.5 526.8V639.3M482.5 544.2V633.8M483.5 550.8V650.4M484.5 539.8V637M485.5 535.7V630.2M486.5 543.3V660.1M487.5 537.4V638.4M488.5 519.7V660.3M489.5 544.7V630.7M490.5 538.5V647.3M491.5 538V652.9M492.5 533.9V689.2M493.5 538.4V652.7" stroke="#0072bd" stroke-width="1" fill="none" opacity="0.28"/>
<path d="M65.5 497.1V686.8M66.5 511.5V697.3M67.5 478.6V673.1M68.5 510.8V656.7M69.5 518.7V664.5M70.5 519.3V670.9M71.5 502.2V680.7M72.5 522.1V685.2M73.5 504.4V675.5M74.5 520.6V677.9M75.5 508.2V663M76.5 495.6V667.9M77.5 508.6V670.7M78.5 508.3V654.9M79.5 495.8V675.8M80.5 518.5V661.2M81.5 516.1V695.4M82.5 519.7V681.6M83.5 520V649.8M84.5 517V668.5M85.5 502.5V658.7M86.5 523.6V658.3M87.5 496.6V668.2M88.5 508V661.2M89.5 525.1V690.4M90.5 519.9V663.4M91.5 525.6V674.7M92.5 474.9V682.4M93.5 504.4V649.7M94.5 530.7V674.9M95.5 536.5V649M96.5 521.8V680.9M97.5 500.6V664.5M98.5 525.9V678.5M99.5 491.2V644.5M100.5 530.1V684.2M101.5 500.5V652.3M102.5 516.8V667.4M103.5 528.4V683.6M104.5 527.8V658.1M105.5 496.9V651.8M106.5 528.7V653.4M107.5 496.7V676.9M108.5 489.1V655.1M109.5 525.6V654.1M110.5 510.4V647.8M111.5 522.3V648M112.5 513.4V664.6M113.5 538.6V679.1M114.5 530.6V655M115.5 519.4V660.8M116.5 530.3V678.7M117.5 536.5V691M118.5 496.5V652.9M119.5 532.4V652.2M120.5 533.3V651.8M121.5 530.1V654.3M122.5 538.8V655.1M123.5 536.4V639.2M124.5 525.6V646.5M125.5 542.3V645.7M126.5 526V649.6M127.5 518V645.3M128.5 513.6V639.9M129.5 540.1V647M130.5 540.7V661.2M131.5 526.8V642.9M132.5 545.3V634.5M133.5 547.8V636.3M134.5 543V652.8M135.5 504.6V652.3M136.5 530.7V649.2M137.5 539.7V663.4M138.5 513.2V652.1M139.5 541.5V635.9M140.5 524.5V644.2M141.5 541.4V648.2M142.5 542.8V651.9M143.5 529.8V642.4M144.5 511.3V657.8M145.5 538.7V638.9M146.5 531.4V649M147.5 539.4V649.3M148.5 525V635.6M149.5 549.9V639.7M150.5 550.8V645.9M151.5 521.8V664.5M152.5 533.5V667M153.5 515.2V638.6M154.5 533.9V645.7M155.5 524.3V639.3M156.5 531.4V655.5M157.5 539V636M158.5 547.8V654.4M159.5 513.2V648.1M160.5 538.2V642.3M161.5 515.3V649.6M162.5 547.6V635.2M163.5 541.3V643.8M164.5 540.9V657.7M165.5 546.5V679.8M166.5 537.6V641.8M167.5 542.5V642.2M168.5 535.8V647.3M169.5 539.8V664.2M170.5 541.3V657M171.5 538.8V644.5M172.5 534.1V635.4M173.5 533.9V643.4M174.5 533.7V639.1M175.5 519.3V634.1M176.5 527.6V658.3M177.5 541.9V646.2M178.5 530.2V640.1M179.5 528V662.8M180.5 543.1V639.2M181.5 533.6V661M182.5 537.2V644.4M183.5 531.9V652.7M184.5 544.9V635.9M185.5 530.7V647.9M186.5 544.6V642.7M187.5 539.7V644.9M188.5 531.2V642.1M189.5 539.2V641.4M190.5 534.9V626.7M191.5 553.3V646.6M192.5 528.8V639.4M193.5 551.9V635.8M194.5 551.5V640.8M195.5 551.7V651.7M196.5 546.8V628.6M197.5 527.3V640.3M198.5 552.6V635.1M199.5 547.2V635.9M200.5 544V641.8M201.5 506.4V631.9M202.5 533V636.2M203.5 542.5V642M204.5 546.4V638.9M205.5 530.7V639.6M206.5 543.4V642.3M207.5 543V628.6M208.5 536.7V626.6M209.5 542.2V636.1M210.5 545.4V640.9M211.5 538.2V641.1M212.5 552.2V628.1M213.5 536.2V666.7M214.5 530.6V651.8M215.5 546.9V634.2M216.5 539.3V631.6M217.5 537.6V632.8M218.5 542.2V638.8M219.5 544.9V656.1M220.5 550V662.1M221.5 545.2V628.2M222.5 539.3V643.9M223.5 542.9V633.1M224.5 539.3V637.7M225.5 546.1V637.1M226.5 548.7V640M227.5 534.8V633.8M228.5 545V640.2M229.5 537.5V650.4M230.5 533.5V647M231.5 534.1V628.7M232.5 552.3V635M233.5 547.5V646.2M234.5 538.7V639.2M235.5 544.3V634.2M236.5 541.1V634.7M237.5 540.9V641.3M238.5 558.3V624.9M239.5 534.1V643M240.5 549.3V627.8M241.5 546.1V625.7M242.5 533.9V624M243.5 545.7V634.4M244.5 548.7V633M245.5 558.5V639.9M246.5 549.7V643.4M247.5 547.6V631.4M248.5 550.1V627.8M249.5 549.6V639.2M250.5 542.5V631M251.5 555.5V640.9M252.5 553.3V623.3M253.5 541.2V624.2M254.5 544.2V645.7M255.5 548.1V633.7M256.5 541.4V636.1M257.5 540.7V648.1M258.5 549.5V631.2M259.5 541V636M260.5 551V644.7M261.5 558.2V632.4M262.5 540.2V646.2M263.5 547.3V651.8M264.5 533.4V634.6M265.5 544.2V633.5M266.5 551.6V636.9M267.5 550.4V623.6M268.5 556.7V635M269.5 545.9V659.7M270.5 550.2V635M271.5 555.7V647.7M272.5 534V626M273.5 556.2V624.5M274.5 544.9V628M275.5 547.8V646.7M276.5 553.3V636.6M277.5 540.5V642.3M278.5 551.1V628.1M279.5 540.5V627.1M280.5 547.1V634.9M281.5 553.6V625.5M282.5 543.6V661.3M283.5 526.1V639.1M284.5 536V629.2M285.5 546.3V630.4M286.5 522.3V635.6M287.5 544V632.7M288.5 544.1V644.2M289.5 549.2V638.8M290.5 544.1V634.5M291.5 556V635.3M292.5 534V632.2M293.5 537.4V640.2M294.5 539.9V627.7M295.5 547.1V636.4M296.5 554.5V630.8M297.5 548.2V644M298.5 550.6V625.6M299.5 549.9V627.4M300.5 546.1V627.4M301.5 552.6V632.1M302.5 552.4V627.1M303.5 550.7V644.5M304.5 532.4V626M305.5 539V630.8M306.5 551.5V629.4M307.5 551.2V631.9M308.5 558.8V627.1M309.5 551V631.3M310.5 541.2V629M311.5 554.5V630.5M312.5 558.9V651.2M313.5 542.4V635.5M314.5 552.2V622.8M315.5 524.5V630.9M316.5 553.6V654.4M317.5 551.1V627.9M318.5 542.5V627.4M319.5 560.3V632.2M320.5 555.3V639.6M321.5 544.4V638M322.5 550.9V671.4M323.5 556.3V639.5M324.5 553.2V637M325.5 543.4V640M326.5 541.6V631.7M327.5 549.4V627.3M328.5 535V629.8M329.5 547.6V635.4M330.5 549.9V631.8M331.5 551.1V647.1M332.5 549.4V628.2M333.5 536.8V642M334.5 550.6V629.3M335.5 545.9V629.7M336.5 549.4V624.9M337.5 556V636.5M338.5 544.9V627.6M339.5 552.6V628.2M340.5 561.3V628M341.5 544V640.3M342.5 555.9V624.7M343.5 545.2V627.9M344.5 549.9V630.1M345.5 551.2V622.7M346.5 547.8V627.3M347.5 550.3V644.5M348.5 558.9V635.2M349.5 545.7V651.1M350.5 551.8V621.9M351.5 555.1V645.7M352.5 547.3V644.4M353.5 545.9V618.2M354.5 541.3V638.9M355.5 556V628.1M356.5 556.2V634.9M357.5 551.1V639.3M358.5 559V636.2M359.5 554.8V625.1M360.5 533.3V631.4M361.5 549.7V639.4M362.5 543.4V636.6M363.5 560.1V643.2M364.5 539.2V629.6M365.5 550.6V642M366.5 545V637.3M367.5 545.7V630.4M368.5 556V632.8M369.5 551.6V639.2M370.5 548.5V629.8M371.5 546.9V652.3M372.5 554.8V626.5M373.5 546.1V625.4M374.5 538.5V632.3M375.5 533.4V637.4M376.5 554.9V623.8M377.5 550.8V635M378.5 558.8V632.6M379.5 556.3V638.7M380.5 542V652.4M381.5 547.1V645.4M382.5 543.4V641M383.5 555.7V643.5M384.5 549.8V653.6M385.5 549.4V624.9M386.5 530.5V632.2M387.5 555.3V631.9M388.5 553.3V627.6M389.5 559.6V628.5M390.5 550.4V624.9M391.5 552.8V629M392.5 546V626.4M393.5 545.5V647.3M394.5 518.2V639.8M395.5 541.2V660.9M396.5 552.7V642.1M397.5 535.4V643.7M398.5 544.6V633.7M399.5 541.9V655.3M400.5 537.9V630.3M401.5 556.5V636.7M402.5 548.6V632.1M403.5 552.2V632.1M404.5 549.7V624.5M405.5 543.7V634.4M406.5 533.8V639.4M407.5 544.9V645.2M408.5 546.3V625.3M409.5 558.8V652.5M410.5 553.2V638.2M411.5 539.7V636M412.5 527.4V631.4M413.5 528.7V661.6M414.5 540.6V642.9M415.5 542.9V634.1M416.5 556.2V630.1M417.5 535.6V649.1M418.5 544.3V647.7M419.5 558.5V638.2M420.5 526.6V632.7M421.5 555.1V630.1M422.5 549.8V637.2M423.5 553.2V625.9M424.5 546.5V655.9M425.5 540.1V644.5M426.5 549.2V636.8M427.5 554.4V632.7M428.5 551.9V628.3M429.5 549.2V638.3M430.5 538.7V632.5M431.5 548.1V637.8M432.5 535.4V626.8M433.5 537.2V635.2M434.5 557.2V640.7M435.5 542.2V641.8M436.5 546.4V629.2M437.5 545.8V637.6M438.5 548.8V647.5M439.5 555.2V624.9M440.5 554.3V640.4M441.5 542V650.7M442.5 558.4V651.2M443.5 558.6V631.1M444.5 557.7V632.6M445.5 553.4V625M446.5 548.1V651.1M447.5 540.5V638.8M448.5 555.2V625.4M449.5 547.5V636.9M450.5 546.7V639.3M451.5 553.8V630.2M452.5 551.8V650.2M453.5 548.7V642.2M454.5 541.7V641.3M455.5 544.1V642.7M456.5 550.3V640M457.5 550.3V646.5M458.5 551.4V648.4M459.5 555.4V627.7M460.5 544.6V630.4M461.5 534.4V642.1M462.5 555.3V624.1M463.5 556V631.5M464.5 550.2V633.2M465.5 557.7V630.1M466.5 551.3V646.4M467.5 545.4V655.5M468.5 551.4V628M469.5 553.5V632.7M470.5 553.8V626.9M471.5 549.8V630.5M472.5 558.4V626.7M473.5 557.7V633.7M474.5 550.6V658.4M475.5 533.4V627.5M476.5 547.7V625.1M477.5 559V631.3M478.5 546.5V638.4M479.5 554.2V629.4M480.5 542.3V634.7M481.5 535V636.3M482.5 550.1V628.9M483.5 557.4V644.5M484.5 542.3V633.8M485.5 542V624M486.5 552.6V642.7M487.5 540.1V633.8M488.5 526.9V648M489.5 547.1V623.9M490.5 541.6V644.4M491.5 541V646.7M492.5 538.9V664.4M493.5 542.1V648.9" stroke="#0072bd" stroke-width="1" fill="none" opacity="0.55"/>
<path d="M65.5 516.2V660M66.5 521.7V685.9M67.5 496.5V657.8M68.5 529.3V646.7M69.5 538.3V645.3M70.5 527.8V664.5M71.5 513.9V651.9M72.5 534V675.1M73.5 527.8V660.7M74.5 526.7V650.4M75.5 518V651.8M76.5 501.4V652.7M77.5 513.8V662.1M78.5 528.5V649M79.5 506.8V657.3M80.5 531.6V652.7M81.5 520.9V664.8M82.5 526.9V655.9M83.5 527.2V643.7M84.5 527.8V648.7M85.5 515.2V646.1M86.5 533.8V644.5M87.5 505.1V647.2M88.5 517.8V655.6M89.5 529.1V670.1M90.5 538.7V658.8M91.5 534.8V666.9M92.5 494.9V665.1M93.5 516.8V645.3M94.5 534.8V667.2M95.5 540.1V645.5M96.5 537.5V662.7M97.5 512.4V656.3M98.5 533.2V670.3M99.5 508.2V639M100.5 541.5V664.8M101.5 535.6V648.4M102.5 527.9V652.1M103.5 539.9V668.7M104.5 532.2V642.8M105.5 513.1V639.6M106.5 543.4V636.1M107.5 513.8V668.7M108.5 501.9V641M109.5 532.1V645.7M110.5 529.8V636.3M111.5 536.6V643.6M112.5 541.8V648.7M113.5 543.1V666.2M114.5 535.3V646.6M115.5 535.2V648.2M116.5 544.2V661.2M117.5 542.4V667.8M118.5 517V639.1M119.5 545.5V639.5M120.5 542.9V647.6M121.5 543.6V650.8M122.5 547.4V645.7M123.5 546V634.4M124.5 533.7V633.7M125.5 550.4V639.3M126.5 539.9V646.3M127.5 533.3V630M128.5 527.2V634M129.5 547.6V628.2M130.5 544.6V652.2M131.5 534.4V636.8M132.5 550.6V630.6M133.5 552.4V628.7M134.5 554.8V635.9M135.5 514.9V638.1M136.5 551.9V641.6M137.5 546.2V652M138.5 523.6V637.3M139.5 552.9V629.2M140.5 529.1V633.3M141.5 546.6V639.2M142.5 549.7V639.8M143.5 537.1V636.2M144.5 514.8V653.6M145.5 542.9V634.8M146.5 537.2V638.8M147.5 544.9V640.8M148.5 530.2V630.3M149.5 553.6V630.6M150.5 554.4V638.9M151.5 539V644.5M152.5 537V650.5M153.5 519.2V630M154.5 540.7V627.2M155.5 532.2V636.2M156.5 539.5V644.1M157.5 544.4V632.2M158.5 552.3V645M159.5 521.7V639M160.5 543.3V630.9M161.5 527.7V644.5M162.5 551.3V629.8M163.5 551.7V638.9M164.5 543.9V644.4M165.5 550.2V669.6M166.5 543.4V635.8M167.5 546.6V636.9M168.5 539V637.4M169.5 551.5V658.6M170.5 554.4V641.2M171.5 547.8V635.4M172.5 552.2V626.8M173.5 547.2V639.6M174.5 536.4V631.5M175.5 529.6V626.2M176.5 532.5V655.7M177.5 553.6V640M178.5 547.7V633.3M179.5 533V659M180.5 553.7V628.2M181.5 538.3V651M182.5 545.6V626.9M183.5 537.8V643.3M184.5 553.4V632.3M185.5 545.8V638.9M186.5 553.5V634.7M187.5 548.6V629.5M188.5 550.6V633M189.5 542.3V638.4M190.5 543.8V623.1M191.5 558.5V643.6M192.5 537.7V628.4M193.5 557.2V624.3M194.5 555.7V634.2M195.5 554.2V647.4M196.5 557.5V622.1M197.5 537.7V627.2M198.5 560.4V622.2M199.5 560.1V631.4M200.5 560V635.9M201.5 521.1V626.1M202.5 537.4V626.4M203.5 552.6V635.9M204.5 553.8V632.2M205.5 543V624.1M206.5 558.4V639.8M207.5 556.2V626.1M208.5 541.4V624.2M209.5 553.2V629.1M210.5 548.7V629.4M211.5 546.1V635.1M212.5 556.3V623.2M213.5 549.1V649.6M214.5 541.8V648.7M215.5 559.9V622.8M216.5 546.8V628.7M217.5 544.3V628.7M218.5 553.8V635.3M219.5 554.1V650.5M220.5 558.1V648.3M221.5 558.3V622.7M222.5 542.5V631.3M223.5 550.8V627.3M224.5 557.8V633.4M225.5 552.1V629.3M226.5 552.2V631.4M227.5 547.3V624M228.5 547.9V628M229.5 542.3V646.4M230.5 547.2V627.8M231.5 540.5V625.5M232.5 557.1V627.7M233.5 551.5V636.2M234.5 541.1V630.1M235.5 550.2V626.8M236.5 552.2V629.2M237.5 551.8V638.3M238.5 562.2V620.7M239.5 538V637.3M240.5 558.8V622.9M241.5 561.1V623.5M242.5 541.5V621.1M243.5 548.3V624.4M244.5 554.1V628.8M245.5 562.4V631.4M246.5 553.6V640.4M247.5 558.5V628.2M248.5 557.2V621.8M249.5 559.3V628.7M250.5 551.8V622.7M251.5 561.3V626.4M252.5 561.4V620.4M253.5 548.8V618.8M254.5 550.3V643M255.5 561.4V624.9M256.5 545.4V623.3M257.5 547.2V638.4M258.5 553.2V624.9M259.5 550V624.4M260.5 559.2V641.8M261.5 560.9V629.9M262.5 545.5V636.5M263.5 549.6V644.5M264.5 543.1V628.1M265.5 550.1V625.5M266.5 563.6V630.9M267.5 561.2V620.3M268.5 561.3V625.4M269.5 548.2V649.7M270.5 557V625.6M271.5 563.7V636.6M272.5 545.4V623.3M273.5 558.7V617.8M274.5 548.9V618.5M275.5 554.2V637.5M276.5 556.8V628.9M277.5 548.6V632.5M278.5 562.6V623.9M279.5 545.2V623.7M280.5 556.2V632.6M281.5 559.9V622.7M282.5 551.8V650.8M283.5 543.4V630.6M284.5 548.8V619.9M285.5 553.5V625.2M286.5 528.1V625.7M287.5 556.6V620.1M288.5 555.3V632.5M289.5 555.3V631M290.5 551V623.6M291.5 561.4V632.9M292.5 539.6V626.7M293.5 546.3V624.3M294.5 550.6V621.9M295.5 551.1V632.4M296.5 558.8V626.8M297.5 551.4V626.2M298.5 561.7V620M299.5 554.2V618M300.5 555.9V617.1M301.5 560.3V624.7M302.5 557.4V621.5M303.5 557.1V633M304.5 545.7V619.1M305.5 557.5V622.1M306.5 561.8V622.8M307.5 559.2V623.4M308.5 562.9V624M309.5 554V628.5M310.5 554.5V623.9M311.5 560.9V619.4M312.5 562.2V636.2M313.5 559.4V624.5M314.5 559.5V618.6M315.5 532.1V624.2M316.5 556.5V650.8M317.5 553.3V621M318.5 552.1V622.5M319.5 563.9V621.8M320.5 558.5V631.4M321.5 554.1V635.7M322.5 555.3V659.4M323.5 560.8V624.3M324.5 558.6V623M325.5 556.3V622.9M326.5 562V629.3M327.5 555.2V621.4M328.5 541V622.5M329.5 552.8V628.9M330.5 557.5V628.8M331.5 553.4V634.9M332.5 556.1V625.3M333.5 547.8V639.5M334.5 557.8V625.9M335.5 553.3V624.6M336.5 554.9V620.9M337.5 558.4V631.2M338.5 548V621.9M339.5 558.9V621.8M340.5 564.1V619.1M341.5 559.1V637.8M342.5 564V621.5M343.5 557.2V624M344.5 557.1V627.7M345.5 553.3V618.6M346.5 560.8V621.8M347.5 555.3V629.7M348.5 564.4V627.1M349.5 549.8V640.1M350.5 557.4V618M351.5 560.5V634.8M352.5 553.9V628.2M353.5 553.6V615.6M354.5 544.4V631.9M355.5 561.5V618.2M356.5 565.2V629M357.5 553.5V630.8M358.5 562.2V626.2M359.5 559.5V620.3M360.5 540.4V624.1M361.5 563.3V631.5M362.5 548.3V628.4M363.5 563.6V636.1M364.5 547.2V626.4M365.5 555.4V628.6M366.5 551.8V617.9M367.5 552.3V625.3M368.5 560V628.7M369.5 553.9V628.5M370.5 558.8V620.8M371.5 561.9V650.1M372.5 562.6V620.8M373.5 555.7V620.5M374.5 553.1V623M375.5 536.2V634.8M376.5 560.8V620.9M377.5 556.3V622.7M378.5 562.2V620.7M379.5 558.7V631.1M380.5 550.9V650.2M381.5 554.8V629.2M382.5 552.1V627.7M383.5 559.1V639M384.5 560.6V651.2M385.5 560V619.9M386.5 540.4V620.5M387.5 559.2V626.6M388.5 562.5V622M389.5 561.7V619.3M390.5 552.8V619.9M391.5 556.7V624.3M392.5 553.1V624.1M393.5 549.7V638.1M394.5 526.1V636.9M395.5 554.7V658.2M396.5 555.2V626.6M397.5 542.7V637.5M398.5 552.7V623.5M399.5 550.3V642.6M400.5 546.4V626.2M401.5 559.3V632.5M402.5 562V628.5M403.5 561.4V629.2M404.5 558.4V620.2M405.5 553.2V629.9M406.5 540.6V627.2M407.5 552.9V629.5M408.5 560.3V622.6M409.5 561.3V648.2M410.5 557V628.9M411.5 556.1V628.7M412.5 532.5V627.1M413.5 538.4V648.1M414.5 543.3V636.8M415.5 548.7V627.8M416.5 559V624.6M417.5 545.5V644.4M418.5 552.6V641.3M419.5 562.3V627.7M420.5 533.1V620.8M421.5 561.3V627.8M422.5 560.1V625M423.5 557.9V619.7M424.5 558.2V644.1M425.5 547.2V630.4M426.5 552.5V632.2M427.5 556.6V629.5M428.5 563.1V621.6M429.5 558.6V633.3M430.5 542V628.9M431.5 550.2V630.7M432.5 543.7V623.5M433.5 553.1V628.2M434.5 564.1V634.2M435.5 552.7V634.5M436.5 557V619.3M437.5 553.3V631.6M438.5 559.2V639.8M439.5 560.5V620.2M440.5 560.5V630.7M441.5 552.1V633.7M442.5 560.5V634.1M443.5 564V620.2M444.5 564V629.2M445.5 557.8V621.5M446.5 558.4V636.8M447.5 554.9V632.9M448.5 559.6V621.9M449.5 553.9V634.1M450.5 553.8V628.8M451.5 559.3V627.2M452.5 558.3V637.5M453.5 556.9V625.4M454.5 552.3V632.8M455.5 547.1V634.4M456.5 553.3V629.3M457.5 560.1V636.8M458.5 559.8V635.4M459.5 561.6V621.3M460.5 554.5V623.8M461.5 543.8V637.1M462.5 557.6V620.7M463.5 560.2V629.2M464.5 559.9V630.3M465.5 560.2V626.8M466.5 563.3V640.8M467.5 555.7V646.6M468.5 555.9V623.5M469.5 556.5V628.6M470.5 561.8V618.2M471.5 557.7V624.3M472.5 562.1V623.9M473.5 560.2V627.8M474.5 555.8V650.2M475.5 545.9V619.4M476.5 559.1V621M477.5 562.5V622.1M478.5 550.7V630M479.5 560.9V625.4M480.5 552.5V630.5M481.5 543.2V631.1M482.5 552.8V620.9M483.5 559.8V640.7M484.5 547.9V626M485.5 556.3V620.9M486.5 562.5V631.1M487.5 550.8V622.6M488.5 536.6V633.6M489.5 553V620.7M490.5 547.5V630.6M491.5 551.7V638.5M492.5 552.9V655M493.5 552.4V640.8" stroke="#0072bd" stroke-width="1.4" fill="none"/>
</g>
<path d="M65.5 451L495 451" stroke="#b4b4b4" stroke-width="1.6"/>
<path d="M65.5 731L495 731" stroke="#b4b4b4" stroke-width="1.6"/>
<path d="M65.5 451L65.5 731" stroke="#c4dcf0" stroke-width="1.4"/>
<path d="M495 451L495 731" stroke="#f6cfc2" stroke-width="1.4"/>
<path d="M122.1 731v-9M179.2 731v-9M236.3 731v-9M293.4 731v-9M350.5 731v-9M407.6 731v-9M464.7 731v-9" stroke="#c0c0c0" stroke-width="1.4" fill="none"/>
<path d="M122.1 451v7M179.2 451v7M236.3 451v7M293.4 451v7M350.5 451v7M407.6 451v7M464.7 451v7" stroke="#d4d4d4" stroke-width="1.4" fill="none"/>
<path d="M65.5 497.7h6M65.5 544.4h6M65.5 591.1h6M65.5 637.8h6M65.5 684.5h6" stroke="#c4dcf0" stroke-width="1.2" fill="none"/>
<path d="M495 479h-6M495 507h-6M495 535h-6M495 563h-6M495 591h-6M495 619h-6M495 647h-6M495 675h-6M495 703h-6" stroke="#f6cfc2" stroke-width="1.2" fill="none"/>
<text x="61.4" y="466.4" font-size="22.5" text-anchor="end">30</text>
<text x="58" y="606.9" font-size="22.5" text-anchor="end">0</text>
<text x="61.4" y="742.3" font-size="22.5" text-anchor="end">-30</text>
<text transform="translate(25.8 595.7) rotate(-90)" font-size="26" text-anchor="middle" textLength="193" lengthAdjust="spacingAndGlyphs">Amplitude [µVp]</text>
<text x="76.6" y="756.8" font-size="22.5" text-anchor="middle">0</text>
<text x="477.2" y="756.8" font-size="22.5" text-anchor="middle">400</text>
<text x="283.7" y="769.7" font-size="26" text-anchor="middle" textLength="93" lengthAdjust="spacingAndGlyphs">Time [s]</text>
<text x="771" y="444.4" font-size="28.8" text-anchor="middle" textLength="321.4" lengthAdjust="spacingAndGlyphs">Scalogram: filtered data</text>
<rect x="576" y="448" width="373.7" height="4" fill="#fff"/>
<g filter="url(#fa40)"><use href="#ba4"/></g>
<rect x="953.5" y="451" width="11.3" height="279.2" fill="url(#cba4)"/>
<rect x="953.5" y="451" width="11.3" height="279.2" fill="none" stroke="#c8c8c8" stroke-width="1"/>
<text x="571.8" y="471.7" font-size="22.5" text-anchor="end">92</text>
<text x="571.8" y="502.5" font-size="22.5" text-anchor="end">35</text>
<text x="571.8" y="540.5" font-size="22.5" text-anchor="end">13</text>
<text x="571.8" y="647.1" font-size="22.5" text-anchor="end">1</text>
<text x="573.7" y="738.2" font-size="22.5" text-anchor="end">0.1</text>
<text transform="translate(522.5 599) rotate(-90)" font-size="26" text-anchor="middle" textLength="174" lengthAdjust="spacingAndGlyphs">Frequency [Hz]</text>
<text x="584.1" y="757" font-size="22.5" text-anchor="middle">0</text>
<text x="931.8" y="757" font-size="22.5" text-anchor="middle">400</text>
<text x="770.6" y="765" font-size="26" text-anchor="middle" textLength="93.8" lengthAdjust="spacingAndGlyphs">Time [s]</text>
<text x="976.8" y="470.4" font-size="22.5" textLength="42" lengthAdjust="spacingAndGlyphs">max</text>
<text x="975.5" y="733.4" font-size="22.5">0</text>
<text transform="translate(1000.7 598.3) rotate(-90)" font-size="26" text-anchor="middle" textLength="84.5" lengthAdjust="spacingAndGlyphs">[dB/Hz]</text>
<text x="1033.5" y="48.6" font-size="63">b</text>
<text x="1552.3" y="51.3" font-size="28.8" text-anchor="middle" textLength="477" lengthAdjust="spacingAndGlyphs">Streaming: raw signal &amp; stimulation</text>
<rect x="1124.2" y="56.9" width="871.8" height="285.6" fill="#fff"/>
<g filter="url(#sb)">
<path d="M1284.2 77.8V302.1M1290.1 78.8V326.9M1294.3 87.5V304.4M1299.7 81.8V333.6M1305 75.3V309.6" stroke="#0072bd" stroke-width="1.3" fill="none" opacity="0.5"/>
<path d="M1482.4 83.4V336M1487.4 83.1V302.4M1493.4 91.3V315M1498.4 85.2V334.2M1503.9 87.2V320.9" stroke="#0072bd" stroke-width="1.3" fill="none" opacity="0.5"/>
<path d="M1680.8 73.6V317.2M1686.3 83.1V305.7M1691.4 82.8V303.9M1696.3 73V319.3M1702.1 82.1V337" stroke="#0072bd" stroke-width="1.3" fill="none" opacity="0.5"/>
<path d="M1865.9 83.9V317.8M1870.8 78V319.8M1875.8 80.4V318.2M1881.2 81.8V322.1M1886.4 86V323.5" stroke="#0072bd" stroke-width="1.3" fill="none" opacity="0.5"/>
</g>
<g filter="url(#sb)">
<path d="M1125.5 110V197.6M1126.5 95.8V194.1M1127.5 114.2V193.8M1128.5 117.7V189.8M1129.5 125.3V187M1130.5 107.6V189.1M1131.5 119.5V189M1132.5 111.8V200.9M1133.5 107.2V196.1M1134.5 108V196.8M1135.5 114.3V198.3M1136.5 120.9V204.6M1137.5 111.3V201.6M1138.5 109.5V191.6M1139.5 114.5V199.1M1140.5 111.7V197.8M1141.5 107.6V204.6M1142.5 106.5V188.7M1143.5 104.9V197M1144.5 118.3V195.4M1145.5 104.4V199.9M1146.5 120.7V201.6M1147.5 117.3V198.1M1148.5 101.1V204.9M1149.5 106.9V204.6M1150.5 113.6V188.7M1151.5 114.2V189.7M1152.5 106.9V200.2M1153.5 99.1V200.5M1154.5 104.3V194.2M1155.5 102.4V197M1156.5 113.8V201.5M1157.5 106V192.8M1158.5 101.7V191.6M1159.5 114.1V194.6M1160.5 125.4V190.9M1161.5 124.4V190.4M1162.5 115.6V187M1163.5 112.9V228.9M1164.5 123.7V200.6M1165.5 112.8V207M1166.5 110.7V194.9M1167.5 121V196.9M1168.5 110.5V195M1169.5 107.7V201.3M1170.5 122.2V191.1M1171.5 117.9V199.6M1172.5 114.4V196.5M1173.5 107.2V194M1174.5 107.2V213.9M1175.5 121.1V187.5M1176.5 107.5V199.6M1177.5 109.5V193.5M1178.5 97.5V189.6M1179.5 99.5V192.7M1180.5 121.7V197M1181.5 101.9V196.1M1182.5 99.2V196.1M1183.5 113.6V188.7M1184.5 108V191.6M1185.5 97.9V208.2M1186.5 111.6V221.8M1187.5 122.8V216M1188.5 114.6V191.2M1189.5 124V202.4M1190.5 105.8V204.6M1191.5 109.9V213.5M1192.5 92.6V201.6M1193.5 102.8V205.7M1194.5 90.1V196.2M1195.5 111.9V207.5M1196.5 94.9V201M1197.5 116.9V199.4M1198.5 116.8V200.1M1199.5 102.7V205.5M1200.5 94.7V218.1M1201.5 85.5V198.8M1202.5 119.6V213.5M1203.5 106.1V198.1M1204.5 103.2V203M1205.5 108V239M1206.5 112.9V242.7M1207.5 79.6V201.6M1208.5 99.1V194.6M1209.5 88.7V199.6M1210.5 116.1V198.2M1211.5 104.2V211.7M1212.5 109.4V198.3M1213.5 107.3V192.6M1214.5 111.6V196.5M1215.5 119V183.8M1216.5 100.5V193.9M1217.5 108V194.5M1218.5 100.3V196.9M1219.5 114V193.1M1220.5 108.7V197.5M1221.5 112.4V192.6M1222.5 120.9V189.3M1223.5 120.2V200.7M1224.5 119.1V193.5M1225.5 121.2V205.4M1226.5 113.5V186.8M1227.5 112V197.6M1228.5 116.6V190.3M1229.5 119.9V182.6M1230.5 124.1V192.3M1231.5 110.1V199.9M1232.5 112.9V192.9M1233.5 117.1V194.9M1234.5 115V193.6M1235.5 128.6V196M1236.5 119.4V192.9M1237.5 111.7V196.6M1238.5 117.4V192.6M1239.5 125.4V200.6M1240.5 99.4V191.7M1241.5 106.4V189.8M1242.5 110.2V206.5M1243.5 121.4V196.7M1244.5 119.2V196.6M1245.5 111.4V190.5M1246.5 101.8V192.3M1247.5 122.8V199.5M1248.5 123.8V192.1M1249.5 117.7V188.8M1250.5 119.1V193.2M1251.5 117.1V192.9M1252.5 118.3V194.4M1253.5 125.8V180M1254.5 124.7V197.5M1255.5 124.4V183.5M1256.5 116.3V187.1M1257.5 112.4V182.3M1258.5 116.8V195.8M1259.5 116.7V179.6M1260.5 127.7V190M1261.5 107.3V208.1M1262.5 126.4V197.8M1263.5 117.2V190.5M1264.5 115.1V193.4M1265.5 110.5V203.8M1266.5 116.6V188.3M1267.5 101.7V197.1M1268.5 122V191.3M1269.5 121.2V203.5M1270.5 106.9V197.4M1271.5 128V207M1272.5 122.5V202.4M1273.5 114.7V200.1M1274.5 116.8V183.4M1275.5 115.4V202.6M1276.5 100.1V219.9M1277.5 111.6V193M1278.5 113.8V190.9M1279.5 126.2V184M1280.5 124.4V187.1M1281.5 109.4V189.3M1282.5 117.7V185.3M1283.5 113.5V193.9M1284.5 117.6V188.3M1285.5 115.5V190.1M1286.5 119.5V202.3M1287.5 97.4V196.9M1288.5 105.5V189.2M1289.5 113.2V193.6M1290.5 108.1V212M1291.5 122.3V198.3M1292.5 107.6V195M1293.5 101.3V192.1M1294.5 114.3V193.6M1295.5 108V195.9M1296.5 115.4V200.5M1297.5 94.7V197.2M1298.5 108.2V210.1M1299.5 118.1V201.6M1300.5 98.7V195M1301.5 121.9V204.6M1302.5 103.7V200.3M1303.5 103.2V191.6M1304.5 114.5V194M1305.5 125.3V198.5M1306.5 103.1V212.2M1307.5 110.6V193.6M1308.5 114.8V199.2M1309.5 105.2V199.4M1310.5 116.4V198.2M1311.5 124.4V201.8M1312.5 101.8V205.9M1313.5 112.7V196.6M1314.5 119.4V194.6M1315.5 117.5V188.8M1316.5 122.2V196.2M1317.5 118.7V182.8M1318.5 116.8V179M1319.5 116.1V182.2M1320.5 117V198.1M1321.5 116.2V186.7M1322.5 129.1V181.5M1323.5 127.7V198.3M1324.5 103.4V192.1M1325.5 124.8V187.9M1326.5 116V190M1327.5 122.1V192.9M1328.5 123.7V216.4M1329.5 126.8V182.4M1330.5 121.4V196.3M1331.5 123.9V182.5M1332.5 120.6V198.6M1333.5 115.4V210.9M1334.5 115.4V191.5M1335.5 119.4V186.6M1336.5 118.4V192.3M1337.5 120.1V195.4M1338.5 113.8V189.4M1339.5 127.1V200.8M1340.5 106.6V189.9M1341.5 119.8V197.8M1342.5 111.7V183.4M1343.5 117V181.8M1344.5 115.4V201.6M1345.5 122.1V194.5M1346.5 129V195M1347.5 111.8V195.6M1348.5 114.5V210.7M1349.5 103.1V186M1350.5 114.3V182.3M1351.5 126.9V186.2M1352.5 127.3V188.5M1353.5 121.8V197M1354.5 122.2V186.7M1355.5 119.4V195.2M1356.5 131.7V188.3M1357.5 115.2V187.2M1358.5 114.1V182.2M1359.5 115.6V197M1360.5 111.4V191.6M1361.5 121.5V183.3M1362.5 126.4V194.7M1363.5 121.1V188.1M1364.5 122.3V196.1M1365.5 115.1V199.8M1366.5 117V250.6M1367.5 113.9V191.2M1368.5 115.2V198.2M1369.5 120.3V179.1M1370.5 127.4V187.1M1371.5 116.6V190.3M1372.5 129.9V192.6M1373.5 122.5V185.6M1374.5 117V188.4M1375.5 121.5V183.7M1376.5 122.4V182M1377.5 128.1V193.7M1378.5 121.6V183.7M1379.5 112.4V184.1M1380.5 125.4V189.5M1381.5 122.6V189.7M1382.5 118.3V187.7M1383.5 124.6V181.8M1384.5 125.6V191.1M1385.5 115.4V180.5M1386.5 123.7V184.1M1387.5 120.3V198.5M1388.5 110.7V182.6M1389.5 112.6V201M1390.5 128.3V182M1391.5 116.2V178.4M1392.5 118.3V183.9M1393.5 120.5V187.3M1394.5 120.9V187.4M1395.5 122.8V191.1M1396.5 132.2V183.5M1397.5 127.4V188.3M1398.5 121.4V193.1M1399.5 120V198M1400.5 127.4V185.6M1401.5 132.6V179.7M1402.5 123.5V190.7M1403.5 124V191.3M1404.5 126.9V180.9M1405.5 124.8V181.7M1406.5 131.3V188M1407.5 130.5V189.4M1408.5 127.5V193.1M1409.5 122V197.5M1410.5 129V180.3M1411.5 128.7V187.5M1412.5 130.4V191.4M1413.5 123.2V182.5M1414.5 124.7V190.8M1415.5 112.2V187.1M1416.5 129.2V187.1M1417.5 130V180.5M1418.5 121V188.1M1419.5 134.4V179.9M1420.5 132.8V181.6M1421.5 106.9V181M1422.5 121V192.7M1423.5 121.4V186.5M1424.5 120.2V177M1425.5 121.4V191.9M1426.5 119.5V188M1427.5 129V185.8M1428.5 114.7V179M1429.5 132.8V193.9M1430.5 124.4V181.5M1431.5 114.7V183.6M1432.5 124.6V196.3M1433.5 123.9V194.8M1434.5 120.7V182.6M1435.5 128.7V195.9M1436.5 119.1V188.8M1437.5 123.7V179.2M1438.5 127V198.8M1439.5 124.6V199.5M1440.5 117.4V190M1441.5 91.9V187.9M1442.5 126.7V187.9M1443.5 131.4V203.7M1444.5 118V180.3M1445.5 132V184.5M1446.5 124.5V175.6M1447.5 123.1V180.3M1448.5 127.5V191.1M1449.5 111.9V185.3M1450.5 122.6V187M1451.5 128V192M1452.5 123.4V184.5M1453.5 129.4V185.7M1454.5 123V178.8M1455.5 132.8V181.2M1456.5 123.2V183.3M1457.5 129.2V186.6M1458.5 127.6V180.8M1459.5 125.4V183.5M1460.5 128.2V180.6M1461.5 126V177.5M1462.5 117.7V191.7M1463.5 131.7V192.9M1464.5 128.6V195.7M1465.5 132.3V188.9M1466.5 124.2V179.7M1467.5 129V190.4M1468.5 115V182.9M1469.5 133.4V182.5M1470.5 104.1V184.8M1471.5 119V187.3M1472.5 127.5V190.1M1473.5 122.7V182.5M1474.5 119.6V194.9M1475.5 123.9V190.9M1476.5 111.3V183.1M1477.5 124.2V185.3M1478.5 98.6V182.6M1479.5 130.4V187.6M1480.5 133.7V188M1481.5 134.3V177.5M1482.5 120.7V177M1483.5 127.3V191M1484.5 123.4V180.2M1485.5 128.7V178M1486.5 130.8V184.8M1487.5 128.7V195.6M1488.5 123.4V193.9M1489.5 121.4V183.3M1490.5 120.4V201.3M1491.5 129.6V183.8M1492.5 132.3V190.1M1493.5 123.1V200.6M1494.5 127.1V189.3M1495.5 127.1V196.2M1496.5 120.4V185.4M1497.5 123.5V195.3M1498.5 115.2V188.9M1499.5 114.8V185.9M1500.5 126.8V183.4M1501.5 110.2V211.2M1502.5 113.8V177.9M1503.5 121.4V185.8M1504.5 128.5V183.8M1505.5 127.7V187.7M1506.5 135.1V187.1M1507.5 123.4V177.7M1508.5 130.9V188.2M1509.5 128.1V185.3M1510.5 122.4V252.1M1511.5 133.2V188M1512.5 124.6V179.8M1513.5 115V190.2M1514.5 124.1V184.2M1515.5 132.3V186.7M1516.5 127.1V188.4M1517.5 131.8V183.7M1518.5 131.5V179.6M1519.5 124.2V188.3M1520.5 131.9V184M1521.5 126.6V175.2M1522.5 128.8V186M1523.5 128.3V177.3M1524.5 133.2V177M1525.5 133.4V190.9M1526.5 134.3V176.2M1527.5 119.4V172.4M1528.5 134.9V186.7M1529.5 125V173.7M1530.5 129.1V176.7M1531.5 133.8V179.6M1532.5 128.3V174.8M1533.5 132.6V181.9M1534.5 135.9V175.6M1535.5 126.9V192.4M1536.5 133.5V177.9M1537.5 132.4V174.4M1538.5 126.7V177.7M1539.5 135.3V180.2M1540.5 129.8V181M1541.5 125.5V176.5M1542.5 130.4V178.1M1543.5 129.1V183M1544.5 133.1V182.8M1545.5 127V178.4M1546.5 129.5V180.3M1547.5 131.2V173.1M1548.5 130.1V173.4M1549.5 137.1V193M1550.5 134.2V174.4M1551.5 138.7V197.6M1552.5 136.9V173.9M1553.5 132.8V186.6M1554.5 132.2V183.5M1555.5 131.9V185M1556.5 136.8V182.7M1557.5 128.7V182M1558.5 126.4V177.1M1559.5 135.8V176.8M1560.5 129.1V181.9M1561.5 136.1V185.9M1562.5 130.9V184.5M1563.5 130.8V183.1M1564.5 131.4V186.4M1565.5 131.1V176.7M1566.5 128.5V180.1M1567.5 118.4V178.3M1568.5 135.6V185.9M1569.5 127.1V177M1570.5 134.5V182.3M1571.5 123.1V185.3M1572.5 128.3V179.9M1573.5 123.1V185M1574.5 132.4V188.6M1575.5 122.3V179.9M1576.5 119.5V179.7M1577.5 130.5V194M1578.5 124.3V177.8M1579.5 128.6V180.8M1580.5 126.8V180.4M1581.5 129.1V178M1582.5 127.2V180.3M1583.5 126.3V176.1M1584.5 131.4V192.9M1585.5 122.5V179.9M1586.5 133.8V187.1M1587.5 122.5V183.2M1588.5 121.8V184.5M1589.5 123.7V181.8M1590.5 130.6V176.2M1591.5 130.2V184.8M1592.5 131.6V185.8M1593.5 128.4V178M1594.5 134.3V178.2M1595.5 133.9V173.6M1596.5 123.7V176.6M1597.5 128.7V182M1598.5 119.1V175.4M1599.5 127.3V184.7M1600.5 125.2V189.4M1601.5 130.6V179.9M1602.5 128.1V184.1M1603.5 128.6V197.4M1604.5 120.7V180M1605.5 122.9V178.8M1606.5 129.3V176.8M1607.5 136.2V176.8M1608.5 127.8V181.6M1609.5 126.9V184.7M1610.5 120.4V179.5M1611.5 133.6V179.2M1612.5 124.8V188.9M1613.5 131.5V176M1614.5 125.9V173.7M1615.5 119V180.8M1616.5 127.2V177.4M1617.5 130.8V176.3M1618.5 132.6V188.3M1619.5 128.5V175.8M1620.5 133.9V178.2M1621.5 128.2V178.2M1622.5 135.6V174.1M1623.5 131.4V176.9M1624.5 136.3V184.5M1625.5 137V184.1M1626.5 125.4V179.2M1627.5 120.7V173.6M1628.5 135.2V178.3M1629.5 130.4V182.1M1630.5 132.4V193.4M1631.5 128.8V176.5M1632.5 131.1V173.8M1633.5 134.1V185.3M1634.5 126.3V176.4M1635.5 130.8V180.2M1636.5 133.7V174.9M1637.5 128V181.1M1638.5 134.9V184.6M1639.5 122.1V179.2M1640.5 121.5V180.5M1641.5 128.8V181.9M1642.5 135.3V182M1643.5 127.6V177.8M1644.5 136.5V178.4M1645.5 121V180.3M1646.5 135.4V174.5M1647.5 130.5V173.9M1648.5 132.6V179.8M1649.5 137.4V177.8M1650.5 132.9V186.1M1651.5 134.6V173.4M1652.5 136V175.4M1653.5 132.1V178.7M1654.5 133.3V176.6M1655.5 130.3V181.1M1656.5 138.8V176.4M1657.5 118.3V178.2M1658.5 133.8V174.5M1659.5 133.3V173M1660.5 136.6V179.2M1661.5 133.3V176M1662.5 128V184.9M1663.5 128.5V173.3M1664.5 132.2V180.3M1665.5 129.5V175.6M1666.5 119.4V177.5M1667.5 124.9V183.2M1668.5 129.7V176.5M1669.5 126V186M1670.5 129.4V176.6M1671.5 125.2V183.3M1672.5 131.1V179.3M1673.5 125.3V180.3M1674.5 126.5V179M1675.5 132.3V184.3M1676.5 127V176.7M1677.5 122.2V177.5M1678.5 137.7V186.1M1679.5 127V189.4M1680.5 109.8V183.8M1681.5 131.8V175.4M1682.5 127V183.7M1683.5 128.5V178.2M1684.5 134.9V186.2M1685.5 130.2V183.3M1686.5 122V178.6M1687.5 130.5V178.8M1688.5 130.8V180.3M1689.5 132.8V176.8M1690.5 126.5V173.9M1691.5 122.8V178.3M1692.5 125V177.4M1693.5 125.6V189.6M1694.5 133.6V184.9M1695.5 126.8V186.3M1696.5 120.6V182M1697.5 133.6V178.3M1698.5 115.3V177.4M1699.5 126.6V180.3M1700.5 117.2V180.9M1701.5 122.7V183.4M1702.5 130.3V180.9M1703.5 133.6V176.5M1704.5 123.3V192.1M1705.5 127.2V188.3M1706.5 131.5V178.6M1707.5 125.8V191.2M1708.5 133.6V184.3M1709.5 136V172.4M1710.5 136.8V175.3M1711.5 130.3V182M1712.5 133.5V171.8M1713.5 128.3V174.8M1714.5 132.2V175M1715.5 128.5V178M1716.5 134V174.1M1717.5 131.7V178M1718.5 137.4V175.8M1719.5 130V175.2M1720.5 134.1V178.1M1721.5 138.3V173.9M1722.5 127.9V199.3M1723.5 135.8V177.9M1724.5 139.1V176.8M1725.5 132V171.8M1726.5 132.3V178.7M1727.5 137.5V174.3M1728.5 137.9V179.8M1729.5 135.9V177.3M1730.5 132V171.5M1731.5 129.4V182.1M1732.5 134.8V179M1733.5 133.4V181M1734.5 134.3V173.5M1735.5 126.3V180.7M1736.5 131.1V172.2M1737.5 134.3V174.9M1738.5 139.9V174.5M1739.5 124V189.6M1740.5 129.9V184.1M1741.5 127.4V177M1742.5 135.5V177.6M1743.5 123.4V185.8M1744.5 127.7V172.9M1745.5 126.8V187M1746.5 134.3V175.1M1747.5 129.2V178.4M1748.5 130.7V184.6M1749.5 131.2V175.4M1750.5 135V175.1M1751.5 133.7V175.2M1752.5 136.7V176.5M1753.5 137.2V178.2M1754.5 126.9V175.5M1755.5 129.7V178M1756.5 135.6V177.4M1757.5 129.8V175.2M1758.5 128.3V175.7M1759.5 130.5V177.2M1760.5 127V179.8M1761.5 131.6V180.3M1762.5 129.3V175M1763.5 133.6V191.8M1764.5 137.4V173.9M1765.5 126V173.7M1766.5 128.8V178.1M1767.5 126.8V178.2M1768.5 135.9V178.9M1769.5 124.9V179.8M1770.5 125.7V189.9M1771.5 125.6V174.4M1772.5 130.2V186.9M1773.5 131.8V175.1M1774.5 131.7V182.6M1775.5 128.9V175.3M1776.5 128.8V184.5M1777.5 131.2V175M1778.5 132V174.2M1779.5 127.1V178.7M1780.5 121.8V171.9M1781.5 127V183.9M1782.5 126.1V176.6M1783.5 118.6V186.3M1784.5 135V180.8M1785.5 116.5V181.9M1786.5 131.5V186M1787.5 128.6V176.1M1788.5 130.7V177.7M1789.5 133.7V179.1M1790.5 129.8V178.8M1791.5 120.1V183.7M1792.5 130.2V174.3M1793.5 136.1V179.7M1794.5 128.8V182.6M1795.5 139.2V182.3M1796.5 135V187.2M1797.5 133.4V185M1798.5 132.7V182.4M1799.5 132.7V176.6M1800.5 130.5V172.1M1801.5 134.6V173.9M1802.5 135.4V178M1803.5 130.2V179.9M1804.5 131.4V172.7M1805.5 134.7V178.2M1806.5 121.7V171.3M1807.5 123.2V184.6M1808.5 120.7V174.3M1809.5 119.5V177.9M1810.5 131.7V184.1M1811.5 119.8V182.4M1812.5 131.7V181.4M1813.5 134.9V180.1M1814.5 128.4V182.4M1815.5 120.3V177.5M1816.5 133.3V178M1817.5 124.1V176.5M1818.5 119.9V174.7M1819.5 128.4V179.5M1820.5 128.7V183.7M1821.5 128.8V182.6M1822.5 130V180.3M1823.5 136.4V178.8M1824.5 136.4V178.9M1825.5 122.4V176M1826.5 126.3V178.3M1827.5 130.5V181.7M1828.5 131V178.7M1829.5 132.1V201.1M1830.5 128.4V188.1M1831.5 131V190.2M1832.5 132.8V178.1M1833.5 126.1V183.7M1834.5 129.9V177.2M1835.5 134.8V176.1M1836.5 135.3V175.6M1837.5 134.9V182.3M1838.5 129.9V174.4M1839.5 129.9V182M1840.5 132.6V182.4M1841.5 127.5V175M1842.5 133.3V178M1843.5 135.5V181.7M1844.5 137.4V177.3M1845.5 130V172.2M1846.5 133.1V177.5M1847.5 131.3V178.5M1848.5 133.9V179.1M1849.5 133V176.3M1850.5 135.2V174M1851.5 130.7V181.8M1852.5 135.7V181.6M1853.5 122.3V177.1M1854.5 136.7V183.8M1855.5 134.9V193.4M1856.5 131.6V183.9M1857.5 135.6V177M1858.5 128.7V176.1M1859.5 127.5V179.9M1860.5 132.2V178.6M1861.5 132.3V176.7M1862.5 135.6V174.6M1863.5 135.3V180.3M1864.5 129.6V177.5M1865.5 134.1V180.3M1866.5 132.2V186.4M1867.5 132.9V185.2M1868.5 135V176.8M1869.5 131.1V175M1870.5 130.7V175.4M1871.5 132.4V178.8M1872.5 136.8V179.2M1873.5 138.2V177.3M1874.5 132.5V171.6M1875.5 137V176M1876.5 134.8V174.1M1877.5 131V172.4M1878.5 128.8V175.8M1879.5 136.5V172.1M1880.5 125V171.2M1881.5 133.3V173.7M1882.5 136.8V169.8M1883.5 133.7V173.6M1884.5 132.4V175.8M1885.5 129.4V173.9M1886.5 132.1V174.7M1887.5 133.8V177.4M1888.5 133V170.1M1889.5 133.6V169.8M1890.5 136.2V177.9M1891.5 135V173.8M1892.5 134.2V172.5M1893.5 135.7V175.2M1894.5 134.8V168.9M1895.5 137V178.9M1896.5 134.7V177.7M1897.5 131.8V175.7M1898.5 137.7V170.9M1899.5 131.8V192M1900.5 135.1V180M1901.5 133.8V174.1M1902.5 133.5V174.3M1903.5 138.9V173.1M1904.5 134V175.7M1905.5 134.1V178.8M1906.5 132.3V172.6M1907.5 121V173.5M1908.5 137.4V173M1909.5 132.1V176.6M1910.5 137.4V174.9M1911.5 129.3V174M1912.5 130.9V175.5M1913.5 135.4V175.5M1914.5 135V175.7M1915.5 139V190M1916.5 132.6V181M1917.5 127.7V177.3M1918.5 137.4V179.3M1919.5 135.7V172.8M1920.5 139.4V174M1921.5 136.2V172.2M1922.5 129.4V175.5M1923.5 133.5V170.6M1924.5 134.6V178.8M1925.5 132.2V174.6M1926.5 127.6V180M1927.5 125.8V184.8M1928.5 132.2V178.1M1929.5 132V177.1M1930.5 124.4V177.4M1931.5 133.8V175.5M1932.5 132.3V182.5M1933.5 133.6V172.1M1934.5 132.5V177.5M1935.5 128.6V176.1M1936.5 126.1V174.8M1937.5 128.5V181M1938.5 133.3V182M1939.5 124.3V179.6M1940.5 134.7V230.7M1941.5 128V178.2M1942.5 124.4V178.6M1943.5 137.4V175.2M1944.5 128.2V174.5M1945.5 138.5V176.5M1946.5 136.5V173.9M1947.5 134.8V177.1M1948.5 136.5V180.6M1949.5 134.3V175.6M1950.5 135.4V177M1951.5 130.8V171.6M1952.5 129V173.2M1953.5 131.3V176M1954.5 138.4V185.5M1955.5 139.1V172.5M1956.5 130.6V177.8M1957.5 131.7V183.6M1958.5 132.7V172.4M1959.5 134.2V178.8M1960.5 138.5V174.5M1961.5 132V175.9M1962.5 139.5V170.5M1963.5 137.7V173.2M1964.5 133.7V184.2M1965.5 124.2V173.7M1966.5 134.3V174.5M1967.5 135.1V176.3M1968.5 135.3V174.1M1969.5 138.7V174.4M1970.5 140.7V171.6M1971.5 132.5V174.9M1972.5 126.2V168M1973.5 136.7V175M1974.5 135.7V170.8M1975.5 135.3V175.3M1976.5 132.8V173M1977.5 139.9V175.7M1978.5 135.9V179.3M1979.5 137.8V171.4M1980.5 130.4V171M1981.5 135.6V179.3M1982.5 138.8V171.6M1983.5 120.9V173M1984.5 138.5V175.3M1985.5 130.9V178.5M1986.5 137V172.3M1987.5 137.7V169.5M1988.5 139.9V173.9M1989.5 129.6V172M1990.5 134.7V176M1991.5 130.4V175.7M1992.5 137.6V182.6" stroke="#0072bd" stroke-width="1" fill="none" opacity="0.28"/>
<path d="M1125.5 112.1V191.8M1126.5 106.9V190.7M1127.5 117.1V186.3M1128.5 119.6V186.9M1129.5 129.2V181.9M1130.5 112.1V182.3M1131.5 129.9V187.2M1132.5 118.6V191.1M1133.5 119.9V188.3M1134.5 113.8V185.4M1135.5 118.6V194.8M1136.5 124.1V191.1M1137.5 115.9V199.5M1138.5 114.5V189.6M1139.5 122.4V192.7M1140.5 117.4V188.4M1141.5 114V202.1M1142.5 111.2V186.1M1143.5 115.2V193.3M1144.5 126V187.1M1145.5 111V196.6M1146.5 122.6V197.4M1147.5 122.2V195.7M1148.5 113.1V201.5M1149.5 114.2V193.4M1150.5 115.9V181.9M1151.5 116.5V185.2M1152.5 111.4V192.7M1153.5 102.6V191.1M1154.5 113.3V189.5M1155.5 118.2V193.8M1156.5 121V184.5M1157.5 113.4V186.5M1158.5 117.9V187M1159.5 120.1V190.9M1160.5 128.6V186.7M1161.5 129.8V188.1M1162.5 125.4V183.8M1163.5 117.1V205.3M1164.5 128.6V191M1165.5 115.5V205.2M1166.5 116.3V192.9M1167.5 124.5V193.1M1168.5 118.3V192.4M1169.5 114.4V197.4M1170.5 128.5V186.9M1171.5 127.5V194M1172.5 118V187.9M1173.5 112.8V191.2M1174.5 111.1V197.6M1175.5 124.5V183.4M1176.5 117.7V191.4M1177.5 114.4V190.3M1178.5 119.5V184.5M1179.5 110.1V188.6M1180.5 123.4V190.4M1181.5 107.4V189M1182.5 112.9V193.5M1183.5 122.7V183.8M1184.5 111.9V188.6M1185.5 108.4V191.4M1186.5 116.8V192M1187.5 125.9V204.4M1188.5 118.5V185.1M1189.5 128V187M1190.5 109.2V201M1191.5 112.4V210.9M1192.5 99.7V186.8M1193.5 106.9V193.4M1194.5 111.1V191.5M1195.5 119.4V193M1196.5 117.9V196M1197.5 120.2V189.6M1198.5 120.2V194.3M1199.5 115.5V198.4M1200.5 97.1V212M1201.5 107.7V195.6M1202.5 124.2V204.9M1203.5 113V189.7M1204.5 112.2V197.8M1205.5 114.2V191M1206.5 116.7V208.5M1207.5 96.6V189.2M1208.5 118.1V192.8M1209.5 93.1V191.3M1210.5 120.1V190.6M1211.5 111V192.3M1212.5 122.6V194.3M1213.5 113.2V185.7M1214.5 116.9V191.3M1215.5 121.4V181.9M1216.5 103V191.1M1217.5 112.5V191M1218.5 107.8V191.9M1219.5 116.6V190.7M1220.5 124.5V188.3M1221.5 115.7V183.9M1222.5 124.2V185M1223.5 122.5V190.7M1224.5 121.5V183.9M1225.5 123.6V190.7M1226.5 116.5V184.2M1227.5 115.9V185.7M1228.5 123.2V183.9M1229.5 126.3V180.6M1230.5 126.1V182.8M1231.5 116.5V185.9M1232.5 121.4V188.7M1233.5 123.3V192.5M1234.5 129V190.5M1235.5 130.1V184.7M1236.5 127.5V191.1M1237.5 125.3V188.7M1238.5 119V191M1239.5 127.2V196.7M1240.5 130.4V184.4M1241.5 118.9V186.1M1242.5 114.1V201.6M1243.5 127.5V192.1M1244.5 121V192.7M1245.5 116.8V188.1M1246.5 119.3V187.1M1247.5 128.8V185.1M1248.5 126.3V188.8M1249.5 119.9V186.3M1250.5 122.7V181.8M1251.5 120V189.2M1252.5 121.6V187.5M1253.5 130.4V178.4M1254.5 127.7V189.1M1255.5 129.4V180.5M1256.5 122.9V181.4M1257.5 121.8V179.7M1258.5 121.9V191.3M1259.5 118.9V177.8M1260.5 129.6V186.3M1261.5 116.7V190.8M1262.5 128.4V188.4M1263.5 127.9V184M1264.5 125.5V181M1265.5 117.8V196.5M1266.5 124.5V186.2M1267.5 112.3V189M1268.5 125.5V189.4M1269.5 123.8V191.9M1270.5 109.1V185.3M1271.5 129.6V185.4M1272.5 126V196.7M1273.5 121.2V194.4M1274.5 119.6V181.2M1275.5 124.9V184.8M1276.5 105.9V202.5M1277.5 116.4V184.2M1278.5 121.9V179.2M1279.5 128.4V181.7M1280.5 127.3V184.7M1281.5 113.1V183.2M1282.5 120.4V181.8M1283.5 115.3V191.5M1284.5 119.6V185.1M1285.5 121.6V186.5M1286.5 126V197.7M1287.5 112.8V194.9M1288.5 110.9V181.4M1289.5 122.3V190.5M1290.5 122.5V194.8M1291.5 125.7V184.8M1292.5 114.4V193.5M1293.5 109.5V190.6M1294.5 126.1V189.5M1295.5 111.5V192.2M1296.5 117.8V198.2M1297.5 103.1V189.8M1298.5 117.6V207.4M1299.5 120.4V198.5M1300.5 101.2V188.7M1301.5 124.3V202.2M1302.5 112.4V197.7M1303.5 107.3V183M1304.5 118.1V188.2M1305.5 126.9V186.8M1306.5 112.3V196.1M1307.5 115.1V186.3M1308.5 124.3V196.2M1309.5 122.2V195.2M1310.5 118.6V188.2M1311.5 127.3V197M1312.5 107.8V200.5M1313.5 117.3V192.8M1314.5 124.8V189.3M1315.5 126.2V182.2M1316.5 127V190M1317.5 126.3V181.2M1318.5 126V176.4M1319.5 121.7V179.4M1320.5 120.5V196.6M1321.5 123.7V182.3M1322.5 131.8V179.9M1323.5 133.2V193.3M1324.5 124.9V185.8M1325.5 126.5V182.6M1326.5 121V176.2M1327.5 128.6V189.1M1328.5 130.5V181.9M1329.5 130.3V180.1M1330.5 126.9V189.2M1331.5 125.8V178.9M1332.5 130.4V196M1333.5 118V190.3M1334.5 119.8V184.1M1335.5 126.2V181.2M1336.5 122.7V182.7M1337.5 126V189.6M1338.5 117.8V184M1339.5 131.2V183.7M1340.5 109.7V186.5M1341.5 128.2V195.8M1342.5 114V179.1M1343.5 120.2V180M1344.5 119.6V197.1M1345.5 123.7V189.8M1346.5 131V190.6M1347.5 115.9V193.8M1348.5 122.8V205.2M1349.5 114.7V184.2M1350.5 128.5V180.7M1351.5 131.2V181.2M1352.5 129.4V186.1M1353.5 125.5V189.8M1354.5 123.7V185.2M1355.5 123.5V191.7M1356.5 133.3V184.1M1357.5 120.3V184.2M1358.5 117.4V176.6M1359.5 120.5V187.1M1360.5 121.8V185.5M1361.5 124V181.6M1362.5 132.3V188.6M1363.5 122.9V181.1M1364.5 125.5V189.4M1365.5 118.1V193.3M1366.5 119.6V193.4M1367.5 118.1V189.4M1368.5 123V183.5M1369.5 128.9V177.2M1370.5 129.7V182.6M1371.5 124V179.7M1372.5 131.2V190.2M1373.5 127V183.1M1374.5 121V185.1M1375.5 123V180.9M1376.5 125.6V177.6M1377.5 131.3V180.5M1378.5 128.4V181.5M1379.5 117.8V182.5M1380.5 127V181.5M1381.5 128V183.5M1382.5 123.6V181.6M1383.5 129.3V176.4M1384.5 126.9V188M1385.5 123.8V176.3M1386.5 133.9V182.4M1387.5 124.9V184.5M1388.5 115.9V180.5M1389.5 123.3V192.5M1390.5 131.3V179.7M1391.5 122.3V175.4M1392.5 120.3V179M1393.5 122.7V180M1394.5 124V179.9M1395.5 130.8V186.4M1396.5 134.3V180.9M1397.5 132.7V183.5M1398.5 127.3V186.9M1399.5 124.6V190M1400.5 130.3V178.9M1401.5 133.9V174.4M1402.5 125.6V187.4M1403.5 125.1V181.3M1404.5 128V178.5M1405.5 127.2V177.1M1406.5 133.8V182M1407.5 137V181.2M1408.5 136.1V187.3M1409.5 130.8V193.1M1410.5 134.4V179.1M1411.5 131.9V181.2M1412.5 132.6V183.2M1413.5 126.3V177.9M1414.5 126.1V186.9M1415.5 124.1V184M1416.5 131.4V182.4M1417.5 132.9V179.2M1418.5 124.4V185.9M1419.5 136.8V178.4M1420.5 135.1V177.6M1421.5 121.9V178.9M1422.5 122.7V189.6M1423.5 126.3V180.1M1424.5 121.6V174.3M1425.5 132.6V185.9M1426.5 126.1V182.8M1427.5 132.6V183.1M1428.5 120.9V176.1M1429.5 134.7V184.1M1430.5 132.7V176.2M1431.5 118.1V176.4M1432.5 128.7V184.1M1433.5 126.3V179.9M1434.5 126.3V178.1M1435.5 130.4V193.6M1436.5 121.3V185.1M1437.5 127.7V175.7M1438.5 133V192.7M1439.5 131V190.9M1440.5 120.9V187.6M1441.5 128.1V182.3M1442.5 129.9V184.4M1443.5 136.2V177.7M1444.5 122.9V177.9M1445.5 134.4V179.5M1446.5 131.8V174.3M1447.5 127.8V179M1448.5 129.6V188.3M1449.5 132.4V182.4M1450.5 124.4V185.1M1451.5 136V190.1M1452.5 131V177.1M1453.5 134.3V174.3M1454.5 132.9V177.2M1455.5 134.3V174.4M1456.5 128V181.3M1457.5 130.6V183.2M1458.5 130.1V177.7M1459.5 126.6V176.5M1460.5 133.1V178.5M1461.5 127.8V175.7M1462.5 122V189.1M1463.5 135.4V185.4M1464.5 135V184M1465.5 135.8V185.3M1466.5 129.1V177.2M1467.5 131.8V187.5M1468.5 124.6V181.6M1469.5 135.9V177.5M1470.5 120.9V178M1471.5 123.3V181.9M1472.5 132V188.3M1473.5 129.6V179M1474.5 122.9V187.4M1475.5 126.3V182.1M1476.5 132.1V180.6M1477.5 131.1V180.3M1478.5 133.9V178.9M1479.5 132.5V180.9M1480.5 134.9V181.8M1481.5 136.4V174.8M1482.5 129.5V174.7M1483.5 131.7V187.2M1484.5 133V176.4M1485.5 134.5V172.8M1486.5 133.2V183.4M1487.5 134.1V173.5M1488.5 131V179.9M1489.5 124.7V180.2M1490.5 122.1V191.4M1491.5 131.7V180.8M1492.5 133.7V183.9M1493.5 129.5V181.5M1494.5 133V185.1M1495.5 130V187.4M1496.5 128V182.6M1497.5 130.5V182.2M1498.5 126.9V185.9M1499.5 120.2V180.3M1500.5 128.6V181.4M1501.5 118V192.2M1502.5 116.5V176.6M1503.5 124.9V180.5M1504.5 129.9V181.9M1505.5 129.8V180.5M1506.5 136.3V180.8M1507.5 129.3V175.9M1508.5 132.2V183.8M1509.5 130.2V178.6M1510.5 128.4V189.2M1511.5 136.3V186.9M1512.5 131.3V177.3M1513.5 129.8V179.2M1514.5 130.2V182.5M1515.5 135V182.6M1516.5 131.6V182.4M1517.5 137.9V179.3M1518.5 134.5V175.9M1519.5 127.3V176.8M1520.5 134.3V180.2M1521.5 129.6V172.8M1522.5 132.2V178.8M1523.5 130V176.3M1524.5 136V173.5M1525.5 138.8V179M1526.5 137.7V175M1527.5 128.7V170.6M1528.5 137.6V179.9M1529.5 133V171.3M1530.5 135.5V174.8M1531.5 140.6V176.4M1532.5 133.5V172.8M1533.5 137.7V177.2M1534.5 138.5V173.6M1535.5 129.8V179M1536.5 137.8V176.4M1537.5 133.7V173.4M1538.5 138V176M1539.5 137.7V178.6M1540.5 136.5V179.4M1541.5 130.9V172.4M1542.5 132.4V173.7M1543.5 130.3V181.4M1544.5 135.2V179.9M1545.5 131.1V177M1546.5 135.4V177.8M1547.5 133.1V171.4M1548.5 131.3V171.3M1549.5 138.6V178.1M1550.5 136V171.8M1551.5 140.6V174M1552.5 140.3V172.5M1553.5 135.2V183.9M1554.5 134.3V179M1555.5 133.8V181.9M1556.5 138.1V176.1M1557.5 132.9V176.9M1558.5 130.2V176M1559.5 137V173.1M1560.5 132.6V180.7M1561.5 139V179.8M1562.5 132.4V178.2M1563.5 133.9V180.7M1564.5 134.4V183.4M1565.5 132.5V174.6M1566.5 132.9V178.5M1567.5 137.2V176.7M1568.5 137.1V182M1569.5 134.1V174.5M1570.5 136.2V178.4M1571.5 127.8V182.3M1572.5 131.1V177.2M1573.5 127.1V181M1574.5 135.9V185.8M1575.5 129.9V178.4M1576.5 122.8V178.5M1577.5 136.5V192.4M1578.5 125.7V176.4M1579.5 130.1V179M1580.5 128.3V176.7M1581.5 130.3V176.5M1582.5 129V177.1M1583.5 128.5V173.7M1584.5 134.3V189.5M1585.5 128.3V178M1586.5 135.8V179.5M1587.5 134.4V181.4M1588.5 130.6V177.3M1589.5 133.1V179.1M1590.5 132.2V175.1M1591.5 134.7V180.9M1592.5 133.7V180.4M1593.5 129.8V174.9M1594.5 136V174.6M1595.5 135.9V172.6M1596.5 127.3V174.6M1597.5 131.9V179.3M1598.5 128.7V173.8M1599.5 129.7V183.2M1600.5 134.9V176M1601.5 134V178.6M1602.5 129.9V175.1M1603.5 134.4V181.7M1604.5 127.2V175.9M1605.5 134.7V176.4M1606.5 132.6V174.3M1607.5 137.4V175.2M1608.5 131.1V176.5M1609.5 134.2V177.3M1610.5 134.2V177.4M1611.5 136.6V174.3M1612.5 135.3V178.8M1613.5 137.5V173.2M1614.5 131.3V171M1615.5 122.2V170.8M1616.5 128.3V174.5M1617.5 131.9V174.5M1618.5 136.1V175.4M1619.5 134.2V174.1M1620.5 139.3V176.1M1621.5 129.3V172M1622.5 137.8V172.2M1623.5 134.2V174.5M1624.5 137.7V178.7M1625.5 138.2V181.6M1626.5 133V175.1M1627.5 135.4V172.7M1628.5 136.9V175.3M1629.5 133.2V176.2M1630.5 133.9V176.4M1631.5 135.2V174.8M1632.5 136V171.8M1633.5 135.2V182.8M1634.5 134.9V175.3M1635.5 138.9V171.2M1636.5 138.7V171.3M1637.5 130.5V178.1M1638.5 135.9V182.8M1639.5 127.2V177.2M1640.5 123.1V178.3M1641.5 133.5V177.3M1642.5 136.8V178.3M1643.5 129V172.9M1644.5 137.9V176.5M1645.5 124.4V178M1646.5 136.8V171.8M1647.5 132.7V171.3M1648.5 138.6V175.6M1649.5 139.9V170.8M1650.5 135.7V181M1651.5 137.3V172.4M1652.5 137V172.3M1653.5 134.8V175.3M1654.5 137.2V172.9M1655.5 135.4V173.8M1656.5 140.4V174.2M1657.5 137V175.5M1658.5 134.9V170.2M1659.5 134.6V170.9M1660.5 139V176.6M1661.5 137.3V172.9M1662.5 129.8V183.4M1663.5 130.8V172M1664.5 136.2V173.8M1665.5 135.5V173.4M1666.5 126.9V174.6M1667.5 126.3V173.6M1668.5 134.7V173.7M1669.5 134.5V178M1670.5 131.1V175M1671.5 128.2V173.1M1672.5 133V177.2M1673.5 126.8V176.2M1674.5 132.1V177.6M1675.5 133.5V179.9M1676.5 128.4V174.8M1677.5 125.5V174.7M1678.5 138.8V184.2M1679.5 130.5V180.1M1680.5 128.8V182.6M1681.5 133V173.2M1682.5 131.2V176.9M1683.5 133.1V176.8M1684.5 138.1V181.1M1685.5 133.2V177.2M1686.5 123.6V177.4M1687.5 134.5V174.4M1688.5 134V172.9M1689.5 134.2V175.2M1690.5 132.1V171.7M1691.5 124.6V176M1692.5 134.4V175.4M1693.5 128.9V180.4M1694.5 134.7V177.5M1695.5 130.4V181.6M1696.5 131.2V174M1697.5 137.1V172.6M1698.5 130.2V172M1699.5 127.8V176.1M1700.5 121.8V177.8M1701.5 128.8V181.8M1702.5 135.8V179.4M1703.5 135.3V174.5M1704.5 129V181M1705.5 130.7V186.4M1706.5 136.8V176.9M1707.5 126.9V177M1708.5 135.1V177.8M1709.5 138.1V170.8M1710.5 138V173.6M1711.5 131.3V180M1712.5 135V170.3M1713.5 129.7V172.1M1714.5 135.9V173.9M1715.5 129.9V174.3M1716.5 135.8V170M1717.5 137V176.2M1718.5 138.6V170.2M1719.5 135.9V174M1720.5 135.5V172.1M1721.5 140.6V171.1M1722.5 135.9V175.4M1723.5 141.1V175M1724.5 140.1V169.5M1725.5 134.8V170.2M1726.5 138.2V174.7M1727.5 138.7V173.2M1728.5 138.8V177.9M1729.5 137.6V173.3M1730.5 133.8V170M1731.5 136.6V178.7M1732.5 137.7V177M1733.5 137V175.6M1734.5 140.2V171.8M1735.5 131V171.2M1736.5 136V170.8M1737.5 136.2V171.2M1738.5 141.3V171.7M1739.5 134.1V177.9M1740.5 130.8V181.2M1741.5 136.8V176.1M1742.5 137.6V175.3M1743.5 132.6V184.8M1744.5 129.3V170.9M1745.5 137.2V185.5M1746.5 140.5V173.8M1747.5 132.5V174.6M1748.5 133.9V180M1749.5 132.9V173.2M1750.5 135.9V173.4M1751.5 136.8V174M1752.5 141.2V172M1753.5 138.1V174.1M1754.5 137.3V171.7M1755.5 140.9V175.9M1756.5 138V169.5M1757.5 131.7V171.8M1758.5 133.5V174.4M1759.5 133.2V174.6M1760.5 133.7V177.2M1761.5 134.6V178.3M1762.5 133.5V171.9M1763.5 134.6V183.5M1764.5 138.4V171.7M1765.5 139V172.5M1766.5 137.5V174.8M1767.5 128.7V174.5M1768.5 138.4V177.6M1769.5 133.8V176.4M1770.5 129.3V181.3M1771.5 133.6V173.3M1772.5 131.9V171.8M1773.5 134.4V173.6M1774.5 134.4V178.7M1775.5 131.9V173.1M1776.5 130.3V173.1M1777.5 133.2V173.1M1778.5 135.2V171.8M1779.5 135.3V175.3M1780.5 126.3V170.9M1781.5 128.2V171.9M1782.5 131V174.3M1783.5 131.9V175.7M1784.5 137.5V178.6M1785.5 127.1V179.1M1786.5 134V179.3M1787.5 132.6V171.9M1788.5 132.3V175.3M1789.5 135.3V177M1790.5 133.4V175.6M1791.5 123.3V179.8M1792.5 138.3V173M1793.5 137.5V175.8M1794.5 131.2V173.5M1795.5 140.2V180.7M1796.5 137.2V184.2M1797.5 139.1V181.6M1798.5 136.5V176.4M1799.5 138.3V175.2M1800.5 131.6V170.7M1801.5 137.1V171.2M1802.5 138.1V173.7M1803.5 132.5V178.7M1804.5 135.7V171.5M1805.5 137.3V175.3M1806.5 131.2V169.9M1807.5 129V176.1M1808.5 127.4V172.1M1809.5 122V176.7M1810.5 133.8V176M1811.5 129.8V177.8M1812.5 135.6V177.9M1813.5 137.6V177.6M1814.5 130.1V179.7M1815.5 123.8V173.7M1816.5 134.8V176.4M1817.5 128.3V171.6M1818.5 135.4V172.2M1819.5 134.7V174.8M1820.5 133V181.1M1821.5 130V180.9M1822.5 131.3V177.2M1823.5 137.9V177.6M1824.5 137.7V177.8M1825.5 130.9V173.2M1826.5 134.4V177M1827.5 135.8V175.1M1828.5 136V173.9M1829.5 137.1V183.2M1830.5 131V179.9M1831.5 132.6V181.2M1832.5 134.7V176.9M1833.5 132V180.5M1834.5 131V173.9M1835.5 138.4V175M1836.5 138.1V174.5M1837.5 137.9V176.3M1838.5 134.6V173.4M1839.5 135.9V177.6M1840.5 135.4V177.8M1841.5 129.9V173.4M1842.5 137V171.2M1843.5 138.1V179.5M1844.5 139.6V174.2M1845.5 132.4V171.1M1846.5 137.4V172.9M1847.5 134.4V176.5M1848.5 138.8V173.5M1849.5 134.8V175.2M1850.5 136.3V171.3M1851.5 134.2V174.5M1852.5 137.8V172M1853.5 133.7V175.7M1854.5 139.4V182.8M1855.5 136V186.7M1856.5 137.2V182.6M1857.5 138.5V172.2M1858.5 130.7V171.5M1859.5 129.6V176.8M1860.5 134.2V177.7M1861.5 138.9V175.2M1862.5 139V172.8M1863.5 137.5V176.7M1864.5 135.7V176.3M1865.5 135.3V171.2M1866.5 136.6V183.8M1867.5 135.3V180.9M1868.5 136V172.9M1869.5 134.9V171.8M1870.5 132V173.9M1871.5 137.2V172.8M1872.5 141.1V176.5M1873.5 139.2V168.5M1874.5 136.7V170.7M1875.5 139.9V174.9M1876.5 139.5V171.3M1877.5 139.8V171M1878.5 136.8V170M1879.5 137.7V169.7M1880.5 134.7V168.9M1881.5 141.6V171.6M1882.5 139.1V168.6M1883.5 135.6V172.8M1884.5 135.1V173.9M1885.5 135.1V171.6M1886.5 134V170.8M1887.5 136.1V172M1888.5 135.9V168M1889.5 137.9V168.7M1890.5 139.8V175.1M1891.5 137.1V170.6M1892.5 141.4V170.7M1893.5 139V170.9M1894.5 135.8V167.1M1895.5 138.1V170.7M1896.5 135.7V174.4M1897.5 135V174.4M1898.5 139.7V169.2M1899.5 133.9V177.9M1900.5 137.5V170.3M1901.5 136V173M1902.5 134.5V171.8M1903.5 140V172.2M1904.5 135.4V171.3M1905.5 135V170.8M1906.5 136.1V171.6M1907.5 129.7V171.9M1908.5 140.1V169.2M1909.5 136.8V174.8M1910.5 138.3V172.6M1911.5 131.4V172.2M1912.5 138.1V171.5M1913.5 136.4V173.8M1914.5 136.6V169.4M1915.5 140.7V168.5M1916.5 137.4V179M1917.5 135.8V174.2M1918.5 140.3V176.1M1919.5 137.9V171.1M1920.5 140.2V172.7M1921.5 139.3V170M1922.5 135.9V173.1M1923.5 136.6V169.3M1924.5 136.5V174.2M1925.5 135.6V169.1M1926.5 132.5V178.2M1927.5 127.7V180.2M1928.5 135.9V176.4M1929.5 134.1V175.8M1930.5 130.2V172.4M1931.5 139V174.2M1932.5 135.6V175.1M1933.5 138V170.6M1934.5 136.1V173M1935.5 131.2V171.5M1936.5 138.6V173.4M1937.5 132.1V178.3M1938.5 134.6V180.7M1939.5 128.1V177.9M1940.5 136V173.8M1941.5 131.5V174M1942.5 133V175.5M1943.5 140.6V171.7M1944.5 138.3V172.3M1945.5 139.7V174.5M1946.5 139.5V172.6M1947.5 139.5V174.4M1948.5 139.5V176M1949.5 135.4V172.5M1950.5 137.2V173.8M1951.5 134.4V169.2M1952.5 133.2V169.6M1953.5 133.4V174.6M1954.5 140.5V170.9M1955.5 140.8V171.4M1956.5 135.1V175.3M1957.5 138.3V177.6M1958.5 137.6V170.4M1959.5 135.9V174.3M1960.5 140.7V168.8M1961.5 135.7V173.7M1962.5 140.9V169.4M1963.5 139.1V169.4M1964.5 135.4V173.1M1965.5 126V170.5M1966.5 140.5V173.4M1967.5 140.6V174.7M1968.5 137.3V171M1969.5 140.1V169M1970.5 141.8V169.7M1971.5 133.9V174M1972.5 141.8V166.8M1973.5 137.8V172.9M1974.5 138.2V169.4M1975.5 136.1V172.7M1976.5 133.9V171.4M1977.5 142V173.4M1978.5 138.6V176.9M1979.5 139.8V170.6M1980.5 132.9V168.1M1981.5 139.7V174.4M1982.5 139.8V169.1M1983.5 137.7V171.8M1984.5 139.6V173.9M1985.5 138.1V174.9M1986.5 139.6V170.7M1987.5 140.8V167.6M1988.5 141.1V171.4M1989.5 138V170.3M1990.5 137.8V174.5M1991.5 136.3V170.9M1992.5 138.4V178.3" stroke="#0072bd" stroke-width="1" fill="none" opacity="0.55"/>
<path d="M1125.5 117.9V189.1M1126.5 111.3V183.8M1127.5 126.2V180M1128.5 129.5V184.4M1129.5 131.3V179.1M1130.5 118.5V178.9M1131.5 132.4V184M1132.5 129.6V184.2M1133.5 124.6V179.8M1134.5 117.8V183.1M1135.5 126.9V182.8M1136.5 127.1V186.1M1137.5 118.4V189.2M1138.5 120.7V181.8M1139.5 124.4V188.5M1140.5 119.4V182.8M1141.5 115.8V198.5M1142.5 114.7V182.4M1143.5 125.1V184.8M1144.5 129.5V183.2M1145.5 121.9V190.5M1146.5 125.9V193.4M1147.5 128.1V192.3M1148.5 119.2V194.6M1149.5 118.6V188.3M1150.5 122.6V177.6M1151.5 122.3V183.4M1152.5 124.8V187.6M1153.5 109.4V188.1M1154.5 121.2V184.1M1155.5 125V179.6M1156.5 126.6V179.9M1157.5 126.2V182.4M1158.5 124.3V183.6M1159.5 127.8V179.6M1160.5 132.7V180.4M1161.5 132.3V185.5M1162.5 130V178.9M1163.5 121.3V202.9M1164.5 131.4V186.4M1165.5 119.8V201.6M1166.5 119.5V187.1M1167.5 129.7V188.8M1168.5 119.9V185.4M1169.5 125.5V194.7M1170.5 130.9V183.4M1171.5 131.9V182.8M1172.5 124.5V180M1173.5 120.7V183M1174.5 116.6V185.7M1175.5 131.7V178.5M1176.5 120.6V187.8M1177.5 130.4V181.9M1178.5 125.4V180.2M1179.5 115.4V180M1180.5 126.3V185M1181.5 118V183.9M1182.5 116.6V186.4M1183.5 127.6V181.6M1184.5 115.4V181.5M1185.5 110.4V182.4M1186.5 122.5V185.7M1187.5 130V191.9M1188.5 123.3V182M1189.5 129.9V184.5M1190.5 113.5V194M1191.5 114.8V202.1M1192.5 104.5V182M1193.5 118.9V183.9M1194.5 124.2V187.2M1195.5 126.1V182.7M1196.5 121.3V190.6M1197.5 127.8V184.2M1198.5 124.3V186.2M1199.5 122.7V192.7M1200.5 110.5V203M1201.5 111.3V192.3M1202.5 126.5V197.5M1203.5 119.2V183.8M1204.5 116.9V194.9M1205.5 117.2V189M1206.5 124.3V203M1207.5 101.9V182.7M1208.5 125V188.6M1209.5 96.8V181.1M1210.5 123.2V183.7M1211.5 124.9V189.7M1212.5 125.6V186.1M1213.5 119.4V183.5M1214.5 125.6V184.1M1215.5 129V179.8M1216.5 114.9V189.3M1217.5 122.4V185.4M1218.5 114.1V189.6M1219.5 118.7V182.1M1220.5 126.1V185M1221.5 122.6V178.4M1222.5 127.2V180.8M1223.5 125.7V183.9M1224.5 123.7V181.3M1225.5 126.9V187.7M1226.5 124.3V182.2M1227.5 122.2V180.6M1228.5 124.8V176.6M1229.5 129.6V175.9M1230.5 127.6V179M1231.5 123.4V181.3M1232.5 124.6V184.4M1233.5 131.4V180.1M1234.5 132.3V187.3M1235.5 132.1V183.2M1236.5 131.3V183.1M1237.5 131.4V184.9M1238.5 130.4V186M1239.5 128.9V187.1M1240.5 133V181.3M1241.5 124.8V184M1242.5 120.4V193.3M1243.5 130.9V187.8M1244.5 132.1V184.4M1245.5 123.5V183.5M1246.5 127.1V179.4M1247.5 131.6V181.1M1248.5 131.7V184.1M1249.5 127.1V182.6M1250.5 127.7V178.5M1251.5 121.7V180.2M1252.5 129.9V183.9M1253.5 133V176.2M1254.5 130.3V184.8M1255.5 133.3V177.3M1256.5 130.9V180M1257.5 131.3V176.5M1258.5 130.1V187.7M1259.5 126.4V174.7M1260.5 133.2V181.7M1261.5 121.2V185M1262.5 130.7V178.7M1263.5 131V179M1264.5 128V177.8M1265.5 123.2V187.8M1266.5 129.9V176.3M1267.5 118V179M1268.5 130.5V185.6M1269.5 130.3V183M1270.5 116.8V183.8M1271.5 132.2V180.6M1272.5 129.6V195M1273.5 123.5V183.7M1274.5 124.4V179.6M1275.5 130V181.7M1276.5 109.6V194.2M1277.5 119.4V180M1278.5 127.3V176.3M1279.5 132V177.6M1280.5 131.6V177.9M1281.5 122.4V178.8M1282.5 125.9V178.2M1283.5 118V186.1M1284.5 123.6V179.7M1285.5 131.5V184.7M1286.5 132.4V186.3M1287.5 122.3V188.3M1288.5 120.1V178.5M1289.5 132.5V186.1M1290.5 124.4V185.7M1291.5 129.2V178.2M1292.5 121.2V185.4M1293.5 114.4V186.5M1294.5 128.8V185.4M1295.5 123.4V184.4M1296.5 129.1V192.9M1297.5 109.9V187.3M1298.5 120.5V199.7M1299.5 124.4V190M1300.5 111.3V180.2M1301.5 128.7V197.7M1302.5 126.6V189.9M1303.5 120.3V180.7M1304.5 122.3V183M1305.5 129V182.7M1306.5 116.5V193.6M1307.5 124.3V182.3M1308.5 127V193.4M1309.5 125.4V191M1310.5 124V179.7M1311.5 128.9V194.6M1312.5 112.3V193.4M1313.5 122V188.5M1314.5 126.5V183.4M1315.5 131.3V179.3M1316.5 134.5V183.2M1317.5 130.6V174.9M1318.5 130V174.1M1319.5 128.1V178M1320.5 122.6V193.5M1321.5 132.9V177.4M1322.5 133.8V174.9M1323.5 135.5V186.5M1324.5 127.6V184M1325.5 131.2V177.9M1326.5 127.2V174.7M1327.5 134.4V186M1328.5 134.7V175.7M1329.5 133.5V176.3M1330.5 132.7V180M1331.5 131.5V176.4M1332.5 134.9V191.2M1333.5 125.2V187.2M1334.5 125.9V181.9M1335.5 133.3V175.9M1336.5 124.1V179M1337.5 129.8V183M1338.5 125.1V179.2M1339.5 133V179.2M1340.5 118.8V184.5M1341.5 131.2V188.7M1342.5 116.4V176.7M1343.5 125.8V176.5M1344.5 124.5V189.4M1345.5 128.4V180.5M1346.5 133.3V188.9M1347.5 123.4V186.7M1348.5 127V198.9M1349.5 121.3V180.1M1350.5 134.3V178M1351.5 134.6V176.8M1352.5 135.2V177.5M1353.5 133.8V187.6M1354.5 131.8V183.9M1355.5 125.3V188.6M1356.5 135.1V179.9M1357.5 130.5V178.6M1358.5 120V175.3M1359.5 126.9V183.5M1360.5 124.4V176.7M1361.5 128.6V178.9M1362.5 134V181.9M1363.5 131.4V178.4M1364.5 129.2V187.8M1365.5 126.6V188.3M1366.5 122.6V186.7M1367.5 120.7V178.2M1368.5 131V175.4M1369.5 135.8V174.6M1370.5 135.7V174.8M1371.5 133.4V177.9M1372.5 134.1V184.7M1373.5 133.2V176.7M1374.5 123.7V180.5M1375.5 129.6V174.7M1376.5 127.4V174.7M1377.5 134.5V173.9M1378.5 133.4V173.8M1379.5 121.1V177.1M1380.5 130V176.5M1381.5 132.4V174.6M1382.5 131.1V174.7M1383.5 136.3V174.3M1384.5 130.9V184.1M1385.5 127.4V174.6M1386.5 135.3V175.4M1387.5 134.2V181.9M1388.5 117.8V178.1M1389.5 131.6V184.6M1390.5 133.6V177.9M1391.5 130.6V173.1M1392.5 124.1V173.5M1393.5 128.8V174.8M1394.5 133.4V174.2M1395.5 134.4V181.3M1396.5 136.5V178.4M1397.5 135.7V179.6M1398.5 130.3V179.7M1399.5 127.1V182.9M1400.5 132.6V175.9M1401.5 136.1V172.6M1402.5 128.2V186.1M1403.5 127.9V174.8M1404.5 132.5V176.9M1405.5 128.8V175M1406.5 135.3V178M1407.5 138.5V177.6M1408.5 137.7V182M1409.5 133.4V187M1410.5 136.2V175.4M1411.5 133.8V173.5M1412.5 137V176.5M1413.5 133.1V174.7M1414.5 133.7V179M1415.5 126.5V180.6M1416.5 137.5V180.1M1417.5 136.6V174.2M1418.5 127.3V181.9M1419.5 138.2V172.6M1420.5 136.7V173.6M1421.5 127.4V175.8M1422.5 127.2V186M1423.5 129.7V175.2M1424.5 125V172.6M1425.5 135.7V181.6M1426.5 133.4V178.9M1427.5 135.1V179.4M1428.5 128.3V174.7M1429.5 136.2V178.1M1430.5 134.7V173.6M1431.5 128.7V173.2M1432.5 133.5V177.9M1433.5 131.2V177.6M1434.5 130.8V175.8M1435.5 131.7V190.6M1436.5 125.1V176.4M1437.5 130.4V172.9M1438.5 137.7V186.6M1439.5 133.1V181.3M1440.5 126.9V181.6M1441.5 133.6V178.7M1442.5 133V180.2M1443.5 137.5V175.6M1444.5 130.1V174.2M1445.5 136.5V177.5M1446.5 135.3V172.2M1447.5 136.9V174.6M1448.5 133.3V184.3M1449.5 136.9V177.4M1450.5 130.9V177.8M1451.5 138.3V184.8M1452.5 134.9V175.8M1453.5 138V172.5M1454.5 138.5V175.6M1455.5 136.2V172.1M1456.5 133.2V176.6M1457.5 135.1V179.4M1458.5 137.4V173.7M1459.5 133.7V172.8M1460.5 136.1V173.6M1461.5 135.8V174.4M1462.5 126.1V183.4M1463.5 137.3V178M1464.5 137.7V179.3M1465.5 137.3V178.4M1466.5 133.2V172.6M1467.5 135.7V179.2M1468.5 128.9V179.7M1469.5 137.6V173.4M1470.5 127.6V175.2M1471.5 131V178.8M1472.5 134.3V182.3M1473.5 131.7V175.9M1474.5 127V183.1M1475.5 128.9V179.8M1476.5 135.1V178.4M1477.5 134V177.6M1478.5 137.6V174.7M1479.5 134.2V179.6M1480.5 136.1V179M1481.5 138.1V172.5M1482.5 135V173M1483.5 138.4V177.8M1484.5 137.4V174.2M1485.5 137.1V171.4M1486.5 135.5V178.1M1487.5 136.8V171.9M1488.5 133.6V177.4M1489.5 128.1V178.9M1490.5 130.3V182.6M1491.5 133.2V176.3M1492.5 136V174.4M1493.5 131.2V175.2M1494.5 135.9V176.7M1495.5 135.2V184.9M1496.5 132.6V180M1497.5 135.7V174.6M1498.5 129.6V184.5M1499.5 124.3V178.9M1500.5 130.9V180.1M1501.5 121.3V186.1M1502.5 122.9V173.2M1503.5 130.9V175.6M1504.5 134.8V174.5M1505.5 133.2V175.5M1506.5 137.8V178M1507.5 133.9V172.7M1508.5 134.8V181.9M1509.5 132.8V176.7M1510.5 130.5V180.4M1511.5 138.8V180.4M1512.5 133.1V174.8M1513.5 133V177.9M1514.5 136.5V175M1515.5 139.5V180.9M1516.5 135.6V178.9M1517.5 140.2V174.8M1518.5 138.7V172.3M1519.5 133.7V175M1520.5 135.8V174.4M1521.5 137V171.5M1522.5 133.7V177.7M1523.5 132.7V173.7M1524.5 138.5V170.2M1525.5 140.1V175.8M1526.5 139.1V172.7M1527.5 133.5V169.3M1528.5 141V175.4M1529.5 135.6V170.1M1530.5 138V173.4M1531.5 141.7V174.3M1532.5 135.5V171.8M1533.5 141.6V175.6M1534.5 139.7V170.7M1535.5 131.1V177.2M1536.5 141.5V170.5M1537.5 137.6V170.8M1538.5 140.8V170.7M1539.5 142V176.6M1540.5 139V176.4M1541.5 133.2V170.8M1542.5 135.1V170.5M1543.5 134.6V174M1544.5 139.2V177.7M1545.5 135.1V174.3M1546.5 138.4V173.5M1547.5 137.4V170M1548.5 133.3V169.8M1549.5 139.7V177M1550.5 140.2V170.6M1551.5 141.9V172.2M1552.5 141.3V170.2M1553.5 137.7V176.1M1554.5 136.6V176.6M1555.5 136.6V178.9M1556.5 139.9V174M1557.5 135.5V175.4M1558.5 136.6V173.6M1559.5 139.1V171.6M1560.5 134.5V171.6M1561.5 140.1V176.4M1562.5 136.7V175.9M1563.5 135.5V177M1564.5 137.8V175.8M1565.5 137V170.7M1566.5 136.2V173.7M1567.5 138.7V171.3M1568.5 138.9V179.3M1569.5 136.1V172.9M1570.5 137.8V173.4M1571.5 136V175.8M1572.5 138.2V173.6M1573.5 136.8V173.8M1574.5 137.3V179.4M1575.5 133.3V174.4M1576.5 124.4V175M1577.5 137.9V183M1578.5 134.4V172.5M1579.5 136.2V175.5M1580.5 131.8V172.9M1581.5 135.7V172M1582.5 136.3V173M1583.5 132.7V171.1M1584.5 137.9V180.8M1585.5 132.1V174.9M1586.5 139.5V176M1587.5 138.8V174.2M1588.5 131.9V171.3M1589.5 137.2V177M1590.5 134.9V173.2M1591.5 136.2V176.6M1592.5 135V179.1M1593.5 136.3V172.2M1594.5 139.7V170.3M1595.5 140.2V170.8M1596.5 130.9V170.8M1597.5 134.3V171.8M1598.5 131.4V171.7M1599.5 131V176.3M1600.5 138.6V173.5M1601.5 139.3V173.5M1602.5 136.3V173.1M1603.5 138.4V179.4M1604.5 132.3V173.4M1605.5 138.5V174.5M1606.5 137.7V171.9M1607.5 138.6V170.6M1608.5 132.7V171.8M1609.5 138.7V170.9M1610.5 137V172.2M1611.5 137.9V169.6M1612.5 137V175.1M1613.5 138.8V170.5M1614.5 133V170M1615.5 130.3V169.9M1616.5 131.3V172.5M1617.5 136.5V171M1618.5 138.4V170.1M1619.5 140.2V171.3M1620.5 141.3V172.8M1621.5 134.9V169.3M1622.5 140.9V171M1623.5 138.6V170.6M1624.5 138.9V176.2M1625.5 141V178M1626.5 134.2V173.9M1627.5 138V170.5M1628.5 138.7V170.7M1629.5 139V173.1M1630.5 136.9V170.7M1631.5 136.5V170.3M1632.5 138.3V170.4M1633.5 140.4V180.5M1634.5 140V171.1M1635.5 140.8V170M1636.5 140V168.4M1637.5 137.5V176.6M1638.5 141.3V172.1M1639.5 134.3V168.9M1640.5 130.2V175.3M1641.5 139.9V173.1M1642.5 138.4V174.5M1643.5 135V171M1644.5 140.5V174.7M1645.5 127.3V174.4M1646.5 139.9V168.8M1647.5 137.2V170.2M1648.5 141.2V171.2M1649.5 141.1V168.5M1650.5 137.6V175.5M1651.5 139.4V169.3M1652.5 141V168.3M1653.5 138.7V173.2M1654.5 139.5V170.9M1655.5 136.9V168.7M1656.5 142.2V170.3M1657.5 142.2V172.1M1658.5 139.1V169.1M1659.5 138.4V169.9M1660.5 141.1V173.2M1661.5 140.4V171.4M1662.5 136.8V179.8M1663.5 134.1V170.5M1664.5 137.8V170.7M1665.5 139.3V171.3M1666.5 130.4V170.1M1667.5 130.6V172.2M1668.5 140.4V169.6M1669.5 136.8V176.1M1670.5 134V170.4M1671.5 133.2V170.7M1672.5 134.3V171.6M1673.5 127.8V173M1674.5 136.7V174.7M1675.5 136.5V177.2M1676.5 130.8V172.7M1677.5 128.8V171.6M1678.5 140.4V180.1M1679.5 134.6V174.8M1680.5 130.2V174.9M1681.5 137.4V170.1M1682.5 135V170.3M1683.5 138.2V174.9M1684.5 139.6V177.3M1685.5 137.8V174.2M1686.5 128.7V174.1M1687.5 138.8V172.2M1688.5 136.3V169.7M1689.5 137V171.1M1690.5 139.5V170.6M1691.5 128.8V174.5M1692.5 135.9V174.1M1693.5 131.3V178.8M1694.5 136.4V171.3M1695.5 135.3V175.5M1696.5 133.3V170.6M1697.5 138.7V170.8M1698.5 138.3V170.2M1699.5 133.8V171.3M1700.5 126.6V172.8M1701.5 130.6V178.6M1702.5 137.5V174.8M1703.5 138.5V171.2M1704.5 133.8V175.1M1705.5 136.7V176.2M1706.5 138.7V174.9M1707.5 130.8V175M1708.5 136.1V174.2M1709.5 139.2V168.9M1710.5 139.9V170.9M1711.5 137.2V173.5M1712.5 138.8V169.3M1713.5 131.6V169.3M1714.5 137.8V172.9M1715.5 135V168.5M1716.5 138.1V168M1717.5 138.4V170.4M1718.5 141.6V168M1719.5 137.3V169.3M1720.5 138.8V170.8M1721.5 141.7V167.6M1722.5 140.9V172.6M1723.5 142.3V168.9M1724.5 142.7V167.3M1725.5 136.1V169M1726.5 142.3V168.9M1727.5 141.6V172.3M1728.5 141.6V176.5M1729.5 140.6V169.7M1730.5 138.8V167.3M1731.5 138.8V173.2M1732.5 139.5V174.3M1733.5 141.6V171.1M1734.5 141.1V169M1735.5 134.1V167.8M1736.5 141.5V168.7M1737.5 139.2V169.1M1738.5 142.2V168.6M1739.5 136.5V174.5M1740.5 135.3V175.6M1741.5 140.5V174M1742.5 138.8V172.6M1743.5 134.8V176.8M1744.5 136.7V168.3M1745.5 140.8V181.8M1746.5 142.2V172.1M1747.5 139.4V171.5M1748.5 134.8V177.2M1749.5 135.9V170.6M1750.5 138.8V172.5M1751.5 139.5V169.7M1752.5 142.2V168.1M1753.5 139V171.3M1754.5 141.1V167.3M1755.5 142.9V168.4M1756.5 140.7V167.8M1757.5 133.6V167.8M1758.5 137.7V171.4M1759.5 140.8V172.4M1760.5 140.6V173.4M1761.5 135.7V172.1M1762.5 137.7V169.6M1763.5 140.7V180M1764.5 140.3V170.2M1765.5 140.9V169M1766.5 138.5V171.4M1767.5 130.2V168.7M1768.5 141.2V172.1M1769.5 138.7V172.3M1770.5 136.6V178.8M1771.5 138.2V171.2M1772.5 135.5V169.8M1773.5 136.1V171.5M1774.5 135.7V174.5M1775.5 135.2V169.1M1776.5 133.5V170.3M1777.5 134.7V168.6M1778.5 137.6V167.5M1779.5 136.2V173.6M1780.5 132.5V169M1781.5 135.5V170.4M1782.5 136.2V173.3M1783.5 139.3V171.4M1784.5 141.5V175.6M1785.5 129.2V175.8M1786.5 136.1V175M1787.5 137.6V170.1M1788.5 138.7V170.6M1789.5 138.5V173.2M1790.5 137.3V171.7M1791.5 131.7V174.6M1792.5 139.3V168.9M1793.5 141.4V173M1794.5 138.2V170M1795.5 142V178.3M1796.5 140.4V180.4M1797.5 142.2V177.3M1798.5 137.7V172.7M1799.5 139.7V173.7M1800.5 137V169.4M1801.5 140.3V168.2M1802.5 139.1V172.3M1803.5 138.3V174.3M1804.5 138.5V170.3M1805.5 141.2V172.4M1806.5 136.9V168.6M1807.5 133.6V173.6M1808.5 134.8V170.9M1809.5 125.9V173.8M1810.5 136.7V172.4M1811.5 133.4V176.3M1812.5 136.6V173.6M1813.5 139.2V174M1814.5 135.3V172.4M1815.5 124.9V171.8M1816.5 137.4V171M1817.5 134.3V168.8M1818.5 136.7V168.8M1819.5 137.1V172.4M1820.5 135.3V173.4M1821.5 134.3V175.5M1822.5 132.3V175.4M1823.5 139.4V173.6M1824.5 139.9V175.4M1825.5 133V170.8M1826.5 137.2V170.8M1827.5 137.1V171.2M1828.5 138.4V172.6M1829.5 139.2V181.2M1830.5 135V177.6M1831.5 134V178.8M1832.5 140.3V173.1M1833.5 134.9V175.3M1834.5 134.4V171.4M1835.5 140.6V168.8M1836.5 140.9V172.6M1837.5 141.6V175.3M1838.5 136.4V169.4M1839.5 140.1V171.2M1840.5 137.2V174.6M1841.5 141.8V170.8M1842.5 139.9V170.2M1843.5 139.4V175.5M1844.5 141.6V172.7M1845.5 136.4V170.1M1846.5 138.6V171.3M1847.5 137V175.2M1848.5 141.2V172.5M1849.5 137.7V169.4M1850.5 140.5V169.2M1851.5 137.9V171M1852.5 139.7V170.8M1853.5 136.1V168.7M1854.5 140.8V176.1M1855.5 137.7V177M1856.5 138.3V175.9M1857.5 140.1V169.4M1858.5 135V169.8M1859.5 132.3V175.6M1860.5 136.5V172.2M1861.5 141.1V174.2M1862.5 141.7V171.2M1863.5 140.1V175.1M1864.5 136.7V173M1865.5 138.9V169.8M1866.5 139.4V177.3M1867.5 140.8V177.3M1868.5 138.2V169M1869.5 141.2V169.6M1870.5 135.6V168.6M1871.5 142.1V168.1M1872.5 142.9V173.2M1873.5 142.6V166.8M1874.5 139.8V168.7M1875.5 141.5V172.4M1876.5 140.5V167.8M1877.5 142V167.5M1878.5 139.8V168.5M1879.5 139.9V168.6M1880.5 137.2V168.1M1881.5 143V168.7M1882.5 139.9V166.9M1883.5 139.2V167.4M1884.5 136.9V169.2M1885.5 138.5V168M1886.5 137V169M1887.5 137V167.3M1888.5 137.6V167M1889.5 143.1V167.4M1890.5 140.8V172.3M1891.5 138V166.7M1892.5 143.1V167.8M1893.5 141.1V168.3M1894.5 137.7V166.3M1895.5 139.5V169.7M1896.5 138.8V173.1M1897.5 136.5V172.1M1898.5 142V168.4M1899.5 138.4V174.3M1900.5 138.3V168.4M1901.5 139.8V171.9M1902.5 141.6V169.7M1903.5 140.9V171M1904.5 138.2V169M1905.5 139V168.4M1906.5 138.6V169M1907.5 134V170.3M1908.5 142.4V167.7M1909.5 138.8V168.7M1910.5 141.3V168.1M1911.5 136.2V171.3M1912.5 141.7V169.5M1913.5 139V171.9M1914.5 139.4V167.3M1915.5 143.3V166.9M1916.5 139.4V171.1M1917.5 141.5V172M1918.5 142.7V172.4M1919.5 139.5V168.1M1920.5 141.3V171.6M1921.5 141.7V167.6M1922.5 138.7V171.3M1923.5 138.8V167M1924.5 137.8V170.6M1925.5 138.3V167.7M1926.5 137.3V176.1M1927.5 131.7V175.3M1928.5 137.9V173.9M1929.5 135.2V173.6M1930.5 132.5V169.2M1931.5 142V172.9M1932.5 138.6V174M1933.5 139.5V169.4M1934.5 140.9V172.1M1935.5 133V167.7M1936.5 140.2V168.9M1937.5 136.2V173.1M1938.5 140.2V174.4M1939.5 133.1V174.7M1940.5 140.9V170.2M1941.5 133.7V172.3M1942.5 134.7V169.2M1943.5 142.2V169.2M1944.5 141.8V170.5M1945.5 142V172.8M1946.5 142.4V170.9M1947.5 140.4V170.4M1948.5 142.8V172.9M1949.5 137.5V168.9M1950.5 139.5V170.4M1951.5 138.4V167.7M1952.5 136.6V167.2M1953.5 135.9V169.9M1954.5 142.4V168.9M1955.5 143V167.8M1956.5 137.3V170.5M1957.5 139.8V175.2M1958.5 140V168.4M1959.5 137.2V170.2M1960.5 142.4V166.9M1961.5 139.6V172.7M1962.5 142.8V168.3M1963.5 141.2V167.2M1964.5 140.9V171.8M1965.5 133.7V169.2M1966.5 143.2V168M1967.5 143.2V171.5M1968.5 138.8V168.6M1969.5 142.5V165.5M1970.5 142.6V167.1M1971.5 137V171.5M1972.5 143.6V165.6M1973.5 141.2V167.8M1974.5 140V166.8M1975.5 137V171.7M1976.5 136.3V168.1M1977.5 144V169.3M1978.5 139.7V172.5M1979.5 141V169.2M1980.5 138.4V167.2M1981.5 141.6V168.3M1982.5 141.9V167.6M1983.5 143V169.9M1984.5 140.8V172.6M1985.5 139.8V170.6M1986.5 140.4V169.9M1987.5 142.3V166.4M1988.5 142.2V169.7M1989.5 139.3V169.1M1990.5 141.1V171.3M1991.5 139.2V166.4M1992.5 140.9V175.4" stroke="#0072bd" stroke-width="1.4" fill="none"/>
</g>
<path d="M1125.2 340.5H1280.2v-9.5 h5.5v-9.5 h5.5v-9.5 h5.5v-9.5 h5.5v-9.5 h5.5H1480.9v-9.3 h5.4v-9.3 h5.4v-9.3 h5.4v-9.3 h5.4v-9.3 h5.4H1679.5v-9.4 h5.4v-9.4 h5.4v-9.4 h5.4v-9.4 h5.4v-9.4 h5.4H1863.6v-9.4 h5.8v-9.4 h5.8v-9.4 h5.8v-9.4 h5.8v-9.4 h5.8H1994" stroke="#d95319" stroke-width="2.4" fill="none" stroke-linejoin="round"/>
<path d="M1125.2 59.4L1994 59.4" stroke="#b0b0b0" stroke-width="1.6"/>
<path d="M1125.2 341L1994 341" stroke="#b0b0b0" stroke-width="1.6"/>
<path d="M1125.2 59.4L1125.2 341" stroke="#9cc6e6" stroke-width="1.4"/>
<path d="M1994 59.4L1994 341" stroke="#f0bda8" stroke-width="1.4"/>
<path d="M1229.2 341v-9M1333.2 341v-9M1437.2 341v-9M1541.2 341v-9M1645.2 341v-9M1749.2 341v-9M1853.2 341v-9M1957.2 341v-9" stroke="#b0b0b0" stroke-width="1.4" fill="none"/>
<path d="M1229.2 59.4v9M1333.2 59.4v9M1437.2 59.4v9M1541.2 59.4v9M1645.2 59.4v9M1749.2 59.4v9M1853.2 59.4v9M1957.2 59.4v9" stroke="#b0b0b0" stroke-width="1.4" fill="none"/>
<path d="M1125.2 246.6h8" stroke="#9cc6e6" stroke-width="1.2" fill="none"/>
<path d="M1994 106.4h-8M1994 153.4h-8M1994 200.4h-8M1994 247.4h-8M1994 294.4h-8" stroke="#f0bda8" stroke-width="1.2" fill="none"/>
<text x="1111" y="72.4" font-size="22.5" text-anchor="end">50</text>
<text x="1115.4" y="164.4" font-size="22.5" text-anchor="end">0</text>
<text x="1115.4" y="347.1" font-size="22.5" text-anchor="end">-100</text>
<text transform="translate(1085.1 205.7) rotate(-90)" font-size="26" text-anchor="middle" textLength="193" lengthAdjust="spacingAndGlyphs">Amplitude [µVp]</text>
<text x="1130.4" y="366.2" font-size="22.5" text-anchor="middle">0</text>
<text x="1221.4" y="366.2" font-size="22.5" text-anchor="middle">50</text>
<text x="1325.7" y="366.2" font-size="22.5" text-anchor="middle">100</text>
<text x="1436.2" y="366.2" font-size="22.5" text-anchor="middle">150</text>
<text x="1541" y="366.2" font-size="22.5" text-anchor="middle">200</text>
<text x="1641.5" y="366.2" font-size="22.5" text-anchor="middle">250</text>
<text x="1745.3" y="366.2" font-size="22.5" text-anchor="middle">300</text>
<text x="1847.8" y="366.2" font-size="22.5" text-anchor="middle">350</text>
<text x="1958.3" y="366.2" font-size="22.5" text-anchor="middle">400</text>
<text x="1556" y="393" font-size="26" text-anchor="middle" textLength="93.5" lengthAdjust="spacingAndGlyphs">Time [s]</text>
<text x="2000.6" y="72.4" font-size="22.5">3</text>
<text x="1999" y="352.4" font-size="22.5">0</text>
<text transform="translate(2031.3 199.4) rotate(-90)" font-size="26" text-anchor="middle" textLength="186" lengthAdjust="spacingAndGlyphs">Amplitude [mA]</text>
<text x="1570.1" y="435.2" font-size="28.8" text-anchor="middle" textLength="289" lengthAdjust="spacingAndGlyphs">Streaming: scalogram</text>
<g filter="url(#fb20)"><use href="#bb2"/></g>
<g mask="url(#mb21)"><g filter="url(#fb21)"><use href="#bb2"/></g></g>
<rect x="1275.3" y="557.5" width="1.8" height="65" fill="url(#ab3)"/><rect x="1279.2" y="497.5" width="1.8" height="125" fill="url(#ab3)"/><rect x="1283.2" y="527.5" width="1.8" height="95" fill="url(#ab3)"/><rect x="1287.1" y="512.5" width="1.8" height="110" fill="url(#ab3)"/><rect x="1290.8" y="562.5" width="1.8" height="60" fill="url(#ab3)"/><g filter="url(#sb3)"><rect x="1272.2" y="609.5" width="23" height="40" rx="4" fill="url(#ab1)"/><rect x="1266.7" y="649.5" width="34" height="30" rx="9" fill="url(#ab2)"/><ellipse cx="1283.7" cy="652.5" rx="11" ry="3" fill="#200000" opacity="0.55"/></g>
<rect x="1468.6" y="557.5" width="1.8" height="65" fill="url(#ab3)"/><rect x="1472.5" y="497.5" width="1.8" height="125" fill="url(#ab3)"/><rect x="1476.5" y="527.5" width="1.8" height="95" fill="url(#ab3)"/><rect x="1480.4" y="512.5" width="1.8" height="110" fill="url(#ab3)"/><rect x="1484.1" y="562.5" width="1.8" height="60" fill="url(#ab3)"/><g filter="url(#sb3)"><rect x="1465.5" y="609.5" width="23" height="40" rx="4" fill="url(#ab1)"/><rect x="1460" y="649.5" width="34" height="30" rx="9" fill="url(#ab2)"/><ellipse cx="1477" cy="652.5" rx="11" ry="3" fill="#200000" opacity="0.55"/></g>
<rect x="1659.6" y="557.5" width="1.8" height="65" fill="url(#ab3)"/><rect x="1663.5" y="497.5" width="1.8" height="125" fill="url(#ab3)"/><rect x="1667.5" y="527.5" width="1.8" height="95" fill="url(#ab3)"/><rect x="1671.4" y="512.5" width="1.8" height="110" fill="url(#ab3)"/><rect x="1675.1" y="562.5" width="1.8" height="60" fill="url(#ab3)"/><g filter="url(#sb3)"><rect x="1656.5" y="609.5" width="23" height="40" rx="4" fill="url(#ab1)"/><rect x="1651" y="649.5" width="34" height="30" rx="9" fill="url(#ab2)"/><ellipse cx="1668" cy="652.5" rx="11" ry="3" fill="#200000" opacity="0.55"/></g>
<rect x="1837.6" y="557.5" width="1.8" height="65" fill="url(#ab3)"/><rect x="1841.5" y="497.5" width="1.8" height="125" fill="url(#ab3)"/><rect x="1845.5" y="527.5" width="1.8" height="95" fill="url(#ab3)"/><rect x="1849.4" y="512.5" width="1.8" height="110" fill="url(#ab3)"/><rect x="1853.1" y="562.5" width="1.8" height="60" fill="url(#ab3)"/><g filter="url(#sb3)"><rect x="1834.5" y="609.5" width="23" height="40" rx="4" fill="url(#ab1)"/><rect x="1829" y="649.5" width="34" height="30" rx="9" fill="url(#ab2)"/><ellipse cx="1846" cy="652.5" rx="11" ry="3" fill="#200000" opacity="0.55"/></g>
<rect x="1971.4" y="450.5" width="24.7" height="276.8" fill="url(#cbb2)"/>
<rect x="1971.4" y="450.5" width="24.7" height="276.8" fill="none" stroke="#c8c8c8" stroke-width="1"/>
<text x="1113.6" y="474.8" font-size="22.5" text-anchor="end">92</text>
<text x="1113.6" y="503.2" font-size="22.5" text-anchor="end">35</text>
<text x="1113.6" y="536.5" font-size="22.5" text-anchor="end">13</text>
<text x="1113.6" y="614.1" font-size="22.5" text-anchor="end">1</text>
<text x="1115.4" y="720.8" font-size="22.5" text-anchor="end">0.1</text>
<text transform="translate(1070.7 594.4) rotate(-90)" font-size="26" text-anchor="middle" textLength="174.8" lengthAdjust="spacingAndGlyphs">Frequency [Hz]</text>
<text x="1123.8" y="751.5" font-size="22.5" text-anchor="middle">0</text>
<text x="1214.8" y="751.5" font-size="22.5" text-anchor="middle">50</text>
<text x="1319.2" y="751.5" font-size="22.5" text-anchor="middle">100</text>
<text x="1429.6" y="751.5" font-size="22.5" text-anchor="middle">150</text>
<text x="1534.7" y="751.5" font-size="22.5" text-anchor="middle">200</text>
<text x="1635.2" y="751.5" font-size="22.5" text-anchor="middle">250</text>
<text x="1739.5" y="751.5" font-size="22.5" text-anchor="middle">300</text>
<text x="1842" y="751.5" font-size="22.5" text-anchor="middle">350</text>
<text x="1951.7" y="751.5" font-size="22.5" text-anchor="middle">400</text>
<text x="1577" y="779" font-size="26" text-anchor="middle" textLength="93.5" lengthAdjust="spacingAndGlyphs">Time [s]</text>
<text x="2016.9" y="478.9" font-size="22.5" textLength="42" lengthAdjust="spacingAndGlyphs">max</text>
<text x="2016.3" y="727" font-size="22.5">0</text>
<text transform="translate(2036.5 604) rotate(-90)" font-size="26" text-anchor="middle" textLength="84.5" lengthAdjust="spacingAndGlyphs">[dB/Hz]</text>
<text x="11.5" y="842" font-size="62" textLength="28" lengthAdjust="spacingAndGlyphs">c</text>
<text x="500.4" y="857" font-size="28.8" text-anchor="middle" textLength="437" lengthAdjust="spacingAndGlyphs">Scalogram: two frequency peaks</text>
<g filter="url(#fc0)"><use href="#bc"/></g>
<g mask="url(#mc1)"><g filter="url(#fc1)"><use href="#bc"/></g></g>
<rect x="952.4" y="870.2" width="25.6" height="244.5" fill="url(#cbc)"/>
<rect x="952.4" y="870.2" width="25.6" height="244.5" fill="none" stroke="#c8c8c8" stroke-width="1"/>
<text x="59.1" y="889.2" font-size="22.5" text-anchor="end">92</text>
<text x="59.1" y="911.5" font-size="22.5" text-anchor="end">35</text>
<text x="59.1" y="949.5" font-size="22.5" text-anchor="end">13</text>
<text x="55.2" y="1041.3" font-size="22.5" text-anchor="end">1</text>
<text x="55.2" y="1126.2" font-size="22.5" text-anchor="end">0.1</text>
<text transform="translate(22.3 1006.2) rotate(-90)" font-size="26" text-anchor="middle" textLength="174.8" lengthAdjust="spacingAndGlyphs">Frequency [Hz]</text>
<text x="71.5" y="1148.8" font-size="22.5" text-anchor="middle">0</text>
<text x="933.2" y="1148.8" font-size="22.5" text-anchor="middle">300</text>
<text x="537.7" y="1150.1" font-size="26" text-anchor="middle" textLength="93.5" lengthAdjust="spacingAndGlyphs">Time [s]</text>
<text x="987.1" y="897.8" font-size="22.5" textLength="42" lengthAdjust="spacingAndGlyphs">max</text>
<text x="983.2" y="1117.3" font-size="22.5">0</text>
<text transform="translate(1006.8 997.7) rotate(-90)" font-size="26" text-anchor="middle" textLength="84.5" lengthAdjust="spacingAndGlyphs">[dB/Hz]</text>
<text x="11.5" y="1216" font-size="63">d</text>
<text x="77" y="1216.8" font-size="28.8" textLength="179.3" lengthAdjust="spacingAndGlyphs">Spectrogram:</text>
<text x="268.7" y="1216.8" font-size="25.5" textLength="141" lengthAdjust="spacingAndGlyphs">ECG artifact</text>
<g filter="url(#fd10)"><use href="#bd1"/></g>
<clipPath id="cpd1"><rect x="60.5" y="1235.2" width="378.5" height="252.8"/></clipPath>
<g clip-path="url(#cpd1)"><rect x="163" y="1241" width="288" height="10.5" rx="5.2" fill="url(#gd1b)" filter="url(#sb2)"/></g>
<rect x="450.3" y="1235" width="20.8" height="254" fill="url(#cbd1)"/>
<text x="55.2" y="1258.2" font-size="22.5" text-anchor="end">120</text>
<text x="44.7" y="1496" font-size="22.5" text-anchor="end">0</text>
<text transform="translate(21.7 1365.9) rotate(-90)" font-size="26" text-anchor="middle" textLength="176" lengthAdjust="spacingAndGlyphs">Frequency [Hz]</text>
<text x="65.2" y="1512.3" font-size="22.5" text-anchor="middle">0</text>
<text x="418.5" y="1512.3" font-size="22.5" text-anchor="middle">350</text>
<text x="251.8" y="1521" font-size="26" text-anchor="middle" textLength="93.5" lengthAdjust="spacingAndGlyphs">Time [s]</text>
<text x="477.1" y="1252.8" font-size="22.5">10</text>
<text x="475.8" y="1488" font-size="22.5">-40</text>
<text transform="translate(494.1 1353.3) rotate(-90)" font-size="26" text-anchor="middle" textLength="85.4" lengthAdjust="spacingAndGlyphs">[dB/Hz]</text>
<text x="78.9" y="1560.7" font-size="28.8" textLength="180" lengthAdjust="spacingAndGlyphs">Spectrogram:</text>
<text x="270.8" y="1560.7" font-size="25.5" textLength="147.2" lengthAdjust="spacingAndGlyphs">ECG cleaned</text>
<g filter="url(#fd20)"><use href="#bd2"/></g>
<clipPath id="cpd2"><rect x="60" y="1581.8" width="381.6" height="251"/></clipPath>
<g clip-path="url(#cpd2)"><rect x="162" y="1585.5" width="291.6" height="11" rx="5.5" fill="url(#gd2b)" filter="url(#sb2)"/></g>
<rect x="449.5" y="1581" width="20.3" height="250.5" fill="url(#cbd2)"/>
<text x="52" y="1602.6" font-size="22.5" text-anchor="end">120</text>
<text x="48.6" y="1840.3" font-size="22.5" text-anchor="end">0</text>
<text transform="translate(24.4 1707.3) rotate(-90)" font-size="26" text-anchor="middle" textLength="174.8" lengthAdjust="spacingAndGlyphs">Frequency [Hz]</text>
<text x="67.8" y="1857" font-size="22.5" text-anchor="middle">0</text>
<text x="421.9" y="1857" font-size="22.5" text-anchor="middle">350</text>
<text x="264.2" y="1871" font-size="26" text-anchor="middle" textLength="93.5" lengthAdjust="spacingAndGlyphs">Time [s]</text>
<text x="474.5" y="1597.6" font-size="22.5">10</text>
<text x="476.3" y="1828.1" font-size="22.5">-40</text>
<text transform="translate(492.8 1703.3) rotate(-90)" font-size="26" text-anchor="middle" textLength="85.4" lengthAdjust="spacingAndGlyphs">[dB/Hz]</text>
<text x="510.5" y="1217.3" font-size="62" textLength="32" lengthAdjust="spacingAndGlyphs">e</text>
<text x="582" y="1214.7" font-size="28.8" textLength="179" lengthAdjust="spacingAndGlyphs">Spectrogram:</text>
<text x="771.3" y="1214.7" font-size="25.5" textLength="178.2" lengthAdjust="spacingAndGlyphs">motion artifact</text>
<g filter="url(#fe10)"><use href="#be1"/></g>
<clipPath id="cpe1"><rect x="572.3" y="1231.8" width="379.9" height="249.7"/></clipPath>
<g clip-path="url(#cpe1)"><rect x="683" y="1259.3" width="290" height="7" rx="2" fill="#40c8a4" filter="url(#sb2)"/></g>
<path d="M572.3 1481.8L952.2 1481.8" stroke="#3a4a3a" stroke-width="1.6"/>
<path d="M572.3 1281.8h4M572.3 1321.8h4M572.3 1361.8h4M572.3 1401.8h4M572.3 1441.8h4" stroke="#30405a" stroke-width="1.2" fill="none"/>
<path d="M952.2 1281.8h-4M952.2 1321.8h-4M952.2 1361.8h-4M952.2 1401.8h-4M952.2 1441.8h-4" stroke="#30405a" stroke-width="1.2" fill="none"/>
<rect x="958.7" y="1233" width="19" height="252.5" fill="url(#cbe1)"/>
<text x="569.7" y="1254.2" font-size="22.5" text-anchor="end">120</text>
<text x="562.6" y="1489.5" font-size="22.5" text-anchor="end">0</text>
<text transform="translate(545.9 1362.6) rotate(-90)" font-size="26" text-anchor="middle" textLength="174.8" lengthAdjust="spacingAndGlyphs">Frequency [Hz]</text>
<text x="583.6" y="1510.4" font-size="22.5" text-anchor="middle">0</text>
<text x="929.8" y="1510.4" font-size="22.5" text-anchor="middle">400</text>
<text x="761.6" y="1518.3" font-size="26" text-anchor="middle" textLength="93.5" lengthAdjust="spacingAndGlyphs">Time [s]</text>
<text x="981.9" y="1248.9" font-size="22.5">10</text>
<text x="983.7" y="1482.8" font-size="22.5">-40</text>
<text transform="translate(1003.3 1350.7) rotate(-90)" font-size="26" text-anchor="middle" textLength="85.4" lengthAdjust="spacingAndGlyphs">[dB/Hz]</text>
<text x="567.8" y="1561.5" font-size="28.8" textLength="206" lengthAdjust="spacingAndGlyphs">Accelerometer:</text>
<text x="785.2" y="1561.5" font-size="25.5" textLength="178.8" lengthAdjust="spacingAndGlyphs">motion artifact</text>
<path d="M573.6 1580L951.4 1580" stroke="#555" stroke-width="1.2"/>
<path d="M573.6 1828.9L951.4 1828.9" stroke="#444" stroke-width="1.4"/>
<path d="M573.6 1580L573.6 1828.9" stroke="#555" stroke-width="1.2"/>
<path d="M951.4 1580L951.4 1828.9" stroke="#555" stroke-width="1.2"/>
<path d="M666 1580v4M760 1580v4M852 1580v4M946 1580v4" stroke="#555" stroke-width="1.2" fill="none"/>
<path d="M666 1828.9v-3M760 1828.9v-3M852 1828.9v-3M946 1828.9v-3" stroke="#555" stroke-width="1.2" fill="none"/>
<path d="M951.4 1663.3h-4M951.4 1746h-4" stroke="#555" stroke-width="1.2" fill="none"/>
<path d="M574.1 1828.6L580.2 1822.3L582.3 1618.6L584.1 1819.7L586.2 1802.6L588.1 1822.3L590.7 1819.7L592.5 1793.4L594.6 1821L596.7 1817.1L598.6 1756.6L599.9 1663.3L601.7 1777.6L603 1732.9L604.4 1756.6L605.7 1632.5L607 1769.7L608.3 1788.1L609.9 1806.5L611.7 1823.6L614 1826.1L616.3 1828.5L618.6 1828L620.9 1827L623.2 1827.3L625.5 1825.8L627.8 1826.7L630.1 1828.4L632.4 1827.1L634.7 1827.6L637 1827.2L639.3 1826.1L641.6 1826.2L643.9 1826.7L646.2 1827.4L648.5 1827.2L650.8 1827.6L653.1 1828.1L655.4 1828.4L657.7 1818.4L660.4 1826.3L665.1 1806.5L667.2 1824.9L670.1 1683.5L672.2 1813.1L674.8 1692.2L676.9 1767.1L678.8 1782.9L681.4 1822.3L684 1800L685.3 1817.1L686.6 1809.2L688 1828.1L690.3 1826.9L692.7 1827.1L695.1 1823.2L697.5 1825.6L699.9 1823.9L702.3 1826.1L704.7 1826.3L707.1 1827.7L709.5 1827.7L711.9 1828.2L714.2 1827.6L716.6 1782.1L719 1826.3L721.4 1827.1L723.8 1827.7L726.2 1828L728.6 1826.8L731 1827.9L733.4 1826.3L735.3 1769.2L736.6 1819.7L738.2 1659.9L739.7 1743.4L741.1 1701.4L743.2 1788.1L745.5 1740.3L747.1 1806.5L748.4 1809.2L750.3 1774.5L751.3 1817.1L752.9 1827.6L755.2 1826.6L757.4 1828.4L759.7 1824.4L762 1822.8L764.2 1827.8L766.5 1828.2L768.8 1828.2L771.1 1828L773.3 1828L775.6 1825.9L777.9 1828.2L780.1 1828.3L782.4 1826.5L784.7 1828.4L787 1827.7L789.2 1828L791.5 1827.9L793.8 1828L796 1827.5L798.3 1825.9L800.6 1827.2L802.9 1827.1L805.1 1826.8L807.4 1828.1L809.7 1827.6L811 1815.7L812.8 1704L814.4 1777.6L815.7 1671.9L817.6 1690.9L819.4 1782.9L821.2 1814.4L822.8 1821L826 1819.7L828.3 1828L830.7 1826.7L833.1 1827.6L835.4 1828L837.8 1822.3L840.4 1818.4L843.1 1824.9L845.4 1828.2L847.7 1823.9L850 1827.3L852.3 1826.8L854.6 1824.7L856.9 1827.4L859.2 1827.7L861.5 1825.1L863.8 1827.4L866.1 1826.1L868.4 1828.5L870.7 1827.1L873 1827.6L875.3 1824.9L877.6 1826.7L879.9 1827.7L882.2 1827.1L884.5 1828.5L886.8 1828.6L889.1 1826.3L891.7 1809.2L893.5 1756.6L896.2 1680.4L897 1727.7L897.7 1621.2L899.6 1775L900.6 1673.3L902.2 1751.3L903.3 1711.4L904.8 1809.2L906.2 1814.4L908 1827L910.2 1827.7L912.5 1827.7L914.8 1827.9L917 1824.6L919.3 1825.6L921.5 1827.9L923.8 1827.6L926.4 1819.7L928.5 1756.6L930.1 1680.9L931.4 1782.9L933.8 1680.4L935.1 1777.6L936.6 1801.3L938.2 1796L939.8 1698.2L941.4 1803.9L943 1817.1L946.9 1824.9L950.9 1828.6" stroke="#0072bd" stroke-width="1.2" fill="none" stroke-linejoin="round"/>
<text transform="translate(553.6 1703.8) rotate(-90)" font-size="26" text-anchor="middle" textLength="141.5" lengthAdjust="spacingAndGlyphs">Power [a.u.]</text>
<text x="577" y="1853.9" font-size="22.5" text-anchor="middle">0</text>
<text x="934.3" y="1853.9" font-size="22.5" text-anchor="middle">400</text>
<text x="755" y="1861.7" font-size="26" text-anchor="middle" textLength="93.5" lengthAdjust="spacingAndGlyphs">Time [s]</text>
<text x="1032.5" y="842.6" font-size="63">f</text>
<text x="1577.7" y="846.5" font-size="28.8" text-anchor="middle" textLength="476" lengthAdjust="spacingAndGlyphs">Streaming: raw signal &amp; stimulation</text>
<path d="M1302.8 880.4V1060.5M1308.5 880.4V1066.2M1313.6 877.6V1076.6M1320.3 880.4V1060.1" stroke="#2e75b6" stroke-width="1.2" fill="none" opacity="0.6"/>
<path d="M1468 882.8V1094.8M1473.8 889.7V1083.3M1479.2 881.7V1073.9M1484.8 879.4V1083.9" stroke="#2e75b6" stroke-width="1.2" fill="none" opacity="0.6"/>
<path d="M1635.1 875.4V1103.9M1641.2 873.3V1091.8M1646.9 877.1V1093.5M1652.1 873.6V1082.5" stroke="#2e75b6" stroke-width="1.2" fill="none" opacity="0.6"/>
<path d="M1807.3 879.7V1098.3M1813.5 883.7V1093.4M1819.5 883.8V1084.9M1824.8 886.7V1093.3" stroke="#2e75b6" stroke-width="1.2" fill="none" opacity="0.6"/>
<path d="M1128.5 898.2V982.7M1129.5 904.9V980.8M1130.5 918V989.6M1131.5 905.4V979.7M1132.5 917.6V986.8M1133.5 913.6V990M1134.5 913.9V992.1M1135.5 909.2V993.1M1136.5 910.1V981.8M1137.5 914.1V996.6M1138.5 914.3V989.1M1139.5 909.9V986.2M1140.5 905.5V983.4M1141.5 921.2V991.5M1142.5 901.1V982.6M1143.5 898.7V1003.1M1144.5 903.8V1000.1M1145.5 910.3V982.8M1146.5 908V993.4M1147.5 914.5V996M1148.5 911.9V1007.5M1149.5 905.2V992.5M1150.5 900.1V981.9M1151.5 898.8V989.3M1152.5 911.6V1003.3M1153.5 901.7V995.6M1154.5 911.3V998.8M1155.5 900.6V993.5M1156.5 906.8V992M1157.5 910.5V993.4M1158.5 910.5V1002.1M1159.5 914.7V989.3M1160.5 905.5V990.9M1161.5 918.3V993.9M1162.5 903.9V987.6M1163.5 915.4V989.2M1164.5 916.9V989.7M1165.5 911.5V978.1M1166.5 912.9V984.3M1167.5 921.1V982M1168.5 914.7V983M1169.5 919.1V995.2M1170.5 918.8V974.2M1171.5 908.5V984.2M1172.5 913.8V979.9M1173.5 916.6V985.7M1174.5 924V980.9M1175.5 916.3V974.7M1176.5 902.1V987.4M1177.5 916V979.5M1178.5 919.5V976.6M1179.5 920.6V975.8M1180.5 917.9V992.6M1181.5 920V983.3M1182.5 913.5V992.4M1183.5 915.5V997.3M1184.5 916V985.1M1185.5 913.8V983M1186.5 922.5V1005.3M1187.5 912.7V987.9M1188.5 909V986.1M1189.5 912.2V984.4M1190.5 906.9V993.3M1191.5 889.4V1003.6M1192.5 914.8V988.5M1193.5 902.3V986.3M1194.5 901.9V981M1195.5 913.5V992.7M1196.5 907.5V998.6M1197.5 910.1V988.4M1198.5 909.9V988M1199.5 900.1V1005.5M1200.5 901.2V1001.4M1201.5 915.1V987.6M1202.5 913.7V1025.3M1203.5 903.4V992.6M1204.5 911.9V987.3M1205.5 911.6V996M1206.5 911.4V988.7M1207.5 898.5V991.5M1208.5 904.4V1007M1209.5 906.4V999M1210.5 910.6V986.8M1211.5 897.4V982.3M1212.5 906.5V999.2M1213.5 908.2V991.1M1214.5 911.9V995.5M1215.5 911.6V986M1216.5 912.4V989M1217.5 909.9V992.1M1218.5 888.2V983.5M1219.5 908.8V1018.3M1220.5 899.8V998.8M1221.5 905.6V1002.2M1222.5 893.6V991.1M1223.5 901.5V992.6M1224.5 904.6V989.3M1225.5 907V1010.8M1226.5 894V993.8M1227.5 901.6V981.1M1228.5 906.7V991.2M1229.5 908.3V995.3M1230.5 910.9V984.3M1231.5 912.5V985.5M1232.5 905.6V996.6M1233.5 915.2V986.2M1234.5 891.8V997.5M1235.5 909.7V1008.4M1236.5 902.4V992.8M1237.5 893.3V995.7M1238.5 900.5V1006M1239.5 901.7V991.8M1240.5 915.8V996M1241.5 908.4V1016.9M1242.5 909.4V1000.2M1243.5 913.6V982.3M1244.5 907.2V983.7M1245.5 903V986.6M1246.5 901.9V995.2M1247.5 910.9V1001M1248.5 901.7V999.9M1249.5 890.3V997.1M1250.5 900.1V982.9M1251.5 892.5V997.9M1252.5 896.1V983.8M1253.5 914.8V992.2M1254.5 896.4V1009.9M1255.5 888.9V990M1256.5 899.6V1000.4M1257.5 915.1V987M1258.5 881.3V995.4M1259.5 898.2V991.3M1260.5 904.3V989.8M1261.5 900.7V990.3M1262.5 910V999.9M1263.5 907.4V994.1M1264.5 901.1V992.5M1265.5 910.8V982.7M1266.5 906V990.7M1267.5 881V988.4M1268.5 901.1V997.2M1269.5 902.9V984.1M1270.5 918.1V994.1M1271.5 910.7V985.2M1272.5 911.1V984.5M1273.5 908.9V994.5M1274.5 918.3V980.6M1275.5 923.4V985.7M1276.5 918.2V994.7M1277.5 904.8V994.9M1278.5 911V999.6M1279.5 920.7V977.6M1280.5 921.6V982.1M1281.5 918.1V980.2M1282.5 909.6V990.5M1283.5 914.5V985M1284.5 918.2V984.1M1285.5 915.5V993.1M1286.5 897.6V1005.2M1287.5 917.5V980.1M1288.5 914.2V984.5M1289.5 905V983.7M1290.5 912.4V992M1291.5 920.7V984.8M1292.5 914.7V989.8M1293.5 917.8V992.7M1294.5 894.9V1000.9M1295.5 914.5V983.5M1296.5 920.9V980.2M1297.5 918.5V996.7M1298.5 921.4V992.1M1299.5 897.2V979.7M1300.5 918.9V984.5M1301.5 914.7V978.4M1302.5 909.2V982.2M1303.5 914.7V994.8M1304.5 901.3V996.3M1305.5 910.8V981.9M1306.5 910.8V990.3M1307.5 915.3V976.3M1308.5 910V1004.5M1309.5 924.4V989.7M1310.5 923.4V986.3M1311.5 919.2V998.1M1312.5 923.8V981.8M1313.5 916.6V975.8M1314.5 925.7V982.6M1315.5 917V981.7M1316.5 923.9V988.2M1317.5 916.9V986M1318.5 909.8V977.6M1319.5 907.4V984.4M1320.5 910.3V979.4M1321.5 911.5V994.8M1322.5 899.9V981.7M1323.5 916.7V989M1324.5 920.8V983.3M1325.5 917.4V976.4M1326.5 919.9V980M1327.5 921.4V981.2M1328.5 923.2V991.6M1329.5 904V984.2M1330.5 900.3V994.5M1331.5 917.7V977.3M1332.5 918.5V985.1M1333.5 914.6V977.3M1334.5 912.2V985M1335.5 909.7V981.9M1336.5 907V978.5M1337.5 917.1V976.6M1338.5 915.1V991.5M1339.5 922.8V993.8M1340.5 913.7V980.7M1341.5 916.7V979.4M1342.5 913.8V982.5M1343.5 912.9V983.8M1344.5 889.5V984.9M1345.5 905.4V979.2M1346.5 897.3V981.9M1347.5 892.7V982.9M1348.5 907.5V996.2M1349.5 909.5V985.9M1350.5 912.9V982.1M1351.5 899.8V993.9M1352.5 914.5V979.4M1353.5 912V992.6M1354.5 905.9V976M1355.5 911.3V983.7M1356.5 915.4V989.3M1357.5 911V983.2M1358.5 916.6V981.4M1359.5 919V991.8M1360.5 907.8V983.9M1361.5 906.4V987M1362.5 920.5V983.5M1363.5 922.5V976.4M1364.5 924V988.3M1365.5 906.3V992M1366.5 920.8V987M1367.5 915.3V1008M1368.5 913.2V991.2M1369.5 912.3V989.4M1370.5 919.7V980.8M1371.5 919.8V976.5M1372.5 913.3V982.3M1373.5 912.2V975M1374.5 913.5V991.3M1375.5 913.3V988.5M1376.5 902.9V985.6M1377.5 901.4V985.5M1378.5 916.7V982.9M1379.5 909.9V988.7M1380.5 914.9V999.4M1381.5 915.4V977.3M1382.5 908.6V976.2M1383.5 910.9V989.7M1384.5 916.7V1004.4M1385.5 903V992.7M1386.5 907V981.9M1387.5 913.5V980.7M1388.5 907.3V984M1389.5 921.1V987.1M1390.5 905.4V993M1391.5 908.1V997.4M1392.5 901.8V999.6M1393.5 911.5V980M1394.5 907.8V999.2M1395.5 912.1V987.3M1396.5 909.3V988.7M1397.5 918.6V995.2M1398.5 902.6V986.3M1399.5 912.9V984.1M1400.5 909.8V992.2M1401.5 895.5V981.9M1402.5 916.3V991.4M1403.5 913.4V984.8M1404.5 916.9V1005.3M1405.5 915.5V996.1M1406.5 909.9V988M1407.5 889.4V988.6M1408.5 914.5V982.4M1409.5 893.7V988.9M1410.5 912.3V988.9M1411.5 906.5V1007.8M1412.5 907V999.9M1413.5 915.6V985.4M1414.5 917.9V990M1415.5 912.8V988.8M1416.5 894.7V985.9M1417.5 918.9V980.8M1418.5 905.8V987.9M1419.5 915.2V978.8M1420.5 907.8V1003.4M1421.5 908.1V991.2M1422.5 895.1V984.3M1423.5 879.6V996.4M1424.5 898.3V991.7M1425.5 919.1V997.2M1426.5 917.7V984.6M1427.5 901.2V993.6M1428.5 914.1V987.1M1429.5 913.4V993.8M1430.5 921.7V982M1431.5 916.2V988.5M1432.5 908.1V989.3M1433.5 913.2V986.8M1434.5 918.4V1004M1435.5 902.9V986.2M1436.5 917.2V989.3M1437.5 916.1V984.4M1438.5 914.8V980.1M1439.5 915.4V985.2M1440.5 912.7V997.9M1441.5 911.7V986.1M1442.5 912.4V992.6M1443.5 905.4V989.5M1444.5 903.8V985.7M1445.5 908.8V979.2M1446.5 909.8V991.4M1447.5 914.5V978.8M1448.5 914.9V1000.5M1449.5 907.7V980.2M1450.5 909.2V984.7M1451.5 900.3V989M1452.5 911.2V983.7M1453.5 904.1V995.3M1454.5 902.5V993.9M1455.5 913.2V983.3M1456.5 900.3V996.2M1457.5 902.6V1003.9M1458.5 880V991.7M1459.5 895.5V997.9M1460.5 903V988.5M1461.5 891.2V991.4M1462.5 907.2V999.7M1463.5 915.7V995.1M1464.5 906.2V1003.3M1465.5 914.5V986.9M1466.5 914.1V982M1467.5 896.5V986.6M1468.5 907.4V994.4M1469.5 910.1V999.5M1470.5 915.3V991.5M1471.5 895V989.6M1472.5 907.1V986M1473.5 902.2V999.4M1474.5 902.8V991M1475.5 916.4V1004.3M1476.5 910.4V987.9M1477.5 906.6V992.4M1478.5 901.3V982.2M1479.5 910.7V1007M1480.5 905.6V980.8M1481.5 893.3V982M1482.5 901.1V984.5M1483.5 915.4V994.4M1484.5 915.9V992.3M1485.5 905.4V984.4M1486.5 914.6V995.6M1487.5 910V988.7M1488.5 921.6V990.1M1489.5 906.6V995.9M1490.5 897.7V981.7M1491.5 907.7V994.9M1492.5 898.3V987.4M1493.5 908.8V997.9M1494.5 918.7V989.6M1495.5 911.5V979.5M1496.5 920V985.2M1497.5 909.7V997.2M1498.5 907.3V1000.7M1499.5 917.9V980.8M1500.5 909.6V983.1M1501.5 908V999M1502.5 906.7V983.3M1503.5 910V979.9M1504.5 915.3V981.4M1505.5 918.8V984M1506.5 897.3V973.5M1507.5 910.5V989.8M1508.5 913.7V981.7M1509.5 921.3V992.4M1510.5 917.1V982.4M1511.5 906V996.8M1512.5 910.6V988.5M1513.5 905.8V982.1M1514.5 915.3V982M1515.5 914.3V989.6M1516.5 916.1V1001.7M1517.5 920.5V981.1M1518.5 896.7V986.3M1519.5 910.1V986.3M1520.5 915.9V1002.5M1521.5 908.6V984.1M1522.5 918V979.3M1523.5 905.3V995.1M1524.5 922.1V986.2M1525.5 918.7V980.2M1526.5 913.7V988.3M1527.5 911.9V980.6M1528.5 905.8V982.3M1529.5 908.8V981.1M1530.5 911.5V991.6M1531.5 920.3V975.5M1532.5 906.1V980.8M1533.5 915.9V984M1534.5 882.5V987M1535.5 912.1V991.2M1536.5 920.3V983.3M1537.5 916V981.7M1538.5 913V989.6M1539.5 911.6V987M1540.5 920.6V978.3M1541.5 921.3V980.7M1542.5 909.5V983.2M1543.5 913.3V989.4M1544.5 915.7V995M1545.5 903V985.6M1546.5 909.5V979.3M1547.5 914.6V1000.3M1548.5 915V987.4M1549.5 909.9V994.9M1550.5 909.2V1003.9M1551.5 910.3V978.5M1552.5 911.2V982.7M1553.5 915.7V991.9M1554.5 909.2V985.8M1555.5 922V994.3M1556.5 903.1V982.1M1557.5 921V981.5M1558.5 919.9V978.2M1559.5 911.2V986M1560.5 916.1V981.4M1561.5 912.4V978.9M1562.5 915V994.6M1563.5 915.1V990M1564.5 908V988.8M1565.5 918.9V983.2M1566.5 917.7V995.4M1567.5 913.8V986.2M1568.5 909V987.3M1569.5 912.4V1002.5M1570.5 913.1V980.6M1571.5 911.8V982.4M1572.5 913.2V983.8M1573.5 913.3V987.7M1574.5 917.9V991.4M1575.5 918.1V979.4M1576.5 914.3V979.2M1577.5 910.3V978M1578.5 916.4V994.1M1579.5 913.6V989.1M1580.5 924.5V989.9M1581.5 907.3V983.5M1582.5 903.3V1001.4M1583.5 896.7V993.5M1584.5 915.9V994.7M1585.5 909.9V990.6M1586.5 911.4V994.1M1587.5 915V994.1M1588.5 917V994.5M1589.5 921V978.9M1590.5 918.2V982.4M1591.5 911.8V981.4M1592.5 905.6V999.7M1593.5 920.1V976.2M1594.5 909.8V988M1595.5 908V983.4M1596.5 913.1V998.2M1597.5 909.9V992.4M1598.5 918.8V996M1599.5 899.5V986.4M1600.5 918.2V1005M1601.5 902.7V980.3M1602.5 899.9V982.5M1603.5 915.1V996.4M1604.5 910.7V986.8M1605.5 908.6V999.1M1606.5 909.4V993.4M1607.5 882.6V1000.4M1608.5 895.5V979.6M1609.5 908.5V1010.4M1610.5 901.2V996.3M1611.5 909.4V994.4M1612.5 916.7V986.1M1613.5 910.3V985.5M1614.5 916.7V986.7M1615.5 903.3V987.7M1616.5 910.3V996.8M1617.5 911.3V982M1618.5 899.8V992.5M1619.5 901.3V985.1M1620.5 910.6V986.7M1621.5 919.3V985.9M1622.5 913.4V990.9M1623.5 912.6V991.9M1624.5 909V1002.1M1625.5 922.9V980.2M1626.5 903V995.7M1627.5 915.8V989.7M1628.5 904.1V988.9M1629.5 910.7V979.9M1630.5 898.7V982.6M1631.5 911.3V986.1M1632.5 907.8V980.4M1633.5 909.9V991.6M1634.5 920.3V977.9M1635.5 919V986.5M1636.5 917.4V989.6M1637.5 917.4V983.4M1638.5 907.7V986.1M1639.5 892.9V984.6M1640.5 915.1V986M1641.5 916.5V983.6M1642.5 911.1V986.1M1643.5 909.4V988M1644.5 902.2V977.9M1645.5 919.7V987.6M1646.5 915.4V1000.1M1647.5 902.7V986.3M1648.5 922.3V983.6M1649.5 916.7V985.4M1650.5 920.8V984.3M1651.5 921.7V992M1652.5 913.2V989.8M1653.5 912.4V984.6M1654.5 915.9V987.6M1655.5 921.9V984.3M1656.5 913.7V984.8M1657.5 914.4V985.5M1658.5 914.3V989.2M1659.5 917.3V984.7M1660.5 909.4V994.1M1661.5 910.7V980.8M1662.5 903.3V990.4M1663.5 910.3V988.1M1664.5 898.8V995.4M1665.5 910.2V985.8M1666.5 908.8V992.5M1667.5 916V984.2M1668.5 908V986M1669.5 901.6V992.2M1670.5 912.1V997M1671.5 896.4V995.4M1672.5 902.4V987.1M1673.5 889.2V980.3M1674.5 909.9V988.1M1675.5 915.8V997.5M1676.5 896.2V985.6M1677.5 917V1011.7M1678.5 908V988.1M1679.5 902.6V984.3M1680.5 911.1V980.9M1681.5 904.1V995.7M1682.5 920.1V996.6M1683.5 917.7V987.8M1684.5 920.9V1012.3M1685.5 899.9V987.5M1686.5 907.6V991.6M1687.5 914.2V1002.3M1688.5 907.6V983.7M1689.5 908.3V983.8M1690.5 898.8V986.8M1691.5 905.6V1010.7M1692.5 902.9V998.2M1693.5 903.8V998.8M1694.5 893.9V982.8M1695.5 914.1V982M1696.5 914.6V981M1697.5 901V986.6M1698.5 911.5V979.2M1699.5 898V999.8M1700.5 900.3V991.7M1701.5 911.2V997.1M1702.5 906.3V987.1M1703.5 919V983.9M1704.5 911.2V990.1M1705.5 908.8V982.2M1706.5 911.8V987.8M1707.5 916.7V1011.7M1708.5 912.4V1009.8M1709.5 913.9V990.1M1710.5 901.1V988.4M1711.5 904V995.9M1712.5 901.8V991.5M1713.5 903.1V983.5M1714.5 903.1V981.3M1715.5 892.3V985.3M1716.5 904.4V996.4M1717.5 884.3V994.4M1718.5 902V981.7M1719.5 898.7V991M1720.5 913.4V997.5M1721.5 909.4V991.4M1722.5 916V993.3M1723.5 912.3V995.9M1724.5 915.2V984.7M1725.5 910.6V992.5M1726.5 915V989M1727.5 911.3V995.1M1728.5 909.6V988.4M1729.5 909.7V984.2M1730.5 892.7V989.9M1731.5 905.4V998.3M1732.5 913.6V989.7M1733.5 913V1017.2M1734.5 907.5V988.2M1735.5 899.6V995.7M1736.5 905.1V992M1737.5 909.9V998.5M1738.5 906.8V1002.3M1739.5 910.6V989.5M1740.5 898.8V1005.6M1741.5 910.7V998.1M1742.5 907.6V998.5M1743.5 906V999.5M1744.5 880.3V993M1745.5 904V1002M1746.5 906.2V995M1747.5 904.1V984.4M1748.5 912.3V993.3M1749.5 901.8V1014.1M1750.5 901.6V1000.6M1751.5 905.5V998.2M1752.5 907V981.1M1753.5 915.3V983.2M1754.5 913.4V985.9M1755.5 891.2V995.9M1756.5 908.1V991.3M1757.5 896.4V1009.3M1758.5 903.5V994.2M1759.5 898.7V986.9M1760.5 907.2V986.2M1761.5 904.3V990.3M1762.5 903.8V1005.4M1763.5 914.3V1002.1M1764.5 911.9V1001.7M1765.5 902V1005.7M1766.5 912.9V993.3M1767.5 901.8V1006.2M1768.5 898V998.8M1769.5 896.1V989.1M1770.5 911.8V1002.8M1771.5 887.8V994.4M1772.5 903.5V986.9M1773.5 904.9V1006.5M1774.5 905.6V992.1M1775.5 901.5V993.4M1776.5 911.1V984.9M1777.5 900.9V997.6M1778.5 915.6V993.6M1779.5 896.4V980.4M1780.5 899.5V1004.4M1781.5 907.4V991.9M1782.5 907.9V989.5M1783.5 901.2V982.5M1784.5 903.9V990.1M1785.5 919V987.3M1786.5 910.2V1004.1M1787.5 903.9V992.8M1788.5 904.2V993.3M1789.5 921.5V985.1M1790.5 918.1V984.6M1791.5 907.7V983.3M1792.5 922V990.6M1793.5 911.5V982.9M1794.5 911.5V983.5M1795.5 908.2V978.4M1796.5 904.7V996.3M1797.5 917.9V981.5M1798.5 917.5V984.4M1799.5 883.2V982.6M1800.5 901.1V1002.7M1801.5 908.3V997.6M1802.5 919.8V996.2M1803.5 911.2V981.8M1804.5 895V977.6M1805.5 912.7V999.4M1806.5 921.6V975.2M1807.5 919.9V978.2M1808.5 912V976.8M1809.5 910.2V980.8M1810.5 913.3V991.3M1811.5 911.6V979.2M1812.5 912.5V999.7M1813.5 925.2V980.1M1814.5 915.9V989.5M1815.5 910.3V984.1M1816.5 921.6V988.8M1817.5 910.5V986.5M1818.5 915.9V989.8M1819.5 908.4V992.9M1820.5 895.5V997.1M1821.5 911.8V996.4M1822.5 907V996M1823.5 917.4V985M1824.5 909.1V986.3M1825.5 916.8V983M1826.5 913.2V982.3M1827.5 915.5V985.7M1828.5 911.7V990.7M1829.5 914V1004.3M1830.5 915.8V996.3M1831.5 908V978.6M1832.5 917.4V979.9M1833.5 917.3V982M1834.5 905.8V987M1835.5 909.6V979.2M1836.5 902.9V980M1837.5 918.2V981.5M1838.5 894.3V984M1839.5 922.7V986.3M1840.5 907.7V978.3M1841.5 911.1V983.8M1842.5 898V983.9M1843.5 911.5V979M1844.5 906.3V998M1845.5 909V990M1846.5 912.9V991M1847.5 918.5V985.6M1848.5 900.9V1003.2M1849.5 914.9V1001.1M1850.5 907.6V989.5M1851.5 904.3V986.9M1852.5 912.6V993.3M1853.5 919.5V985.5M1854.5 917.2V987.6M1855.5 921.5V994.3M1856.5 909.6V988.2M1857.5 902.4V983.8M1858.5 916V979.8M1859.5 920.2V982.8M1860.5 906.7V992.2M1861.5 916.7V978.7M1862.5 907.1V988.5M1863.5 911.7V1000.5M1864.5 913.3V1000.3M1865.5 902.8V1005.6M1866.5 892.4V999M1867.5 903.8V984.7M1868.5 910.3V989.6M1869.5 906.9V986.1M1870.5 915.8V983.1M1871.5 914.4V983M1872.5 906.8V988.8M1873.5 912.9V996.9M1874.5 905.9V987.4M1875.5 914V997.1M1876.5 911.6V991.8M1877.5 906.6V1000.9M1878.5 903.7V993M1879.5 910.7V982.4M1880.5 895V1021.3M1881.5 911.5V1004.6M1882.5 909.4V999.1M1883.5 909.8V993.3M1884.5 908.4V980.6M1885.5 897V986.9M1886.5 906.4V993.2M1887.5 905.9V991.7M1888.5 897.7V987.8M1889.5 908.4V987.2M1890.5 913.4V987.6M1891.5 895.7V983M1892.5 916.4V992.5M1893.5 899.1V985.6M1894.5 904.5V990.4M1895.5 912.1V994.6M1896.5 913.9V981.1M1897.5 914.2V979.2M1898.5 913.2V984.8M1899.5 900.4V996.1M1900.5 910.7V988.9M1901.5 915.7V1000.5M1902.5 916.1V989.8M1903.5 911.8V992M1904.5 914V986.9M1905.5 909.4V983.3M1906.5 900.9V998.1M1907.5 899.7V992.5M1908.5 915.6V991.2M1909.5 911V984.9M1910.5 909.5V989.9M1911.5 915.3V981.2M1912.5 900.7V988.6M1913.5 912.8V977.8M1914.5 912.5V985.5M1915.5 900.6V978.5M1916.5 892.3V977.2M1917.5 896.4V987.1M1918.5 907.3V979.1M1919.5 911.9V988.8M1920.5 917.2V987.1M1921.5 904.1V977.3M1922.5 907V983.7M1923.5 910.5V994.4M1924.5 918.1V980M1925.5 909.4V985.1M1926.5 901.2V983.1M1927.5 906.8V978.6M1928.5 910.4V991.9M1929.5 906.4V998.7M1930.5 903.5V984.2M1931.5 889.6V987.9M1932.5 905.9V988.2M1933.5 909.4V989.7M1934.5 907.8V983.9M1935.5 906.6V983.1M1936.5 921.4V993M1937.5 908.4V989.3M1938.5 914.1V988.1M1939.5 916.1V988.3M1940.5 913.9V987.1M1941.5 913.4V985.3M1942.5 907.2V986.1M1943.5 908.5V987.9M1944.5 922.8V981.5M1945.5 892.1V980.1M1946.5 905.2V984.1M1947.5 920.3V987.7M1948.5 920.9V978M1949.5 922.1V983.4M1950.5 917.6V976.7M1951.5 907.6V974.9M1952.5 921.4V978.2M1953.5 916.1V985.7M1954.5 918.5V974.3M1955.5 905.8V983.2M1956.5 895.5V986M1957.5 913.2V979.8M1958.5 917.7V980.6M1959.5 908.8V983.7M1960.5 915.1V986.7M1961.5 909.8V981.3M1962.5 914.5V986.7M1963.5 909.6V986.6M1964.5 912.8V1000.5M1965.5 900.4V983.8M1966.5 923.2V985.7M1967.5 911.1V981.9M1968.5 913.2V990M1969.5 899.3V981.5M1970.5 901.4V979.9M1971.5 920.4V994.7M1972.5 905.3V987.5M1973.5 907V984.4M1974.5 917V979.6M1975.5 917.3V985M1976.5 919.1V979M1977.5 909.8V980.4M1978.5 915.7V980.8M1979.5 913.5V992.3M1980.5 912.7V990M1981.5 918.1V979M1982.5 902.5V997.2M1983.5 913.8V992.4M1984.5 911V981.3M1985.5 921.4V982.4M1986.5 913V1003.3M1987.5 914.7V1008M1988.5 902.4V980.4M1989.5 919.8V989.8M1990.5 914.6V984.3M1991.5 904.4V995.4M1992.5 916.3V989.5M1993.5 913V992.3M1994.5 921.3V981M1995.5 912.4V986.6M1996.5 920.6V992.4" stroke="#2e75b6" stroke-width="1" fill="none" opacity="0.5"/>
<path d="M1128.5 905.3V979.2M1129.5 909.6V977.9M1130.5 923.8V987.9M1131.5 909.1V972.5M1132.5 920V985.1M1133.5 922.2V982.2M1134.5 918.9V990.2M1135.5 917.7V982.5M1136.5 915.2V980M1137.5 918.8V990.7M1138.5 924.4V977.2M1139.5 914.9V975.5M1140.5 911.5V978.7M1141.5 922.8V989M1142.5 910.6V980.3M1143.5 901.1V999.1M1144.5 906.9V991.2M1145.5 918.1V977.5M1146.5 916.6V986.6M1147.5 920.4V993.7M1148.5 917.7V985.1M1149.5 914.8V988.8M1150.5 906.5V980.2M1151.5 913V981M1152.5 914.4V996.8M1153.5 919.9V981.2M1154.5 917.2V975.9M1155.5 903V990.5M1156.5 911.3V988.4M1157.5 914.2V980.7M1158.5 915.2V984.4M1159.5 920V983M1160.5 914.4V980.4M1161.5 920.5V983.6M1162.5 920.7V986M1163.5 922.8V985.2M1164.5 921.7V983.1M1165.5 913.6V976.7M1166.5 914.3V981M1167.5 923.4V980.3M1168.5 924.2V978.7M1169.5 923.1V992.9M1170.5 920.4V971.7M1171.5 926.4V978.5M1172.5 921V978M1173.5 922.8V977.2M1174.5 925.9V979.6M1175.5 919.2V973.1M1176.5 905.3V978.5M1177.5 920.7V975.4M1178.5 921.3V973.7M1179.5 923.1V974.5M1180.5 919.8V988.1M1181.5 921.5V979M1182.5 921.1V987.6M1183.5 917.5V985.7M1184.5 921.6V979M1185.5 924.7V978.7M1186.5 925.8V997.7M1187.5 917.2V979.6M1188.5 914.6V979.9M1189.5 915.8V979.4M1190.5 910.2V989.1M1191.5 897.6V987.9M1192.5 917.7V984.7M1193.5 911V984.5M1194.5 907.6V977.8M1195.5 917.7V976.6M1196.5 909.7V987.2M1197.5 917V982.6M1198.5 912.8V975.4M1199.5 905.1V997.3M1200.5 907.5V997.3M1201.5 922.8V981.9M1202.5 916.4V1000.4M1203.5 916.2V990.2M1204.5 917.7V980.8M1205.5 914.2V981.9M1206.5 913.2V986.1M1207.5 905.5V988.8M1208.5 912.7V994.6M1209.5 913.2V995.3M1210.5 915.4V979.1M1211.5 911.1V980.5M1212.5 908.4V991.7M1213.5 914.3V987M1214.5 916.5V988.6M1215.5 916.7V982.7M1216.5 917.6V985.9M1217.5 917.1V990.4M1218.5 899V978.3M1219.5 912.4V1005.8M1220.5 907.9V986.6M1221.5 913.5V1000.1M1222.5 901.8V982.3M1223.5 908.4V988.6M1224.5 908.1V984.2M1225.5 910.3V991.1M1226.5 919.1V982.6M1227.5 906.6V977.8M1228.5 909V985.9M1229.5 911.9V987.4M1230.5 915.8V982.1M1231.5 920.6V978.5M1232.5 908.4V994.4M1233.5 917.3V983.9M1234.5 898.8V991.9M1235.5 913.6V999.3M1236.5 907V990.4M1237.5 896.7V991.2M1238.5 903.1V998.5M1239.5 911.5V982M1240.5 920.6V991.3M1241.5 911.5V1010.8M1242.5 912.2V989.6M1243.5 918.5V979.3M1244.5 910.7V980.2M1245.5 909.9V981.5M1246.5 905.7V988.9M1247.5 915.6V997.7M1248.5 917.9V995.1M1249.5 920.3V986.4M1250.5 903.1V978.8M1251.5 898.1V979.6M1252.5 906.6V981.2M1253.5 919.4V990.5M1254.5 899.3V1002.9M1255.5 909.1V985.4M1256.5 907.3V988.3M1257.5 919.2V985M1258.5 900.6V988M1259.5 906.2V987.7M1260.5 908.6V984M1261.5 906.1V982.8M1262.5 916.7V979.6M1263.5 916.7V991.3M1264.5 907.2V984.9M1265.5 914.3V979.7M1266.5 909.5V982.9M1267.5 911.3V983.4M1268.5 910.2V991.8M1269.5 914.1V976.3M1270.5 921.5V989.2M1271.5 915V979.8M1272.5 921.4V978.7M1273.5 911.3V987.5M1274.5 920.6V975.8M1275.5 926.3V979.5M1276.5 921.5V983.5M1277.5 913.4V984.9M1278.5 915.1V996.4M1279.5 924.9V975.6M1280.5 923.2V979M1281.5 923.1V977.4M1282.5 912.5V981.4M1283.5 919.2V982.5M1284.5 921.2V979.6M1285.5 921.2V987.5M1286.5 906.4V989.7M1287.5 922.6V977M1288.5 916.8V977.3M1289.5 918.6V981M1290.5 916.7V982.7M1291.5 922.5V982.4M1292.5 918.8V985.9M1293.5 919.9V986.1M1294.5 909.2V997.8M1295.5 917.2V981.3M1296.5 923V978.1M1297.5 924.7V980M1298.5 923.4V976.8M1299.5 915.5V975.9M1300.5 924V977.8M1301.5 922.5V976.7M1302.5 910.8V977.1M1303.5 917.5V975.5M1304.5 920.5V988.5M1305.5 925.1V977.5M1306.5 914V988.6M1307.5 919.8V974.6M1308.5 912.2V984.1M1309.5 926V984.9M1310.5 925.2V979.8M1311.5 924.8V988.5M1312.5 926V977M1313.5 919V972.6M1314.5 928.3V981.2M1315.5 921.5V979.1M1316.5 927.2V983M1317.5 919.1V979.5M1318.5 912.4V975.1M1319.5 909.7V976.6M1320.5 918.2V977.2M1321.5 913.4V991.3M1322.5 919.6V979.2M1323.5 921.4V979.7M1324.5 924.4V974M1325.5 921.9V972.9M1326.5 922.2V975M1327.5 924.4V979.3M1328.5 924.7V986.7M1329.5 915.3V978.1M1330.5 911.9V991.5M1331.5 922.3V973.2M1332.5 921.7V978.1M1333.5 917V974.4M1334.5 914.2V980.8M1335.5 925.7V978.6M1336.5 913.3V972M1337.5 918.9V973.9M1338.5 920.6V982.8M1339.5 925.2V985.6M1340.5 922.5V978.4M1341.5 925.1V977.7M1342.5 916.1V980.5M1343.5 922.8V975.5M1344.5 918.9V981M1345.5 908.3V973.8M1346.5 902.8V977.9M1347.5 904V980.4M1348.5 915.2V980.2M1349.5 911.7V981.7M1350.5 921.2V979.4M1351.5 916.3V989.9M1352.5 923.4V976.5M1353.5 915.1V981.2M1354.5 908.8V972.8M1355.5 917.1V979.9M1356.5 917.5V986.6M1357.5 915.6V976.4M1358.5 920.9V978.7M1359.5 925.7V989.9M1360.5 922.5V981.1M1361.5 916.8V983.7M1362.5 923.5V978.1M1363.5 925.3V974M1364.5 926.4V981.5M1365.5 917.6V985.9M1366.5 923.9V980.7M1367.5 917.7V990.4M1368.5 920.7V988.3M1369.5 916.6V984.2M1370.5 925V976.9M1371.5 925V972M1372.5 919.6V978.8M1373.5 923.9V972.4M1374.5 920.3V988.2M1375.5 916.7V983.4M1376.5 917V982.9M1377.5 909.3V982M1378.5 921V978.6M1379.5 917.5V979.4M1380.5 919.2V996.3M1381.5 917.2V974.2M1382.5 910.5V974M1383.5 918.9V984M1384.5 920V1000.5M1385.5 908.3V980.4M1386.5 914.8V977.4M1387.5 920.4V975.4M1388.5 909.4V980.3M1389.5 922.8V983.6M1390.5 907V990.2M1391.5 917.4V987.1M1392.5 906.4V979.5M1393.5 916.2V976.4M1394.5 910.7V996.7M1395.5 918.8V984.7M1396.5 914.8V986.8M1397.5 923.3V990.5M1398.5 914.7V976.5M1399.5 914.9V980.6M1400.5 918.7V989.7M1401.5 899.2V975.5M1402.5 918.4V985.5M1403.5 916.2V980.9M1404.5 921V994.7M1405.5 919.6V990.4M1406.5 918.1V983M1407.5 891.8V986.9M1408.5 917.5V980.6M1409.5 910.2V984.4M1410.5 914.6V984.2M1411.5 910V992.2M1412.5 912.7V993.2M1413.5 918.5V982.5M1414.5 921.9V983.5M1415.5 917.6V976.2M1416.5 906.9V982.6M1417.5 920.8V976M1418.5 913.8V981.4M1419.5 920.3V974.2M1420.5 909.9V981.9M1421.5 910.4V986.8M1422.5 908.8V976.2M1423.5 882.9V994M1424.5 907.1V979M1425.5 923.2V987M1426.5 921.1V982.4M1427.5 905.7V977.4M1428.5 916.2V979.6M1429.5 923.6V988.7M1430.5 926V977M1431.5 918V985.2M1432.5 922V979.5M1433.5 915.5V984.5M1434.5 920.8V978.9M1435.5 913.8V981.9M1436.5 921.8V976.4M1437.5 919.2V976.8M1438.5 920.2V976.7M1439.5 923V979.3M1440.5 915.5V984.3M1441.5 919.3V983.1M1442.5 915.1V984.5M1443.5 907.6V987.2M1444.5 908.4V977.3M1445.5 915.9V977.5M1446.5 913.7V982.8M1447.5 917.5V977M1448.5 918.1V986.2M1449.5 909.5V976.2M1450.5 911.6V982.9M1451.5 910.8V985.9M1452.5 916.3V981.5M1453.5 912.7V990.3M1454.5 908.1V988.2M1455.5 921.1V977.1M1456.5 904.6V985.1M1457.5 906.6V996.1M1458.5 901.6V986.9M1459.5 914.6V977.7M1460.5 908.6V985.9M1461.5 894.8V988.3M1462.5 913.7V987.4M1463.5 918.7V988M1464.5 917.3V999.4M1465.5 917.1V984.3M1466.5 916.3V978.8M1467.5 911.4V981M1468.5 914.9V989.3M1469.5 917.8V994M1470.5 920.7V984.8M1471.5 903.7V985.7M1472.5 914.2V983.3M1473.5 916.5V996.7M1474.5 910.5V987.2M1475.5 921.1V1000.5M1476.5 915.4V983.5M1477.5 912.1V988.1M1478.5 913.1V980.2M1479.5 915.9V999.2M1480.5 910.2V977.3M1481.5 914.3V980.1M1482.5 909.8V982.5M1483.5 917.4V986.6M1484.5 918.9V988.6M1485.5 916.5V978M1486.5 916.6V992.7M1487.5 912V983.1M1488.5 923.2V987.5M1489.5 909.9V992.1M1490.5 907.5V978.9M1491.5 921.7V982.1M1492.5 902.8V980.4M1493.5 913.1V986.2M1494.5 920.7V984.1M1495.5 913.2V976.9M1496.5 921.6V981.5M1497.5 917.6V988.4M1498.5 911V980.5M1499.5 925.6V978M1500.5 915.5V976.2M1501.5 920.1V981.7M1502.5 914.3V981.2M1503.5 919.8V975.9M1504.5 917.4V976.8M1505.5 921.6V978.8M1506.5 918.5V971.4M1507.5 915.7V987.8M1508.5 916.3V978.2M1509.5 927V990.6M1510.5 920.2V978.9M1511.5 915.3V983.7M1512.5 918.9V985.6M1513.5 912.7V979.7M1514.5 925.6V978.4M1515.5 922.7V976.4M1516.5 918.8V984.5M1517.5 923.9V979.2M1518.5 906.8V981.1M1519.5 917.2V982.9M1520.5 922.8V991.7M1521.5 910.2V974.6M1522.5 924V974.5M1523.5 908.5V989.8M1524.5 926.8V980.6M1525.5 921.1V976.9M1526.5 919.9V977.3M1527.5 916.8V975.2M1528.5 924.8V980.6M1529.5 920.4V977.2M1530.5 915.1V986.3M1531.5 922.4V973.1M1532.5 913.2V977.2M1533.5 917.5V979.2M1534.5 913.2V983.9M1535.5 915.9V989M1536.5 921.9V981.9M1537.5 917.7V979.6M1538.5 924.9V980.9M1539.5 919.7V978.9M1540.5 923.4V974.1M1541.5 925.9V977.3M1542.5 912.6V977.8M1543.5 916.7V980.5M1544.5 919.6V982.9M1545.5 906.2V984.1M1546.5 917.8V977.2M1547.5 920.5V998.2M1548.5 918V982.8M1549.5 912.8V984.1M1550.5 922.2V985.9M1551.5 923.2V976.7M1552.5 919V974.9M1553.5 917.4V983.2M1554.5 920.8V982.6M1555.5 924.5V992.4M1556.5 911.3V978.5M1557.5 923.8V975M1558.5 922.4V975.6M1559.5 918V984.3M1560.5 926.1V977.7M1561.5 927.1V975.9M1562.5 918.1V984.1M1563.5 917.7V983.7M1564.5 916.7V976.3M1565.5 920.4V981.7M1566.5 920.5V989.5M1567.5 923.1V982.7M1568.5 919V985.4M1569.5 917.2V985.9M1570.5 918V978.8M1571.5 919V972.7M1572.5 917V978.1M1573.5 916.4V981.6M1574.5 920.6V983.1M1575.5 920.5V972.8M1576.5 916.6V977.1M1577.5 916.4V975.6M1578.5 924.7V986.2M1579.5 922.4V974.9M1580.5 926.5V987.4M1581.5 916.9V979.6M1582.5 906.4V991M1583.5 909.4V989.7M1584.5 918.3V991.9M1585.5 921.3V988.9M1586.5 915.6V991.9M1587.5 922.6V987.4M1588.5 919.8V979.9M1589.5 924.1V976.3M1590.5 922V978.2M1591.5 914.6V977.6M1592.5 909.7V995.3M1593.5 922.6V974.4M1594.5 913.6V982.3M1595.5 912V978.1M1596.5 915.5V988.5M1597.5 913V981.7M1598.5 920.7V975.8M1599.5 901.1V980.3M1600.5 920.7V992M1601.5 908V978.7M1602.5 902.9V980.6M1603.5 918.3V993.6M1604.5 913.9V981.7M1605.5 913.6V993.3M1606.5 916.4V991.1M1607.5 907.2V996.5M1608.5 911.8V977M1609.5 911.3V1003.5M1610.5 907.3V985.9M1611.5 921.4V990.3M1612.5 918.5V978M1613.5 912.9V983.8M1614.5 921V983.8M1615.5 915.8V984.9M1616.5 920.3V990.5M1617.5 915.9V979.1M1618.5 908.8V989.3M1619.5 913.4V980.3M1620.5 915.4V975.8M1621.5 923.2V976.9M1622.5 915.7V982.8M1623.5 922.3V979.3M1624.5 911.3V992.3M1625.5 924.9V977.4M1626.5 906.7V980.2M1627.5 925.2V986.4M1628.5 912.4V982.3M1629.5 913.4V976.9M1630.5 906.9V979.7M1631.5 917.2V982.4M1632.5 919.5V976.7M1633.5 917.3V981.8M1634.5 922.9V975.3M1635.5 921.1V978.6M1636.5 920.1V977.8M1637.5 918.9V977.5M1638.5 916.8V984.3M1639.5 902.3V980.8M1640.5 921.2V982M1641.5 918.8V979.4M1642.5 920.4V981.8M1643.5 918.4V983.3M1644.5 913V973.8M1645.5 921.8V984M1646.5 920.3V996.4M1647.5 910.7V984.1M1648.5 925.5V980M1649.5 919V974M1650.5 923.3V977.1M1651.5 925.1V986.8M1652.5 921.9V987.6M1653.5 914.4V981.5M1654.5 917.3V982.3M1655.5 924.4V980.5M1656.5 926.7V983.4M1657.5 916.1V979.4M1658.5 919.8V985.3M1659.5 921.8V982.6M1660.5 917.3V986.2M1661.5 917.6V975.2M1662.5 909.8V986.1M1663.5 913.6V982.6M1664.5 917.6V989.4M1665.5 913.4V978.2M1666.5 917.8V988.4M1667.5 923.3V979M1668.5 912.4V981.6M1669.5 909.1V985.1M1670.5 914.9V988.3M1671.5 905.1V980.6M1672.5 913.8V983M1673.5 896.4V978M1674.5 913.4V978.5M1675.5 917.7V991.4M1676.5 901.4V983.3M1677.5 921V1001.6M1678.5 912.7V979.3M1679.5 908.1V981.3M1680.5 916.7V979.2M1681.5 911.7V993.4M1682.5 922V989.8M1683.5 919.3V983.4M1684.5 923.5V997.2M1685.5 910.8V975.2M1686.5 919.7V986.1M1687.5 916.7V991.3M1688.5 912.8V980.2M1689.5 912.8V979.1M1690.5 903.3V983.9M1691.5 916V993.9M1692.5 911.6V995.9M1693.5 906.9V995.4M1694.5 901.7V980.9M1695.5 917V978.3M1696.5 920.6V978.2M1697.5 907.5V979.1M1698.5 914.2V977.4M1699.5 908.5V993.2M1700.5 910V984.4M1701.5 913V990.4M1702.5 907.9V984.2M1703.5 920.6V982M1704.5 917.1V986.9M1705.5 916.5V979M1706.5 924.8V980.2M1707.5 923.5V1009.4M1708.5 916.6V998.4M1709.5 916.2V977M1710.5 911.9V979.4M1711.5 907.1V992.6M1712.5 904.1V986.8M1713.5 906.5V978.5M1714.5 905.6V979.3M1715.5 910.5V979.3M1716.5 907.3V989.5M1717.5 891V985.2M1718.5 907.6V979.5M1719.5 904V985.2M1720.5 915.6V987M1721.5 912.9V989.1M1722.5 918.5V988.7M1723.5 916V992.7M1724.5 916.9V980.7M1725.5 912.2V985.6M1726.5 919.6V984M1727.5 918.3V981.8M1728.5 914.4V982.7M1729.5 921.5V981.1M1730.5 908V987.6M1731.5 910.8V990.3M1732.5 917.8V983.9M1733.5 916.7V996.8M1734.5 910.6V980.7M1735.5 915.3V990.1M1736.5 908.8V987.9M1737.5 913.7V995M1738.5 909.2V991M1739.5 915.9V983.2M1740.5 910.8V989M1741.5 915.3V994.5M1742.5 913.9V984.4M1743.5 911.2V993.8M1744.5 900.3V990.2M1745.5 909.3V999.3M1746.5 908.4V993M1747.5 908.8V981.1M1748.5 915.3V982.9M1749.5 911.4V987M1750.5 914.2V990.1M1751.5 915.7V988.3M1752.5 913V979.1M1753.5 919.4V979.1M1754.5 915.6V983.6M1755.5 905.3V993.4M1756.5 914.8V987.3M1757.5 902.4V988.5M1758.5 905.5V988.7M1759.5 910.4V984.3M1760.5 915.1V982.4M1761.5 912.4V987.7M1762.5 907.3V991.8M1763.5 916.5V995.8M1764.5 914.1V993.6M1765.5 907.7V990.4M1766.5 915.7V991.4M1767.5 907.7V988.7M1768.5 902.7V995.2M1769.5 907.1V986.6M1770.5 914.6V976.3M1771.5 907.5V986.8M1772.5 911.1V983.7M1773.5 913.2V996.7M1774.5 908.2V989.4M1775.5 904.9V990.4M1776.5 917.1V981.8M1777.5 913.7V984.4M1778.5 920.3V990.2M1779.5 919.7V977.6M1780.5 915.6V986.1M1781.5 914.7V980.6M1782.5 913.3V982.5M1783.5 916.7V979.6M1784.5 911.8V984.1M1785.5 922.7V978.8M1786.5 916.5V983.6M1787.5 915V990.9M1788.5 910.2V978.9M1789.5 922.9V978.8M1790.5 921.4V982M1791.5 921.2V979.7M1792.5 923.9V988M1793.5 916.8V980.7M1794.5 915V977.9M1795.5 913.8V976.2M1796.5 916.8V992.7M1797.5 924.5V975.6M1798.5 923.1V979M1799.5 908.9V980.1M1800.5 908.7V991.4M1801.5 912.3V994M1802.5 923.6V987.1M1803.5 913.2V978.8M1804.5 910.5V975.6M1805.5 915.6V988.2M1806.5 923.4V971.6M1807.5 927.1V976.3M1808.5 917V971.2M1809.5 925.9V977.7M1810.5 917.6V987.1M1811.5 915.3V973.5M1812.5 914.3V989.8M1813.5 927.3V975.2M1814.5 917.6V987.4M1815.5 914.4V974.3M1816.5 924.4V985.3M1817.5 913V978.2M1818.5 918V984.3M1819.5 918.1V984.8M1820.5 907V988.9M1821.5 916.2V988.5M1822.5 914.2V983.9M1823.5 920.1V980.4M1824.5 916V979M1825.5 920.2V980.3M1826.5 921.5V980.4M1827.5 920.1V978.6M1828.5 915.2V985.7M1829.5 917.9V993.3M1830.5 917.2V986.1M1831.5 914.6V976M1832.5 922.3V978.3M1833.5 924.1V978.5M1834.5 917.3V983M1835.5 915V977M1836.5 911.7V978.3M1837.5 921.5V978.6M1838.5 910.3V981.1M1839.5 926.2V983.2M1840.5 920V975M1841.5 913.4V978.9M1842.5 904.2V975.7M1843.5 913.9V975M1844.5 913.7V994.3M1845.5 915.4V985.8M1846.5 924.3V982.3M1847.5 922.5V980.5M1848.5 909.5V994.3M1849.5 919.6V986.7M1850.5 909.4V984.3M1851.5 908.8V984.5M1852.5 916.2V988.6M1853.5 922.4V978.5M1854.5 920.6V977.7M1855.5 924V985.3M1856.5 921.6V974.7M1857.5 917.7V975M1858.5 918.7V977.4M1859.5 922.9V973.3M1860.5 910.5V988.8M1861.5 919.5V974.9M1862.5 917.4V980.3M1863.5 915.1V998.8M1864.5 915.7V986.8M1865.5 904.6V995.9M1866.5 908V988M1867.5 907.6V979.8M1868.5 915.9V982.2M1869.5 914.6V983.1M1870.5 924.4V979.9M1871.5 922.2V976.4M1872.5 909.4V982.1M1873.5 919.6V993.3M1874.5 911.4V979.2M1875.5 917.6V993.9M1876.5 914.9V983M1877.5 908.6V996.4M1878.5 909.2V987.2M1879.5 914.8V980.6M1880.5 910.5V995.9M1881.5 913.5V991.8M1882.5 918.4V988.8M1883.5 911.7V991.1M1884.5 919V979M1885.5 909.5V982.3M1886.5 913.9V991.4M1887.5 907.8V987.4M1888.5 909.5V982.4M1889.5 919.3V983.3M1890.5 920.1V980.9M1891.5 901.9V979.9M1892.5 923V987.7M1893.5 918.9V982.2M1894.5 910.9V987.8M1895.5 914V987.5M1896.5 920.7V977.6M1897.5 918.1V977.6M1898.5 918.3V976.2M1899.5 913V994M1900.5 913V986.5M1901.5 917.9V993.3M1902.5 918.9V986.6M1903.5 916.9V982.4M1904.5 918.9V984.4M1905.5 911.1V981.5M1906.5 912.2V983.4M1907.5 902.4V989.3M1908.5 917.3V984.6M1909.5 913.1V981.9M1910.5 916.7V979.8M1911.5 918.8V976.4M1912.5 904.9V983.2M1913.5 923.7V975.2M1914.5 917.6V977.4M1915.5 913.8V976.4M1916.5 905.1V975.1M1917.5 911.6V984M1918.5 909.6V977.2M1919.5 914.5V984M1920.5 923.9V981.9M1921.5 911.8V975.1M1922.5 916V979.1M1923.5 919.2V991.1M1924.5 921.2V976M1925.5 920.6V981.1M1926.5 913V977.4M1927.5 913V977.1M1928.5 912.4V981.2M1929.5 912.6V996M1930.5 912.9V980.2M1931.5 912.9V978.9M1932.5 910.4V984.1M1933.5 913.3V984.9M1934.5 919.6V977.3M1935.5 920.2V981.1M1936.5 923.4V985.7M1937.5 916.1V977.4M1938.5 917.7V974.8M1939.5 922.9V981.7M1940.5 918V975.1M1941.5 915.2V974.5M1942.5 917.2V983.2M1943.5 919.8V978.4M1944.5 924.8V978.2M1945.5 918.5V975.3M1946.5 916.5V980.4M1947.5 923.7V985.9M1948.5 924.1V976.1M1949.5 925.6V973.9M1950.5 920.1V974.4M1951.5 916.9V973.1M1952.5 924V973.1M1953.5 919.6V975.2M1954.5 920.4V972.9M1955.5 912.8V979.1M1956.5 912.9V982.2M1957.5 919.1V975M1958.5 924.1V975.7M1959.5 914.5V980.2M1960.5 923.9V983.1M1961.5 918.1V978.3M1962.5 916.4V985.2M1963.5 914.1V982.7M1964.5 916.4V985.6M1965.5 911.2V979.4M1966.5 925.3V983.7M1967.5 920.6V979.3M1968.5 918.2V984M1969.5 921.5V980M1970.5 914.6V975.3M1971.5 923.4V992.5M1972.5 908.1V983.2M1973.5 912.4V980.6M1974.5 924.2V976.5M1975.5 919.7V975.7M1976.5 925.4V975.8M1977.5 914.1V977.8M1978.5 921.5V978.1M1979.5 915.1V986.9M1980.5 921V980.6M1981.5 925.4V977.2M1982.5 913.4V985M1983.5 915.8V984.6M1984.5 920.9V979.9M1985.5 924.9V978.4M1986.5 915.1V998.2M1987.5 916.8V987.4M1988.5 917.2V977.8M1989.5 926.9V983M1990.5 917.2V978.4M1991.5 924.1V984.5M1992.5 919.3V980.3M1993.5 919.5V988.5M1994.5 925V978.8M1995.5 921.8V979.8M1996.5 923.4V988.1" stroke="#2e75b6" stroke-width="1" fill="none" opacity="0.9"/>
<path d="M1128.5 914.3V976.7M1129.5 916.2V975.1M1130.5 927.7V984.7M1131.5 913.5V970.3M1132.5 923.5V978.2M1133.5 927.4V979.2M1134.5 925.8V987.3M1135.5 923.4V973.7M1136.5 920.6V973.9M1137.5 922.2V985.6M1138.5 926V972.2M1139.5 922.5V972.8M1140.5 917.6V975.1M1141.5 926.4V980.5M1142.5 914V972.5M1143.5 911.3V989.2M1144.5 916.6V985.7M1145.5 923.4V973.9M1146.5 923.9V975.5M1147.5 922.8V987.7M1148.5 924V978.1M1149.5 916.8V984.2M1150.5 912V978.1M1151.5 923V973.7M1152.5 923.7V990.6M1153.5 923.4V977.2M1154.5 920.8V973.3M1155.5 910.9V983.4M1156.5 917.3V979.4M1157.5 920.4V978.1M1158.5 922.5V982.2M1159.5 925.1V978.2M1160.5 920.3V975.4M1161.5 923V981.5M1162.5 926.8V980.1M1163.5 927.6V981.6M1164.5 924.7V977.8M1165.5 920.6V970.7M1166.5 923.4V974.7M1167.5 925.2V975.4M1168.5 925.8V972.4M1169.5 927.3V988M1170.5 924.1V970.3M1171.5 929V974.4M1172.5 926.7V970M1173.5 927.9V974.8M1174.5 930.2V970.4M1175.5 925.3V971.8M1176.5 913.7V973M1177.5 922.8V972.4M1178.5 925V971.5M1179.5 927.8V972.3M1180.5 926.2V979.4M1181.5 929V976M1182.5 926.3V979.9M1183.5 921.8V979M1184.5 926.4V972.4M1185.5 928.7V972.1M1186.5 927.3V980.6M1187.5 925.1V972.4M1188.5 926V977.1M1189.5 919.4V974.9M1190.5 916.5V980.9M1191.5 905.4V983.3M1192.5 921.1V980.3M1193.5 913.7V976M1194.5 912.5V976.1M1195.5 920.1V974.4M1196.5 913.9V979.2M1197.5 923.2V975.7M1198.5 918.9V973.8M1199.5 913.4V991.3M1200.5 910.9V993.5M1201.5 924.7V978.7M1202.5 919.5V993.8M1203.5 924V984.1M1204.5 923.6V975.8M1205.5 916.7V979.9M1206.5 916.4V974.9M1207.5 909.8V981.7M1208.5 917V989.4M1209.5 920.6V986.2M1210.5 920.9V976.4M1211.5 915.4V976.7M1212.5 913.2V988.8M1213.5 921.7V983.5M1214.5 921V986.7M1215.5 920V980.1M1216.5 922V983.7M1217.5 919.8V980.6M1218.5 910.4V975.1M1219.5 920V994.3M1220.5 910V981.1M1221.5 918.2V995.3M1222.5 913.2V977.5M1223.5 914.7V983.5M1224.5 912.5V979.7M1225.5 915.1V981.2M1226.5 922V974.6M1227.5 916.5V976M1228.5 918.3V984.1M1229.5 914.8V978.3M1230.5 922.9V980.3M1231.5 923.1V976.2M1232.5 915.3V987.7M1233.5 923.3V979.3M1234.5 906.6V988.6M1235.5 920.6V986.1M1236.5 911.4V988.4M1237.5 904.2V981.5M1238.5 915.8V995.1M1239.5 918.4V978.4M1240.5 923.6V987M1241.5 921.4V1000.2M1242.5 918.3V985.9M1243.5 920.6V977.1M1244.5 912.9V978M1245.5 913.3V974M1246.5 922V985.1M1247.5 921.7V987.5M1248.5 921.4V990.4M1249.5 923.5V982.3M1250.5 906.7V974.3M1251.5 904.2V977.2M1252.5 908.8V979M1253.5 922.4V986.7M1254.5 906.2V995.1M1255.5 916.3V979.5M1256.5 920.3V978.1M1257.5 923.2V982.3M1258.5 912.7V980M1259.5 908.2V983.6M1260.5 917.9V982.1M1261.5 911.1V974.9M1262.5 923.7V976.3M1263.5 922.7V988.8M1264.5 916.4V977.4M1265.5 918.3V974.3M1266.5 915.7V978.6M1267.5 919.2V979.1M1268.5 916.8V988.7M1269.5 921.1V972.8M1270.5 924.3V980.1M1271.5 918.8V974.5M1272.5 926.6V975.8M1273.5 919.9V977.3M1274.5 925.7V974.2M1275.5 928.3V971.8M1276.5 923.4V981.2M1277.5 922.2V979M1278.5 919.7V987.4M1279.5 927.5V972.3M1280.5 929V974.7M1281.5 927.4V974.4M1282.5 920.4V977M1283.5 922.8V973.8M1284.5 928.1V976.8M1285.5 923.2V984.6M1286.5 909.5V985.6M1287.5 925.2V973.8M1288.5 922.6V971.8M1289.5 923.3V976.9M1290.5 922.5V977.5M1291.5 924.7V976.1M1292.5 922.4V983.4M1293.5 925.5V978M1294.5 912.5V992.6M1295.5 921.4V973.6M1296.5 926.5V972.5M1297.5 926.3V972.4M1298.5 925.6V974.7M1299.5 919.8V974.1M1300.5 925.6V971.6M1301.5 926V974.8M1302.5 916.9V974M1303.5 926V970.4M1304.5 922V984.2M1305.5 926.6V973.5M1306.5 916V984.3M1307.5 921.7V972M1308.5 920.1V981.7M1309.5 928.2V975.7M1310.5 929.1V976.2M1311.5 926.9V984.8M1312.5 927.6V974.3M1313.5 921.3V969.8M1314.5 929.9V977.8M1315.5 927.8V976.8M1316.5 929.3V973M1317.5 929.3V972.7M1318.5 918.9V973.7M1319.5 914.2V975.2M1320.5 921.4V973.3M1321.5 918.7V985.6M1322.5 926.4V977.3M1323.5 927.3V973.5M1324.5 927.4V972.3M1325.5 923.4V971.4M1326.5 927.6V968.9M1327.5 929.2V969M1328.5 926.4V984.2M1329.5 919V975.6M1330.5 914.3V979.1M1331.5 926.1V971.5M1332.5 927.4V976.3M1333.5 923.1V971.2M1334.5 917.6V978.2M1335.5 928.4V975.6M1336.5 917.6V969.3M1337.5 927.8V969.4M1338.5 926.8V978.2M1339.5 927.7V980.7M1340.5 926.9V969.5M1341.5 929.2V970.4M1342.5 922.5V972.2M1343.5 929.2V971M1344.5 923.2V972.3M1345.5 912.5V971.5M1346.5 910.2V970.5M1347.5 908.1V978.6M1348.5 920.6V978.1M1349.5 923.3V979.5M1350.5 923.9V972.1M1351.5 918.1V980.2M1352.5 926.1V973.5M1353.5 918.3V976.6M1354.5 919.7V970.9M1355.5 926.7V977.9M1356.5 919.6V975.9M1357.5 918.9V972.4M1358.5 925.4V969.9M1359.5 928.2V973.1M1360.5 927V976.6M1361.5 923.9V974.1M1362.5 927V976.2M1363.5 927.8V970.7M1364.5 928.8V974M1365.5 921.6V976.7M1366.5 925.9V979.2M1367.5 928.3V988.5M1368.5 925.7V986.8M1369.5 919.6V974.7M1370.5 927.1V973.2M1371.5 929.5V969.2M1372.5 924.7V971M1373.5 926.7V969.4M1374.5 923.8V983.7M1375.5 920.6V977.8M1376.5 924.4V978M1377.5 910.7V972.1M1378.5 926.3V972.8M1379.5 919.1V972.4M1380.5 922.5V990M1381.5 921.1V970.9M1382.5 915.7V971.3M1383.5 922.3V979.8M1384.5 922.3V996.4M1385.5 912.3V971.6M1386.5 916.7V975.6M1387.5 924.7V973.7M1388.5 915.3V978M1389.5 926V979.9M1390.5 917.6V979.7M1391.5 923.5V985.6M1392.5 912.8V975.7M1393.5 924.6V973.4M1394.5 916.6V990.1M1395.5 920.7V981.3M1396.5 918.3V984.5M1397.5 925.1V983.5M1398.5 917.3V973.6M1399.5 922.7V976M1400.5 923.4V983.2M1401.5 908V973.5M1402.5 921.9V975.6M1403.5 918.1V976.4M1404.5 925V990.9M1405.5 925.1V980.2M1406.5 923.3V978.5M1407.5 909.3V978.6M1408.5 923.9V977.1M1409.5 921.9V975M1410.5 922.2V976.7M1411.5 913.4V987.6M1412.5 923.2V984.1M1413.5 923.1V979.4M1414.5 925.2V974.8M1415.5 924.7V973.4M1416.5 921.2V974.5M1417.5 926.3V974.4M1418.5 919.7V975.7M1419.5 924.7V972.3M1420.5 913.1V978.1M1421.5 918.4V984.6M1422.5 921.5V972.3M1423.5 892.9V982.8M1424.5 912.6V976.5M1425.5 925.7V982.4M1426.5 922.5V978.8M1427.5 911.7V972.9M1428.5 926.9V974.7M1429.5 927V984.1M1430.5 927.8V975.3M1431.5 922.5V981.1M1432.5 927.5V976.9M1433.5 918.6V981.2M1434.5 923.5V974.4M1435.5 916.2V980.2M1436.5 924.9V970.6M1437.5 923.1V973.9M1438.5 926.7V972.9M1439.5 925V977.8M1440.5 918.1V977.1M1441.5 921.1V979.8M1442.5 921.8V981.9M1443.5 915.7V984.1M1444.5 921.8V972.5M1445.5 920.5V975.9M1446.5 919V978.2M1447.5 919.6V972.6M1448.5 923.6V981.5M1449.5 914.4V974.4M1450.5 913.2V979M1451.5 918V983.2M1452.5 920.7V978.1M1453.5 914.7V988.5M1454.5 913.1V984.3M1455.5 924.1V974M1456.5 913.8V980M1457.5 915V991.2M1458.5 906.1V982.7M1459.5 918.5V975.1M1460.5 913.4V983M1461.5 903.9V980.8M1462.5 917.1V983.3M1463.5 922.4V984.2M1464.5 923.7V993.9M1465.5 922.4V975.8M1466.5 922.9V975.3M1467.5 919V977.8M1468.5 917.8V984.1M1469.5 920.3V985.4M1470.5 923.5V978.7M1471.5 918.5V978.6M1472.5 923.3V979.3M1473.5 918.8V993.5M1474.5 912.7V982.3M1475.5 923.4V992.8M1476.5 917.2V979.2M1477.5 918.3V985.9M1478.5 917.1V976.2M1479.5 921.6V991.4M1480.5 915V975.3M1481.5 916.4V977.6M1482.5 916.3V978.9M1483.5 919.9V982.3M1484.5 922.4V981.3M1485.5 924.4V976.4M1486.5 924.1V988.2M1487.5 917V980.1M1488.5 925.9V981.2M1489.5 914.1V976.5M1490.5 917V977.1M1491.5 924.2V975.6M1492.5 906.9V977.8M1493.5 917.8V976.2M1494.5 926.9V978.9M1495.5 917V972.8M1496.5 925.7V975.6M1497.5 920.2V982.5M1498.5 913.7V971.3M1499.5 928.3V974.5M1500.5 924V970.9M1501.5 925V974.1M1502.5 921.4V972.4M1503.5 926.3V971M1504.5 924.6V972.7M1505.5 926.5V975.4M1506.5 923.2V970M1507.5 927.2V985M1508.5 918.9V975.1M1509.5 928.4V986.9M1510.5 926.9V974.2M1511.5 918.7V979.4M1512.5 922.3V980.9M1513.5 915.6V970.9M1514.5 927.8V973M1515.5 926.2V974.5M1516.5 926.3V981M1517.5 925.7V972M1518.5 909.7V975.5M1519.5 919.5V976.9M1520.5 924.8V985.2M1521.5 912.3V972.6M1522.5 927.2V972.5M1523.5 913.6V981.2M1524.5 928.9V976M1525.5 922.6V969.8M1526.5 927.3V970.1M1527.5 922.6V972.6M1528.5 926.5V975.6M1529.5 926.8V973.7M1530.5 918.7V982.9M1531.5 924.3V971.3M1532.5 922.3V973.3M1533.5 922V974.6M1534.5 920.4V981.4M1535.5 920.7V984.6M1536.5 924.6V973.2M1537.5 924.1V971.6M1538.5 928.4V974.9M1539.5 921.4V974.4M1540.5 927.2V970.1M1541.5 928.6V974.8M1542.5 920.6V975.9M1543.5 924.6V972.4M1544.5 925.1V980M1545.5 913V980.8M1546.5 923.1V973.5M1547.5 925.2V988.3M1548.5 922.4V980.9M1549.5 915.6V980.8M1550.5 925.9V983.6M1551.5 925.6V973.9M1552.5 922.6V970.8M1553.5 924.9V979.2M1554.5 925.2V973.3M1555.5 928.6V983.2M1556.5 918.6V975.9M1557.5 925.4V970.2M1558.5 928.7V973.4M1559.5 926.2V973.4M1560.5 928.7V975.3M1561.5 929V973.3M1562.5 923.1V976.6M1563.5 921.8V981.9M1564.5 927.4V971.8M1565.5 928.3V977M1566.5 929V980.3M1567.5 925.1V974.9M1568.5 926.1V981.7M1569.5 920.4V978.6M1570.5 924.5V976.7M1571.5 921.9V971.3M1572.5 922.1V976.1M1573.5 920.8V973.7M1574.5 928.4V980.3M1575.5 925.8V970.3M1576.5 923.5V973.2M1577.5 924V970.9M1578.5 928.8V978.7M1579.5 925.3V970.7M1580.5 928.4V985.7M1581.5 924.2V972.3M1582.5 913V982.8M1583.5 915.9V983.7M1584.5 922.9V989.5M1585.5 925.4V983.8M1586.5 917.9V983.3M1587.5 928.3V985.6M1588.5 925.4V973.2M1589.5 929.2V973.5M1590.5 928.6V970.8M1591.5 920.1V973M1592.5 921.8V989.3M1593.5 924.8V971.8M1594.5 922.2V974.1M1595.5 918.5V975.4M1596.5 919.4V979.8M1597.5 917.5V979.9M1598.5 923.7V972.4M1599.5 911.9V976.2M1600.5 923.9V988.1M1601.5 921V974.8M1602.5 910.9V977.1M1603.5 923.1V990.1M1604.5 919.1V976.2M1605.5 917.9V985.1M1606.5 920.5V987.8M1607.5 911.6V984.9M1608.5 913.8V973.5M1609.5 918V999.7M1610.5 911V975M1611.5 926V986.5M1612.5 926.3V972.6M1613.5 918.3V977.5M1614.5 925.7V980.5M1615.5 919.3V976.5M1616.5 927.7V987.7M1617.5 921.3V977.1M1618.5 915.5V982.7M1619.5 916.7V971M1620.5 921V974.4M1621.5 924.9V974.7M1622.5 926.7V977.3M1623.5 926V970.5M1624.5 919.2V987.6M1625.5 926.6V972.7M1626.5 912.1V976.2M1627.5 927.2V977.8M1628.5 913.9V978.7M1629.5 921.6V975.4M1630.5 911.7V975.7M1631.5 925V976.7M1632.5 921.8V973.5M1633.5 921.7V975.1M1634.5 924.7V971.8M1635.5 925.6V975.6M1636.5 924.9V973.1M1637.5 922.1V974.1M1638.5 923.8V977M1639.5 912.6V973.3M1640.5 925.1V978.9M1641.5 927.2V976.2M1642.5 926.3V975.3M1643.5 920.6V977.9M1644.5 914.6V971.5M1645.5 923.8V973M1646.5 922.2V986.2M1647.5 917.8V980.5M1648.5 927.7V974.1M1649.5 924.4V970.4M1650.5 929.1V974.2M1651.5 927.3V973.8M1652.5 923.4V979.4M1653.5 917.5V973.5M1654.5 920.6V978.6M1655.5 926V974.4M1656.5 928.8V974.8M1657.5 919.6V973M1658.5 922.4V978.4M1659.5 925.6V976.5M1660.5 919.7V983.1M1661.5 922.6V973.6M1662.5 924.2V982.6M1663.5 918.2V975.7M1664.5 922.6V981.3M1665.5 915.4V974.6M1666.5 925V984.2M1667.5 926.3V973.1M1668.5 921.6V976M1669.5 915.7V978.3M1670.5 918.1V985.6M1671.5 913.9V973.6M1672.5 921V980.3M1673.5 903.4V975.9M1674.5 918.1V975.4M1675.5 923.2V988.3M1676.5 910.5V981.4M1677.5 923.4V990.7M1678.5 918.7V975.3M1679.5 919.3V975.9M1680.5 920.6V975.9M1681.5 923.7V986.8M1682.5 925.4V979.9M1683.5 921.4V977.9M1684.5 925.6V991.3M1685.5 912.5V973.1M1686.5 921.6V983.5M1687.5 924.4V979.5M1688.5 915.8V978.2M1689.5 918.4V975.3M1690.5 906.7V977.3M1691.5 924.4V986.3M1692.5 914.6V990.9M1693.5 915.2V988.2M1694.5 904.7V976.8M1695.5 919.6V973.2M1696.5 922.4V973.6M1697.5 910.2V975.1M1698.5 917.7V974.4M1699.5 914.6V990.2M1700.5 914.9V981.2M1701.5 924.3V979M1702.5 913.8V976.8M1703.5 926.3V976.5M1704.5 919.7V981.2M1705.5 920V975.8M1706.5 927.7V977.1M1707.5 925.5V1000.2M1708.5 922V990.1M1709.5 918.7V973.5M1710.5 918.6V975.6M1711.5 915.4V989.4M1712.5 911.6V979.4M1713.5 913.6V974.9M1714.5 917.2V974.8M1715.5 922.2V976M1716.5 913.6V987.3M1717.5 899.3V977.1M1718.5 914.3V973.3M1719.5 908.1V975M1720.5 923.3V979.1M1721.5 915.3V978.4M1722.5 920.4V980.7M1723.5 923V983.9M1724.5 923.6V977.2M1725.5 916.8V980.5M1726.5 923.1V976.9M1727.5 922.2V974.8M1728.5 922.9V977.4M1729.5 925.2V978.1M1730.5 912.6V979M1731.5 918.9V980.5M1732.5 925V980.7M1733.5 921.6V989.9M1734.5 922.3V975.3M1735.5 918.1V979.1M1736.5 914.2V985.1M1737.5 920.2V990.4M1738.5 912.3V985.6M1739.5 919.8V981M1740.5 914.4V981.5M1741.5 923.6V990.7M1742.5 918.2V977.2M1743.5 917.6V984.5M1744.5 907.2V977.7M1745.5 918.9V992.9M1746.5 911V988.4M1747.5 921.5V976.3M1748.5 918.5V980.7M1749.5 919.9V982.9M1750.5 917.2V985.1M1751.5 919.8V984.4M1752.5 915.5V974.8M1753.5 923V976.3M1754.5 923.5V980.6M1755.5 908.5V988.6M1756.5 922.3V980.2M1757.5 910.4V980.2M1758.5 911V985.9M1759.5 914.6V976.9M1760.5 921.9V980.2M1761.5 916V975.2M1762.5 919V986.9M1763.5 923.4V987.1M1764.5 918.1V976.1M1765.5 917.6V985.9M1766.5 922.4V984.5M1767.5 917V984.9M1768.5 909.5V988.6M1769.5 914.9V983.7M1770.5 920.4V974.4M1771.5 915.8V981.9M1772.5 913.7V980.6M1773.5 917.6V990M1774.5 923.1V984.9M1775.5 913.6V986.1M1776.5 921.2V976M1777.5 921.8V978.4M1778.5 922.2V983.9M1779.5 922V975.7M1780.5 917.5V982.7M1781.5 918.5V977.3M1782.5 919.1V978.5M1783.5 919.5V974.7M1784.5 917.8V981.9M1785.5 924.3V976.5M1786.5 923.2V980.3M1787.5 920.3V982.5M1788.5 919.3V972.6M1789.5 926V976.2M1790.5 926.2V980.5M1791.5 926.8V977.6M1792.5 926.4V981.5M1793.5 922.4V973.9M1794.5 917.7V974.3M1795.5 915.6V971.4M1796.5 921.8V983.7M1797.5 927.1V971.3M1798.5 926.4V974.4M1799.5 921.6V976.4M1800.5 918.4V985.6M1801.5 915.1V987M1802.5 925.8V983.1M1803.5 923.2V975M1804.5 912.4V972.2M1805.5 923.7V976.5M1806.5 928V969.6M1807.5 929.3V973M1808.5 921.4V969.7M1809.5 929.3V975.5M1810.5 919.7V982.8M1811.5 918.7V971.7M1812.5 921.7V986.1M1813.5 928.9V971.5M1814.5 921.8V985.3M1815.5 920V970.3M1816.5 926.2V983.6M1817.5 914.5V975.1M1818.5 924V980.9M1819.5 920.6V976.3M1820.5 911.7V986.1M1821.5 923.9V977.9M1822.5 918.2V978.8M1823.5 924.2V975.7M1824.5 925.7V975.7M1825.5 925.7V974.4M1826.5 926.9V976.7M1827.5 925.5V975.7M1828.5 918.6V980.1M1829.5 921.2V984.3M1830.5 922V972.4M1831.5 924.5V974.5M1832.5 925.8V973.1M1833.5 927.3V975.9M1834.5 918.8V975.2M1835.5 917.4V972.7M1836.5 914.7V974.6M1837.5 926.1V972.1M1838.5 918.1V975.8M1839.5 928.2V981.1M1840.5 926.4V970M1841.5 919.9V974.5M1842.5 909.4V973.5M1843.5 921.4V970.7M1844.5 920.7V990.4M1845.5 920.7V979.9M1846.5 926.6V977.7M1847.5 924.1V976.3M1848.5 912.5V983.9M1849.5 922.9V975.2M1850.5 915.4V980.5M1851.5 912.2V982.6M1852.5 921.3V978.8M1853.5 927V976.4M1854.5 923.6V971.7M1855.5 929.6V972.8M1856.5 924V969.7M1857.5 921.9V971.3M1858.5 922.9V970.6M1859.5 927.5V970.7M1860.5 914.3V984.9M1861.5 927.6V971.4M1862.5 924.4V975M1863.5 925.3V993.9M1864.5 919.7V979.7M1865.5 911V990.7M1866.5 916.1V984.2M1867.5 919.1V973.9M1868.5 919.8V975.2M1869.5 916.7V973.2M1870.5 926.3V974.1M1871.5 925.4V972.8M1872.5 918.7V980.1M1873.5 921.3V991.6M1874.5 915.8V972.9M1875.5 920.5V981.8M1876.5 923.3V978M1877.5 913.7V986.8M1878.5 912V974.8M1879.5 916.8V977.3M1880.5 916.2V989.1M1881.5 916.2V986.4M1882.5 925.1V974M1883.5 914.3V985.2M1884.5 922.1V973.9M1885.5 914.5V980.3M1886.5 917.8V982.5M1887.5 913.7V974.9M1888.5 922.8V979.3M1889.5 922.5V974M1890.5 923.5V976.8M1891.5 911V976.1M1892.5 925V984M1893.5 922.7V978.7M1894.5 920.9V982M1895.5 916.1V980M1896.5 925.1V973.7M1897.5 924.9V975.4M1898.5 925V974.1M1899.5 915.5V987.5M1900.5 916V979.3M1901.5 924.6V983.5M1902.5 922.6V984.7M1903.5 920V977.4M1904.5 922.4V975.6M1905.5 918.3V977.1M1906.5 921.8V977.1M1907.5 914.5V981.3M1908.5 921.1V982.5M1909.5 925.9V979.4M1910.5 918.4V975.8M1911.5 922.8V972.7M1912.5 917.2V977.3M1913.5 926.2V973.2M1914.5 923.4V971.9M1915.5 916.1V974.7M1916.5 914.2V970.8M1917.5 915.5V977.5M1918.5 917.5V974M1919.5 925.8V973.4M1920.5 927.8V977.1M1921.5 916.4V971.5M1922.5 923.9V976.9M1923.5 925.3V984.7M1924.5 926.5V972M1925.5 923.3V977.4M1926.5 915.4V972.9M1927.5 915.4V973.9M1928.5 917.1V978.7M1929.5 916.5V986.8M1930.5 914.7V975.7M1931.5 916.5V975.8M1932.5 918.8V980.9M1933.5 919.7V981.7M1934.5 926.9V971.6M1935.5 926.7V975.6M1936.5 927.6V971.6M1937.5 918.9V975.2M1938.5 921.5V972.5M1939.5 927.2V978.8M1940.5 924.7V971.3M1941.5 922V971.4M1942.5 919.2V975.4M1943.5 926.6V972.3M1944.5 927.6V974.5M1945.5 922.6V973.2M1946.5 921.1V977.3M1947.5 926V975.8M1948.5 927.1V972.9M1949.5 927.6V969.7M1950.5 926.7V972.2M1951.5 924.1V969.3M1952.5 928.1V971.2M1953.5 922.2V972.3M1954.5 924.1V970.4M1955.5 920.6V976M1956.5 921.1V977.2M1957.5 924.5V971.5M1958.5 929.1V970.2M1959.5 919V970.3M1960.5 927.5V979.8M1961.5 924.3V976.4M1962.5 922.6V982.4M1963.5 919.8V977.9M1964.5 923.1V981.5M1965.5 916.8V971.3M1966.5 927.4V975.1M1967.5 925.6V971.5M1968.5 924.5V981.2M1969.5 924.6V971.6M1970.5 917.9V972.6M1971.5 927V985.2M1972.5 916.8V973.5M1973.5 924.2V977.3M1974.5 925.6V971.5M1975.5 921.9V970.9M1976.5 928.4V973.5M1977.5 920.4V971.9M1978.5 925.2V973.4M1979.5 916.5V980.2M1980.5 925.4V975.9M1981.5 927.4V973M1982.5 922.6V977.8M1983.5 922.7V978.8M1984.5 923.8V977M1985.5 926.7V973.8M1986.5 922.3V988.5M1987.5 918.7V983.4M1988.5 921.8V972.9M1989.5 928.4V980.3M1990.5 924V971.7M1991.5 927.5V982.8M1992.5 923.1V975.9M1993.5 926.7V985.3M1994.5 927.8V975.1M1995.5 925.5V976M1996.5 926.5V984.8" stroke="#2e75b6" stroke-width="1.4" fill="none"/>
<path d="M1128.6 1113.2H1299.5v-11.9 h4.8v-11.9 h4.8v-11.9 h4.8v-11.9 h4.8H1461v-12.2 h6.3v-12.2 h6.3v-12.2 h6.3v-12.2 h6.3H1631.7v-12 h6.1v-12 h6.1v-12 h6.1v-12 h6.1H1801.3v-12.4 h6.6v-12.4 h6.6v-12.4 h6.6v-12.4 h6.6H1997.7" stroke="#d4582a" stroke-width="5.6" fill="none" stroke-linejoin="round"/>
<path d="M1128.6 870.4L1997.7 870.4" stroke="#4a4a4a" stroke-width="1.5"/>
<path d="M1128.6 1115.2L1997.7 1115.2" stroke="#4a4a4a" stroke-width="1.5"/>
<path d="M1128.6 870.4L1128.6 1115.2" stroke="#3f7fbf" stroke-width="1.3"/>
<path d="M1997.7 870.4L1997.7 1115.2" stroke="#d88a6a" stroke-width="1.3"/>
<path d="M1251.7 1115.2v-13M1374.8 1115.2v-13M1497.9 1115.2v-13M1621 1115.2v-13M1744.1 1115.2v-13M1867.2 1115.2v-13M1990.3 1115.2v-13" stroke="#4a4a4a" stroke-width="1.4" fill="none"/>
<path d="M1251.7 870.4v13M1374.8 870.4v13M1497.9 870.4v13M1621 870.4v13M1744.1 870.4v13M1867.2 870.4v13M1990.3 870.4v13" stroke="#4a4a4a" stroke-width="1.4" fill="none"/>
<path d="M1128.6 871.9h9M1128.6 1022.7h9M1128.6 1098h9" stroke="#3f7fbf" stroke-width="1.4" fill="none"/>
<path d="M1997.7 992h-9M1997.7 1052.5h-9" stroke="#d88a6a" stroke-width="1.4" fill="none"/>
<text x="1119.4" y="887.4" font-size="22.5" text-anchor="end">50</text>
<text x="1109.4" y="1116" font-size="22.5" text-anchor="end">-100</text>
<text transform="translate(1089.1 990.4) rotate(-90)" font-size="26" text-anchor="middle" textLength="193" lengthAdjust="spacingAndGlyphs">Amplitude [µVp]</text>
<text x="1138.3" y="1136.5" font-size="22.5" text-anchor="middle">0</text>
<text x="1249.5" y="1136.5" font-size="22.5" text-anchor="middle">50</text>
<text x="1371.7" y="1136.5" font-size="22.5" text-anchor="middle">100</text>
<text x="1494" y="1136.5" font-size="22.5" text-anchor="middle">150</text>
<text x="1616" y="1136.5" font-size="22.5" text-anchor="middle">200</text>
<text x="1738.2" y="1136.5" font-size="22.5" text-anchor="middle">250</text>
<text x="1860.5" y="1136.5" font-size="22.5" text-anchor="middle">300</text>
<text x="1974.3" y="1136.5" font-size="22.5" text-anchor="middle">350</text>
<text x="1598.6" y="1165.9" font-size="26" text-anchor="middle" textLength="93.5" lengthAdjust="spacingAndGlyphs">Time [s]</text>
<text x="2007.7" y="893.2" font-size="22.5">2</text>
<text x="2005.6" y="1121.3" font-size="22.5">0</text>
<text transform="translate(2043.1 998.7) rotate(-90)" font-size="26" text-anchor="middle" textLength="186" lengthAdjust="spacingAndGlyphs">Amplitude [mA]</text>
<text x="1584.2" y="1214.7" font-size="28.8" text-anchor="middle" textLength="324" lengthAdjust="spacingAndGlyphs">Streaming: spectrogram</text>
<g filter="url(#ff20)"><use href="#bf2"/></g>
<rect x="1127.3" y="1236.5" width="873.7" height="241.5" fill="#fff" opacity="0.1"/>
<rect x="1127.3" y="1230.5" width="873.7" height="247.5" fill="none" stroke="#4e5a40" stroke-width="1.4"/>
<path d="M1251.3 1478v-13M1374.4 1478v-13M1498.5 1478v-13M1622 1478v-13M1745.6 1478v-13M1869 1478v-13M1994.5 1478v-13" stroke="#3c3c3c" stroke-width="1.3" fill="none"/>
<path d="M1251.3 1230.5v7M1374.4 1230.5v7M1498.5 1230.5v7M1622 1230.5v7M1745.6 1230.5v7M1869 1230.5v7M1994.5 1230.5v7" stroke="#3c3c3c" stroke-width="1.3" fill="none"/>
<path d="M1127.3 1279.2h9M1127.3 1319.4h9M1127.3 1359.6h9M1127.3 1399.8h9M1127.3 1440h9" stroke="#2c3c5c" stroke-width="1.3" fill="none"/>
<path d="M2001 1279.2h-9M2001 1319.4h-9M2001 1359.6h-9M2001 1399.8h-9M2001 1440h-9" stroke="#2c3c5c" stroke-width="1.3" fill="none"/>
<rect x="2013.7" y="1230.5" width="21" height="249" fill="url(#cbf2)"/>
<text x="1107.6" y="1254.2" font-size="22.5" text-anchor="end">120</text>
<text x="1117.3" y="1486.9" font-size="22.5" text-anchor="end">0</text>
<text transform="translate(1089.1 1359.3) rotate(-90)" font-size="26" text-anchor="middle" textLength="176" lengthAdjust="spacingAndGlyphs">Frequency [Hz]</text>
<text x="1137.3" y="1500" font-size="22.5" text-anchor="middle">0</text>
<text x="1251.3" y="1500" font-size="22.5" text-anchor="middle">50</text>
<text x="1373.6" y="1500" font-size="22.5" text-anchor="middle">100</text>
<text x="1496" y="1500" font-size="22.5" text-anchor="middle">150</text>
<text x="1618" y="1500" font-size="22.5" text-anchor="middle">200</text>
<text x="1740.8" y="1500" font-size="22.5" text-anchor="middle">250</text>
<text x="1862.6" y="1500" font-size="22.5" text-anchor="middle">300</text>
<text x="1978.8" y="1500" font-size="22.5" text-anchor="middle">350</text>
<text x="1585" y="1528" font-size="26" text-anchor="middle" textLength="93.5" lengthAdjust="spacingAndGlyphs">Time [s]</text>
<text x="2039.7" y="1246.2" font-size="22.5">10</text>
<text x="2039.7" y="1482.3" font-size="22.5">-40</text>
<text transform="translate(2066.7 1346) rotate(-90)" font-size="26" text-anchor="middle" textLength="84.2" lengthAdjust="spacingAndGlyphs">[dB/Hz]</text>
<text x="1567.5" y="1562" font-size="28.8" text-anchor="middle" textLength="417.7" lengthAdjust="spacingAndGlyphs">Streaming: accelerometer data</text>
<path d="M1126.7 1576.5L2001 1576.5" stroke="#333" stroke-width="2.6"/>
<path d="M1126.7 1825.7L2001 1825.7" stroke="#404040" stroke-width="1.6"/>
<path d="M1126.7 1576.8L1126.7 1825.7" stroke="#505050" stroke-width="1.4"/>
<path d="M2001 1576.8L2001 1825.7" stroke="#505050" stroke-width="1.4"/>
<path d="M1251.3 1576.8v19M1375.7 1576.8v19M1499.2 1576.8v19M1623 1576.8v19M1747.7 1576.8v19M1871 1576.8v19M1995.6 1576.8v19" stroke="#505050" stroke-width="1.5" fill="none"/>
<path d="M1251.3 1825.7v-17M1375.7 1825.7v-17M1499.2 1825.7v-17M1623 1825.7v-17M1747.7 1825.7v-17M1871 1825.7v-17M1995.6 1825.7v-17" stroke="#505050" stroke-width="1.5" fill="none"/>
<path d="M1126.7 1583.6h10M1126.7 1705h10" stroke="#404040" stroke-width="1.6" fill="none"/>
<path d="M2001 1583.6h-8M2001 1705h-8" stroke="#404040" stroke-width="1.6" fill="none"/>
<path d="M1127.2 1825.5L1130.7 1822.3L1133 1751.3L1135.2 1637L1136.5 1688.2L1137.8 1819.7L1139.9 1825.5L1142.5 1822.3L1145.7 1796L1149.6 1744.8L1151.5 1793.4L1153.6 1803.9L1155.7 1782.9L1157.5 1730.3L1159.3 1658L1162.8 1656.7L1164.9 1637L1166.7 1743.4L1169.3 1672.5L1170.9 1633L1172.2 1578.4L1174.1 1635.7L1175.1 1788.1L1177.2 1814.4L1181.2 1823.6L1183.8 1817.1L1189 1816.5L1194.3 1818.4L1199 1805.2L1202.2 1821L1206.1 1822.3L1209.3 1825.5L1211.5 1825.2L1213.8 1825.3L1216 1825.4L1218.3 1825.2L1220.5 1824.4L1222.8 1825.1L1225 1825.5L1227.2 1824.8L1229.5 1825.3L1231.7 1825.1L1234 1825L1236.2 1825.2L1238.5 1824L1240.7 1825.4L1243 1825.3L1245.2 1824.5L1247.5 1825.5L1249.7 1825.2L1251.9 1824.8L1254.2 1825.5L1256.4 1825L1258.7 1825.4L1260.9 1824.1L1263.2 1825L1265.4 1824.9L1267.7 1824.7L1269.9 1825.2L1272.2 1824.3L1274.4 1825.3L1276.6 1824.9L1278.9 1825.2L1281.1 1825L1283.4 1824.6L1285.6 1824.6L1287.9 1825.3L1290.1 1825.1L1292.4 1825.5L1294.6 1825.3L1296.9 1825.3L1299.1 1825.4L1301.3 1825.2L1303.6 1825.3L1305.8 1825L1308.1 1824.2L1310.3 1824.7L1312.6 1825.2L1314.8 1825.1L1317.1 1824.9L1321.8 1810.5L1324.4 1751.3L1328.4 1708.7L1330.2 1751.3L1333.1 1670.4L1336.3 1773.7L1338.9 1693.5L1340.7 1592.3L1342.8 1727.7L1346 1805.2L1350.7 1735.6L1352.8 1796L1354.9 1817.1L1357.5 1825.5L1359.8 1824.9L1362 1825.1L1364.2 1824.6L1366.4 1824.9L1368.6 1825L1370.8 1824.8L1373 1824.9L1375.2 1824.8L1377.4 1824.4L1379.6 1824.9L1381.9 1824.2L1384.1 1825.2L1386.3 1824.9L1388.5 1825L1390.7 1824.8L1392.9 1825.1L1395.1 1824.6L1397.3 1825.2L1399.5 1824.3L1401.7 1825.3L1404 1824.7L1406.2 1824.7L1408.4 1825.2L1410.6 1825.4L1412.8 1825.5L1415 1824.3L1417.2 1824.9L1419.4 1824.8L1421.6 1824.4L1423.8 1825.4L1426.1 1825.5L1428.3 1825.2L1430.5 1825.1L1432.7 1825.3L1434.9 1825.3L1437.1 1825.1L1439.3 1824.7L1441.5 1825.4L1443.7 1824.7L1445.9 1824L1448.2 1824.7L1450.4 1825.3L1452.6 1824.6L1454.8 1825.1L1457 1824.3L1459.2 1825.4L1461.4 1824.3L1463.6 1825.4L1465.8 1825.2L1468 1824.5L1470.3 1824.6L1472.5 1825.2L1474.7 1825.3L1476.9 1825L1479.1 1825.1L1481.3 1824.9L1483.5 1824.9L1485.7 1824.8L1487.9 1824.9L1492.7 1805.2L1494.8 1811.8L1497.9 1719.8L1499.8 1680.4L1502.1 1673L1504.8 1740.8L1507.1 1794.7L1509.8 1744.8L1512.4 1756.6L1515 1801.3L1516.9 1819.7L1521.1 1795.5L1523.7 1819.7L1528.7 1825.5L1530.9 1825.4L1533.2 1825.4L1535.4 1825.1L1537.6 1825.4L1539.9 1824.5L1542.1 1825.4L1544.3 1825.3L1546.6 1824.1L1548.8 1824.9L1551.1 1825.2L1553.3 1825.3L1555.5 1824.8L1557.8 1825.4L1560 1824.6L1562.2 1824.8L1564.5 1823.7L1566.7 1825.2L1569 1825.5L1571.2 1825L1573.4 1825.3L1575.7 1824.5L1577.9 1825L1580.1 1825.1L1582.4 1825.4L1584.6 1824.6L1586.8 1825.4L1589.1 1825.2L1591.3 1825L1593.6 1824.5L1595.8 1825L1598 1824.9L1600.3 1825.1L1602.5 1825.2L1604.7 1825.4L1607 1824.8L1609.2 1825.3L1611.5 1824.7L1613.7 1823.9L1615.9 1825.2L1618.2 1825.5L1620.4 1825.3L1622.6 1825.3L1624.9 1825.2L1627.1 1825.2L1629.3 1824.8L1631.6 1824.6L1633.8 1825.1L1636.1 1825.4L1638.3 1825.1L1640.5 1825L1642.8 1824.4L1645 1825.4L1647.2 1824.9L1649.5 1825.2L1651.7 1824.6L1654 1824.9L1656.2 1825.2L1658.4 1825.3L1660.7 1824.9L1662.8 1807.9L1664.6 1811.8L1666.5 1803.9L1668.6 1748.7L1669.3 1690.9L1671.2 1684.3L1673 1718.5L1675.7 1657.2L1677.2 1704L1679.6 1756.6L1682.5 1792.1L1685.1 1693.5L1687.2 1751.3L1688.3 1805.2L1690.9 1811.8L1695.4 1798.7L1698.8 1822.3L1701.7 1825.5L1703.9 1824.4L1706.1 1825.3L1708.3 1825L1710.5 1825L1712.7 1824.9L1714.9 1824L1717.2 1825.5L1719.4 1825.2L1721.6 1825.3L1723.8 1825.1L1726 1825.3L1728.2 1825.3L1730.4 1824.8L1732.6 1825.3L1734.8 1825.1L1737.1 1825.3L1739.3 1825.5L1741.5 1825L1743.7 1824.7L1745.9 1825.4L1748.1 1824.8L1750.3 1825.1L1752.5 1825.2L1754.7 1824.4L1757 1825.4L1759.2 1825.4L1761.4 1825.3L1763.6 1824.5L1765.8 1824.7L1768 1825.4L1770.2 1825.2L1772.4 1824.6L1774.6 1824.8L1776.9 1825.3L1779.1 1824.5L1781.3 1824.5L1783.5 1824.1L1785.7 1825.2L1787.9 1825.3L1790.1 1825.2L1792.3 1825L1794.6 1825.1L1796.8 1825.3L1799 1824.7L1801.2 1824.7L1803.4 1825.4L1805.6 1825.4L1807.8 1825.4L1810 1825.2L1812.2 1825.3L1814.5 1824.8L1816.7 1825.3L1818.9 1825.4L1821.1 1825.3L1823.3 1825.4L1825.5 1825.1L1827.7 1825.1L1829.9 1825.1L1832.1 1825.4L1834.4 1824.8L1836.6 1825.3L1838.8 1825.1L1841 1824.9L1843.2 1825.3L1845.4 1824.3L1847.6 1824.2L1849.8 1824.7L1852 1824.9L1856.5 1805.2L1859.9 1785.5L1861.8 1704L1864.1 1625.7L1866.2 1719.8L1868.3 1729L1871.5 1630.9L1873.6 1740.8L1876.8 1752.6L1880.2 1785.5L1882 1809.2L1884.1 1787.6L1886.7 1824.9L1889.4 1824.9L1892.5 1764.5L1894.4 1711.1L1895.9 1756.6L1897.3 1819.7L1900.4 1825.5L1902.7 1825.4L1904.9 1824.7L1907.1 1825.3L1909.4 1825L1911.6 1824.6L1913.8 1824.7L1916.1 1824.8L1918.3 1825.1L1920.5 1824.9L1922.8 1825.3L1925 1824.9L1927.2 1824.8L1929.5 1825.2L1931.7 1825.3L1933.9 1825.2L1936.2 1825L1938.4 1824.8L1940.6 1824.9L1942.9 1825.2L1945.1 1825.4L1947.4 1824.3L1949.6 1825.1L1951.8 1824.8L1954.1 1825.3L1956.3 1825.5L1958.5 1824.7L1960.8 1825.4L1963 1824.7L1965.2 1825.4L1967.5 1824.9L1969.7 1825.3L1971.9 1824.4L1974.2 1825.2L1976.4 1825.2L1978.6 1824.8L1980.9 1825.1L1983.1 1824L1985.4 1825L1987.6 1824.7L1989.8 1824.7L1992.1 1825.1L1994.3 1824.9L1996.5 1825.3L1998.8 1824.5L2001 1825.5" stroke="#2e75b6" stroke-width="1.2" fill="none" stroke-linejoin="round"/>
<text transform="translate(1092.8 1711.3) rotate(-90)" font-size="26" text-anchor="middle" textLength="140.6" lengthAdjust="spacingAndGlyphs">Power [a.u.]</text>
<text x="1132.5" y="1848.6" font-size="22.5" text-anchor="middle">0</text>
<text x="1265.3" y="1848.6" font-size="22.5" text-anchor="middle">50</text>
<text x="1388" y="1848.6" font-size="22.5" text-anchor="middle">100</text>
<text x="1509.8" y="1848.6" font-size="22.5" text-anchor="middle">150</text>
<text x="1632.3" y="1848.6" font-size="22.5" text-anchor="middle">200</text>
<text x="1754.5" y="1848.6" font-size="22.5" text-anchor="middle">250</text>
<text x="1876.2" y="1848.6" font-size="22.5" text-anchor="middle">300</text>
<text x="1987.4" y="1848.6" font-size="22.5" text-anchor="middle">350</text>
<text x="1562.9" y="1879.5" font-size="26" text-anchor="middle" textLength="93.5" lengthAdjust="spacingAndGlyphs">Time [s]</text>
</svg>
</body></html>
